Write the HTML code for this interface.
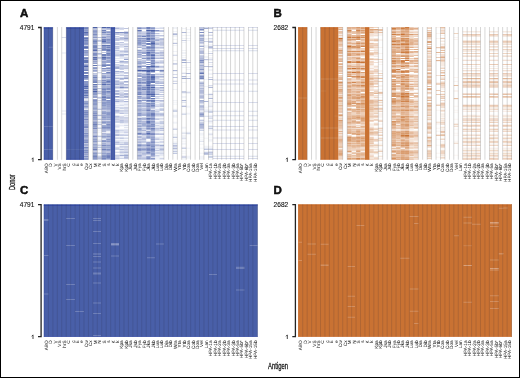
<!DOCTYPE html>
<html><head><meta charset="utf-8"><style>
html,body{margin:0;padding:0;background:#fff;}
body{width:520px;height:378px;overflow:hidden;position:relative;}
#fr{position:absolute;left:0;top:0;width:518px;height:376px;border:1px solid #000;}
svg{position:absolute;left:0;top:0;}
text{font-family:"Liberation Sans",sans-serif;fill:#111;}
svg{-webkit-font-smoothing:antialiased;}
.pl{font-size:11.5px;font-weight:bold;stroke:#000;stroke-width:0.45;}
.one{font-size:6.6px;fill:#222;}
.num{font-size:7.2px;fill:#111;stroke:#111;stroke-width:0.12;}
.xl{font-size:4.7px;fill:#000;text-anchor:end;text-rendering:geometricPrecision;}
.tt{font-size:9.8px;fill:#111;stroke:#111;stroke-width:0.3;}
.ax{fill:none;stroke:#222;stroke-width:1.3;}
</style></head><body><div id="fr"></div>
<svg width="520" height="378" viewBox="0 0 520 378">
<g opacity="0.995"><defs><filter id="bl" x="-5%" y="-5%" width="110%" height="110%"><feGaussianBlur stdDeviation="0.25 0.3"/></filter></defs>
<text x="19.9" y="16.9" class="pl">A</text>
<text x="19.8" y="29.9" class="num" textLength="14.6" lengthAdjust="spacingAndGlyphs">4791</text>
<path d="M31.7 159.2L33 157.8V161.9" fill="none" stroke="#333" stroke-width="0.9"/>
<path d="M38 27.5H41.1V159.6H38" class="ax"/>
<rect x="43.8" y="27.1" width="9.08" height="132.6" fill="rgb(72,94,168)"/>
<rect x="66.21" y="27.1" width="17.77" height="132.6" fill="rgb(72,94,168)"/>
<rect x="110.65" y="27.1" width="4.44" height="132.6" fill="rgb(72,94,168)"/>
<g filter="url(#bl)"><path fill="rgb(72,94,168)" fill-opacity="0.071" d="M97.31 30.09h4.44v1h-4.44zM97.31 31.09h4.44v1h-4.44zM97.31 32.08h4.44v1h-4.44zM97.31 34.08h4.44v1h-4.44zM97.31 39.06h4.44v1h-4.44zM97.31 43.05h4.44v1h-4.44zM97.31 46.04h4.44v1h-4.44zM97.31 47.04h4.44v1h-4.44zM97.31 49.03h4.44v1h-4.44zM97.31 51.03h4.44v1h-4.44zM97.31 52.02h4.44v1h-4.44zM97.31 55.02h4.44v1h-4.44zM97.31 56.01h4.44v1h-4.44zM97.31 59h4.44v1h-4.44zM97.31 60h4.44v1h-4.44zM97.31 61h4.44v1h-4.44zM97.31 63.99h4.44v1h-4.44zM97.31 66.98h4.44v1h-4.44zM97.31 67.98h4.44v1h-4.44zM97.31 69.97h4.44v1h-4.44zM97.31 72.96h4.44v1h-4.44zM97.31 76.95h4.44v1h-4.44zM97.31 82.93h4.44v1h-4.44zM97.31 85.92h4.44v1h-4.44zM97.31 88.91h4.44v1h-4.44zM97.31 89.91h4.44v1h-4.44zM97.31 93.9h4.44v1h-4.44zM97.31 95.89h4.44v1h-4.44zM97.31 102.87h4.44v1h-4.44zM97.31 103.87h4.44v1h-4.44zM97.31 104.87h4.44v1h-4.44zM97.31 105.86h4.44v1h-4.44zM97.31 106.86h4.44v1h-4.44zM97.31 107.86h4.44v1h-4.44zM97.31 110.85h4.44v1h-4.44zM97.31 111.84h4.44v1h-4.44zM97.31 112.84h4.44v1h-4.44zM97.31 115.83h4.44v1h-4.44zM97.31 116.83h4.44v1h-4.44zM97.31 120.82h4.44v1h-4.44zM97.31 124.81h4.44v1h-4.44zM97.31 126.8h4.44v1h-4.44zM97.31 129.79h4.44v1h-4.44zM97.31 131.78h4.44v1h-4.44zM97.31 136.77h4.44v1h-4.44zM97.31 138.76h4.44v1h-4.44zM97.31 139.76h4.44v1h-4.44zM97.31 143.75h4.44v1h-4.44zM97.31 149.73h4.44v1h-4.44zM97.31 151.72h4.44v1h-4.44zM97.31 154.72h4.44v1h-4.44zM115.09 30.09h4.44v1h-4.44zM115.09 45.05h4.44v1h-4.44zM115.09 69.97h4.44v1h-4.44zM115.09 73.96h4.44v1h-4.44zM115.09 75.95h4.44v1h-4.44zM115.09 78.94h4.44v1h-4.44zM115.09 108.85h4.44v1h-4.44zM115.09 123.81h4.44v1h-4.44zM115.09 128.79h4.44v1h-4.44zM115.09 132.78h4.44v1h-4.44zM119.53 75.95h4.44v1h-4.44zM119.53 88.91h4.44v1h-4.44zM119.53 97.89h4.44v1h-4.44zM119.53 102.87h4.44v1h-4.44zM119.53 103.87h4.44v1h-4.44zM119.53 125.8h4.44v1h-4.44zM119.53 128.79h4.44v1h-4.44zM119.53 140.76h4.44v1h-4.44zM119.53 142.75h4.44v1h-4.44zM123.98 53.02h4.44v1h-4.44zM123.98 56.01h4.44v1h-4.44zM123.98 68.97h4.44v1h-4.44zM123.98 69.97h4.44v1h-4.44zM123.98 78.94h4.44v1h-4.44zM123.98 102.87h4.44v1h-4.44zM123.98 132.78h4.44v1h-4.44zM123.98 136.77h4.44v1h-4.44zM123.98 140.76h4.44v1h-4.44zM123.98 158.7h4.44v1h-4.44zM137.31 134.78h4.44v1h-4.44zM141.75 29.09h4.44v1h-4.44zM141.75 63.99h4.44v1h-4.44zM155.08 27.1h4.44v1h-4.44zM155.08 34.08h4.44v1h-4.44zM155.08 49.03h4.44v1h-4.44zM155.08 51.03h4.44v1h-4.44zM155.08 63.99h4.44v1h-4.44zM155.08 67.98h4.44v1h-4.44zM155.08 68.97h4.44v1h-4.44zM155.08 83.93h4.44v1h-4.44zM155.08 100.88h4.44v1h-4.44zM155.08 106.86h4.44v1h-4.44zM155.08 120.82h4.44v1h-4.44zM155.08 126.8h4.44v1h-4.44zM155.08 139.76h4.44v1h-4.44zM155.08 146.74h4.44v1h-4.44zM155.08 150.73h4.44v1h-4.44zM155.08 156.71h4.44v1h-4.44zM155.08 157.71h4.44v1h-4.44zM155.08 158.7h4.44v1h-4.44zM159.53 33.08h4.44v1h-4.44zM159.53 64.99h4.44v1h-4.44zM159.53 67.98h4.44v1h-4.44zM159.53 77.95h4.44v1h-4.44zM159.53 94.9h4.44v1h-4.44zM159.53 101.87h4.44v1h-4.44zM159.53 124.81h4.44v1h-4.44zM159.53 126.8h4.44v1h-4.44zM159.53 130.79h4.44v1h-4.44zM159.53 135.77h4.44v1h-4.44zM159.53 137.77h4.44v1h-4.44zM159.53 142.75h4.44v1h-4.44zM159.53 155.71h4.44v1h-4.44zM172.86 27.1h4.44v1h-4.44zM172.86 28.1h4.44v1h-4.44zM172.86 31.09h4.44v1h-4.44zM172.86 35.08h4.44v1h-4.44zM172.86 36.07h4.44v1h-4.44zM172.86 39.06h4.44v1h-4.44zM172.86 42.05h4.44v1h-4.44zM172.86 45.05h4.44v1h-4.44zM172.86 51.03h4.44v1h-4.44zM172.86 54.02h4.44v1h-4.44zM172.86 60h4.44v1h-4.44zM172.86 70.97h4.44v1h-4.44zM172.86 79.94h4.44v1h-4.44zM172.86 88.91h4.44v1h-4.44zM172.86 99.88h4.44v1h-4.44zM172.86 101.87h4.44v1h-4.44zM172.86 103.87h4.44v1h-4.44zM172.86 108.85h4.44v1h-4.44zM172.86 114.84h4.44v1h-4.44zM172.86 115.83h4.44v1h-4.44zM172.86 116.83h4.44v1h-4.44zM172.86 121.81h4.44v1h-4.44zM172.86 122.81h4.44v1h-4.44zM172.86 127.8h4.44v1h-4.44zM172.86 133.78h4.44v1h-4.44zM172.86 134.78h4.44v1h-4.44zM172.86 138.76h4.44v1h-4.44zM172.86 140.76h4.44v1h-4.44zM172.86 146.74h4.44v1h-4.44zM181.74 28.1h4.44v1h-4.44zM181.74 35.08h4.44v1h-4.44zM181.74 38.07h4.44v1h-4.44zM181.74 42.05h4.44v1h-4.44zM181.74 50.03h4.44v1h-4.44zM181.74 52.02h4.44v1h-4.44zM181.74 53.02h4.44v1h-4.44zM181.74 55.02h4.44v1h-4.44zM181.74 57.01h4.44v1h-4.44zM181.74 64.99h4.44v1h-4.44zM181.74 66.98h4.44v1h-4.44zM181.74 71.96h4.44v1h-4.44zM181.74 76.95h4.44v1h-4.44zM181.74 81.93h4.44v1h-4.44zM181.74 92.9h4.44v1h-4.44zM181.74 95.89h4.44v1h-4.44zM181.74 96.89h4.44v1h-4.44zM181.74 112.84h4.44v1h-4.44zM181.74 126.8h4.44v1h-4.44zM181.74 127.8h4.44v1h-4.44zM181.74 131.78h4.44v1h-4.44zM181.74 134.78h4.44v1h-4.44zM181.74 135.77h4.44v1h-4.44zM181.74 136.77h4.44v1h-4.44zM181.74 138.76h4.44v1h-4.44zM181.74 140.76h4.44v1h-4.44zM181.74 142.75h4.44v1h-4.44zM181.74 143.75h4.44v1h-4.44zM181.74 146.74h4.44v1h-4.44zM181.74 150.73h4.44v1h-4.44zM181.74 152.72h4.44v1h-4.44zM181.74 157.71h4.44v1h-4.44zM181.74 158.7h4.44v1h-4.44zM186.19 29.09h4.44v1h-4.44zM186.19 32.08h4.44v1h-4.44zM186.19 35.08h4.44v1h-4.44zM186.19 38.07h4.44v1h-4.44zM186.19 40.06h4.44v1h-4.44zM186.19 60h4.44v1h-4.44zM186.19 66.98h4.44v1h-4.44zM186.19 68.97h4.44v1h-4.44zM186.19 75.95h4.44v1h-4.44zM186.19 90.91h4.44v1h-4.44zM186.19 92.9h4.44v1h-4.44zM186.19 105.86h4.44v1h-4.44zM186.19 106.86h4.44v1h-4.44zM186.19 112.84h4.44v1h-4.44zM186.19 113.84h4.44v1h-4.44zM186.19 131.78h4.44v1h-4.44zM186.19 133.78h4.44v1h-4.44zM186.19 147.74h4.44v1h-4.44zM186.19 155.71h4.44v1h-4.44zM186.19 156.71h4.44v1h-4.44zM186.19 157.71h4.44v1h-4.44zM199.52 44.05h4.44v1h-4.44zM199.52 54.02h4.44v1h-4.44zM199.52 110.85h4.44v1h-4.44zM199.52 116.83h4.44v1h-4.44zM199.52 120.82h4.44v1h-4.44zM199.52 128.79h4.44v1h-4.44zM199.52 132.78h4.44v1h-4.44zM199.52 133.78h4.44v1h-4.44zM199.52 134.78h4.44v1h-4.44zM199.52 136.77h4.44v1h-4.44zM199.52 138.76h4.44v1h-4.44zM199.52 143.75h4.44v1h-4.44zM199.52 147.74h4.44v1h-4.44zM199.52 152.72h4.44v1h-4.44zM199.52 155.71h4.44v1h-4.44zM199.52 156.71h4.44v1h-4.44zM199.52 157.71h4.44v1h-4.44zM199.52 158.7h4.44v1h-4.44zM203.96 31.09h4.44v1h-4.44zM203.96 35.08h4.44v1h-4.44zM203.96 38.07h4.44v1h-4.44zM203.96 39.06h4.44v1h-4.44zM203.96 45.05h4.44v1h-4.44zM203.96 46.04h4.44v1h-4.44zM203.96 47.04h4.44v1h-4.44zM203.96 53.02h4.44v1h-4.44zM203.96 56.01h4.44v1h-4.44zM203.96 57.01h4.44v1h-4.44zM203.96 60h4.44v1h-4.44zM203.96 78.94h4.44v1h-4.44zM203.96 85.92h4.44v1h-4.44zM203.96 93.9h4.44v1h-4.44zM203.96 106.86h4.44v1h-4.44zM203.96 108.85h4.44v1h-4.44zM203.96 109.85h4.44v1h-4.44zM203.96 111.84h4.44v1h-4.44zM203.96 120.82h4.44v1h-4.44zM203.96 137.77h4.44v1h-4.44zM203.96 145.74h4.44v1h-4.44zM203.96 146.74h4.44v1h-4.44zM203.96 147.74h4.44v1h-4.44zM208.41 34.08h4.44v1h-4.44zM208.41 39.06h4.44v1h-4.44zM208.41 40.06h4.44v1h-4.44zM208.41 44.05h4.44v1h-4.44zM208.41 45.05h4.44v1h-4.44zM208.41 51.03h4.44v1h-4.44zM208.41 55.02h4.44v1h-4.44zM208.41 57.01h4.44v1h-4.44zM208.41 58.01h4.44v1h-4.44zM208.41 60h4.44v1h-4.44zM208.41 63.99h4.44v1h-4.44zM208.41 66.98h4.44v1h-4.44zM208.41 68.97h4.44v1h-4.44zM208.41 69.97h4.44v1h-4.44zM208.41 72.96h4.44v1h-4.44zM208.41 73.96h4.44v1h-4.44zM208.41 85.92h4.44v1h-4.44zM208.41 92.9h4.44v1h-4.44zM208.41 94.9h4.44v1h-4.44zM208.41 95.89h4.44v1h-4.44zM208.41 96.89h4.44v1h-4.44zM208.41 99.88h4.44v1h-4.44zM208.41 100.88h4.44v1h-4.44zM208.41 101.87h4.44v1h-4.44zM208.41 102.87h4.44v1h-4.44zM208.41 103.87h4.44v1h-4.44zM208.41 104.87h4.44v1h-4.44zM208.41 106.86h4.44v1h-4.44zM208.41 108.85h4.44v1h-4.44zM208.41 109.85h4.44v1h-4.44zM208.41 114.84h4.44v1h-4.44zM208.41 116.83h4.44v1h-4.44zM208.41 119.82h4.44v1h-4.44zM208.41 121.81h4.44v1h-4.44zM208.41 122.81h4.44v1h-4.44zM208.41 128.79h4.44v1h-4.44zM208.41 129.79h4.44v1h-4.44zM208.41 132.78h4.44v1h-4.44zM208.41 134.78h4.44v1h-4.44zM208.41 136.77h4.44v1h-4.44zM208.41 138.76h4.44v1h-4.44zM208.41 139.76h4.44v1h-4.44zM208.41 140.76h4.44v1h-4.44zM208.41 145.74h4.44v1h-4.44zM208.41 146.74h4.44v1h-4.44zM208.41 147.74h4.44v1h-4.44zM208.41 150.73h4.44v1h-4.44zM208.41 158.7h4.44v1h-4.44z"/>
<path fill="rgb(72,94,168)" fill-opacity="0.143" d="M83.98 98.88h4.44v1h-4.44zM106.2 44.05h4.44v1h-4.44zM106.2 119.82h4.44v1h-4.44zM106.2 130.79h4.44v1h-4.44zM115.09 29.09h4.44v1h-4.44zM115.09 37.07h4.44v1h-4.44zM115.09 49.03h4.44v1h-4.44zM115.09 51.03h4.44v1h-4.44zM115.09 56.01h4.44v1h-4.44zM115.09 58.01h4.44v1h-4.44zM115.09 60h4.44v1h-4.44zM115.09 84.93h4.44v1h-4.44zM115.09 91.9h4.44v1h-4.44zM115.09 101.87h4.44v1h-4.44zM115.09 102.87h4.44v1h-4.44zM115.09 107.86h4.44v1h-4.44zM115.09 124.81h4.44v1h-4.44zM115.09 126.8h4.44v1h-4.44zM115.09 136.77h4.44v1h-4.44zM115.09 139.76h4.44v1h-4.44zM115.09 140.76h4.44v1h-4.44zM115.09 158.7h4.44v1h-4.44zM119.53 27.1h4.44v1h-4.44zM119.53 40.06h4.44v1h-4.44zM119.53 43.05h4.44v1h-4.44zM119.53 47.04h4.44v1h-4.44zM119.53 53.02h4.44v1h-4.44zM119.53 57.01h4.44v1h-4.44zM119.53 58.01h4.44v1h-4.44zM119.53 60h4.44v1h-4.44zM119.53 62.99h4.44v1h-4.44zM119.53 63.99h4.44v1h-4.44zM119.53 72.96h4.44v1h-4.44zM119.53 73.96h4.44v1h-4.44zM119.53 76.95h4.44v1h-4.44zM119.53 90.91h4.44v1h-4.44zM119.53 101.87h4.44v1h-4.44zM119.53 111.84h4.44v1h-4.44zM119.53 122.81h4.44v1h-4.44zM119.53 124.81h4.44v1h-4.44zM119.53 130.79h4.44v1h-4.44zM119.53 136.77h4.44v1h-4.44zM119.53 149.73h4.44v1h-4.44zM119.53 155.71h4.44v1h-4.44zM123.98 41.06h4.44v1h-4.44zM123.98 45.05h4.44v1h-4.44zM123.98 47.04h4.44v1h-4.44zM123.98 101.87h4.44v1h-4.44zM123.98 104.87h4.44v1h-4.44zM123.98 108.85h4.44v1h-4.44zM123.98 111.84h4.44v1h-4.44zM123.98 122.81h4.44v1h-4.44zM123.98 128.79h4.44v1h-4.44zM123.98 130.79h4.44v1h-4.44zM123.98 133.78h4.44v1h-4.44zM123.98 139.76h4.44v1h-4.44zM123.98 147.74h4.44v1h-4.44zM123.98 152.72h4.44v1h-4.44zM137.31 49.03h4.44v1h-4.44zM137.31 71.96h4.44v1h-4.44zM137.31 98.88h4.44v1h-4.44zM137.31 126.8h4.44v1h-4.44zM137.31 137.77h4.44v1h-4.44zM137.31 142.75h4.44v1h-4.44zM141.75 59h4.44v1h-4.44zM141.75 71.96h4.44v1h-4.44zM141.75 106.86h4.44v1h-4.44zM141.75 119.82h4.44v1h-4.44zM141.75 126.8h4.44v1h-4.44zM141.75 128.79h4.44v1h-4.44zM141.75 131.78h4.44v1h-4.44zM155.08 36.07h4.44v1h-4.44zM155.08 45.05h4.44v1h-4.44zM155.08 46.04h4.44v1h-4.44zM155.08 54.02h4.44v1h-4.44zM155.08 56.01h4.44v1h-4.44zM155.08 60h4.44v1h-4.44zM155.08 64.99h4.44v1h-4.44zM155.08 72.96h4.44v1h-4.44zM155.08 74.96h4.44v1h-4.44zM155.08 79.94h4.44v1h-4.44zM155.08 96.89h4.44v1h-4.44zM155.08 104.87h4.44v1h-4.44zM155.08 109.85h4.44v1h-4.44zM155.08 111.84h4.44v1h-4.44zM155.08 121.81h4.44v1h-4.44zM155.08 125.8h4.44v1h-4.44zM155.08 130.79h4.44v1h-4.44zM155.08 136.77h4.44v1h-4.44zM155.08 151.72h4.44v1h-4.44zM155.08 155.71h4.44v1h-4.44zM159.53 27.1h4.44v1h-4.44zM159.53 36.07h4.44v1h-4.44zM159.53 46.04h4.44v1h-4.44zM159.53 56.01h4.44v1h-4.44zM159.53 68.97h4.44v1h-4.44zM159.53 71.96h4.44v1h-4.44zM159.53 72.96h4.44v1h-4.44zM159.53 74.96h4.44v1h-4.44zM159.53 79.94h4.44v1h-4.44zM159.53 90.91h4.44v1h-4.44zM159.53 123.81h4.44v1h-4.44zM159.53 128.79h4.44v1h-4.44zM159.53 136.77h4.44v1h-4.44zM159.53 146.74h4.44v1h-4.44zM159.53 150.73h4.44v1h-4.44zM159.53 151.72h4.44v1h-4.44zM159.53 153.72h4.44v1h-4.44zM159.53 154.72h4.44v1h-4.44zM159.53 158.7h4.44v1h-4.44zM199.52 80.94h4.44v1h-4.44zM61.8 52.5h4.4v1h-4.4zM61.8 110.5h4.4v1h-4.4zM61.8 113.5h4.4v1h-4.4z"/>
<path fill="rgb(72,94,168)" fill-opacity="0.214" d="M83.98 99.88h4.44v1h-4.44zM83.98 145.74h4.44v1h-4.44zM97.31 45.05h4.44v1h-4.44zM97.31 71.96h4.44v1h-4.44zM97.31 80.94h4.44v1h-4.44zM97.31 91.9h4.44v1h-4.44zM97.31 97.89h4.44v1h-4.44zM97.31 99.88h4.44v1h-4.44zM97.31 101.87h4.44v1h-4.44zM97.31 148.73h4.44v1h-4.44zM101.76 44.05h4.44v1h-4.44zM101.76 109.85h4.44v1h-4.44zM101.76 119.82h4.44v1h-4.44zM106.2 70.97h4.44v1h-4.44zM115.09 27.1h4.44v1h-4.44zM115.09 52.02h4.44v1h-4.44zM115.09 53.02h4.44v1h-4.44zM115.09 64.99h4.44v1h-4.44zM115.09 71.96h4.44v1h-4.44zM115.09 76.95h4.44v1h-4.44zM115.09 87.92h4.44v1h-4.44zM115.09 104.87h4.44v1h-4.44zM115.09 112.84h4.44v1h-4.44zM115.09 117.83h4.44v1h-4.44zM115.09 119.82h4.44v1h-4.44zM115.09 125.8h4.44v1h-4.44zM115.09 142.75h4.44v1h-4.44zM115.09 146.74h4.44v1h-4.44zM115.09 156.71h4.44v1h-4.44zM119.53 29.09h4.44v1h-4.44zM119.53 35.08h4.44v1h-4.44zM119.53 45.05h4.44v1h-4.44zM119.53 46.04h4.44v1h-4.44zM119.53 50.03h4.44v1h-4.44zM119.53 52.02h4.44v1h-4.44zM119.53 56.01h4.44v1h-4.44zM119.53 80.94h4.44v1h-4.44zM119.53 89.91h4.44v1h-4.44zM119.53 91.9h4.44v1h-4.44zM119.53 98.88h4.44v1h-4.44zM119.53 106.86h4.44v1h-4.44zM119.53 115.83h4.44v1h-4.44zM119.53 118.82h4.44v1h-4.44zM119.53 131.78h4.44v1h-4.44zM119.53 133.78h4.44v1h-4.44zM119.53 139.76h4.44v1h-4.44zM119.53 150.73h4.44v1h-4.44zM119.53 152.72h4.44v1h-4.44zM123.98 31.09h4.44v1h-4.44zM123.98 43.05h4.44v1h-4.44zM123.98 49.03h4.44v1h-4.44zM123.98 55.02h4.44v1h-4.44zM123.98 57.01h4.44v1h-4.44zM123.98 58.01h4.44v1h-4.44zM123.98 62.99h4.44v1h-4.44zM123.98 75.95h4.44v1h-4.44zM123.98 85.92h4.44v1h-4.44zM123.98 87.92h4.44v1h-4.44zM123.98 94.9h4.44v1h-4.44zM123.98 103.87h4.44v1h-4.44zM123.98 114.84h4.44v1h-4.44zM123.98 118.82h4.44v1h-4.44zM123.98 126.8h4.44v1h-4.44zM123.98 129.79h4.44v1h-4.44zM123.98 149.73h4.44v1h-4.44zM123.98 150.73h4.44v1h-4.44zM123.98 153.72h4.44v1h-4.44zM137.31 29.09h4.44v1h-4.44zM137.31 94.9h4.44v1h-4.44zM141.75 31.09h4.44v1h-4.44zM141.75 37.07h4.44v1h-4.44zM141.75 83.93h4.44v1h-4.44zM141.75 94.9h4.44v1h-4.44zM141.75 116.83h4.44v1h-4.44zM141.75 130.79h4.44v1h-4.44zM141.75 135.77h4.44v1h-4.44zM141.75 139.76h4.44v1h-4.44zM141.75 155.71h4.44v1h-4.44zM155.08 28.1h4.44v1h-4.44zM155.08 37.07h4.44v1h-4.44zM155.08 38.07h4.44v1h-4.44zM155.08 41.06h4.44v1h-4.44zM155.08 48.04h4.44v1h-4.44zM155.08 50.03h4.44v1h-4.44zM155.08 57.01h4.44v1h-4.44zM155.08 61h4.44v1h-4.44zM155.08 62.99h4.44v1h-4.44zM155.08 78.94h4.44v1h-4.44zM155.08 89.91h4.44v1h-4.44zM155.08 90.91h4.44v1h-4.44zM155.08 91.9h4.44v1h-4.44zM155.08 92.9h4.44v1h-4.44zM155.08 101.87h4.44v1h-4.44zM155.08 103.87h4.44v1h-4.44zM155.08 108.85h4.44v1h-4.44zM155.08 115.83h4.44v1h-4.44zM155.08 117.83h4.44v1h-4.44zM155.08 137.77h4.44v1h-4.44zM155.08 143.75h4.44v1h-4.44zM155.08 145.74h4.44v1h-4.44zM159.53 28.1h4.44v1h-4.44zM159.53 48.04h4.44v1h-4.44zM159.53 50.03h4.44v1h-4.44zM159.53 51.03h4.44v1h-4.44zM159.53 60h4.44v1h-4.44zM159.53 62.99h4.44v1h-4.44zM159.53 88.91h4.44v1h-4.44zM159.53 97.89h4.44v1h-4.44zM159.53 102.87h4.44v1h-4.44zM159.53 107.86h4.44v1h-4.44zM159.53 115.83h4.44v1h-4.44zM159.53 117.83h4.44v1h-4.44zM159.53 118.82h4.44v1h-4.44zM159.53 132.78h4.44v1h-4.44zM159.53 140.76h4.44v1h-4.44zM172.86 55.02h4.44v1h-4.44zM172.86 63.99h4.44v1h-4.44zM172.86 73.96h4.44v1h-4.44zM172.86 80.94h4.44v1h-4.44zM172.86 109.85h4.44v1h-4.44zM172.86 148.73h4.44v1h-4.44zM181.74 72.96h4.44v1h-4.44zM181.74 101.87h4.44v1h-4.44zM181.74 132.78h4.44v1h-4.44zM181.74 137.77h4.44v1h-4.44zM181.74 155.71h4.44v1h-4.44zM186.19 91.9h4.44v1h-4.44zM199.52 37.07h4.44v1h-4.44zM199.52 45.05h4.44v1h-4.44zM199.52 49.03h4.44v1h-4.44zM199.52 73.96h4.44v1h-4.44zM199.52 78.94h4.44v1h-4.44zM199.52 86.92h4.44v1h-4.44zM199.52 93.9h4.44v1h-4.44zM199.52 107.86h4.44v1h-4.44zM199.52 109.85h4.44v1h-4.44zM199.52 140.76h4.44v1h-4.44zM203.96 27.1h4.44v1h-4.44zM203.96 110.85h4.44v1h-4.44zM203.96 115.83h4.44v1h-4.44zM208.41 27.1h4.44v1h-4.44zM208.41 35.08h4.44v1h-4.44zM208.41 38.07h4.44v1h-4.44zM208.41 48.04h4.44v1h-4.44zM208.41 59h4.44v1h-4.44zM208.41 61.99h4.44v1h-4.44zM208.41 76.95h4.44v1h-4.44zM208.41 84.93h4.44v1h-4.44zM208.41 105.86h4.44v1h-4.44zM208.41 115.83h4.44v1h-4.44zM208.41 120.82h4.44v1h-4.44zM208.41 133.78h4.44v1h-4.44zM208.41 152.72h4.44v1h-4.44zM212.85 27.1h4.44v1h-4.44zM212.85 29.8h4.44v1h-4.44zM212.85 45h4.44v1h-4.44zM212.85 48h4.44v1h-4.44zM212.85 50.3h4.44v1h-4.44zM212.85 73.1h4.44v1h-4.44zM212.85 79.6h4.44v1h-4.44zM212.85 83.4h4.44v1h-4.44zM212.85 90.8h4.44v1h-4.44zM212.85 101.9h4.44v1h-4.44zM212.85 110.7h4.44v1h-4.44zM212.85 115.3h4.44v1h-4.44zM212.85 119.8h4.44v1h-4.44zM212.85 125.9h4.44v1h-4.44zM212.85 129.6h4.44v1h-4.44zM212.85 137.5h4.44v1h-4.44zM212.85 143h4.44v1h-4.44zM212.85 149.1h4.44v1h-4.44zM212.85 155.7h4.44v1h-4.44zM212.85 157.9h4.44v1h-4.44zM217.29 27.1h4.44v1h-4.44zM217.29 29.8h4.44v1h-4.44zM217.29 45h4.44v1h-4.44zM217.29 48h4.44v1h-4.44zM217.29 50.3h4.44v1h-4.44zM217.29 73.1h4.44v1h-4.44zM217.29 79.6h4.44v1h-4.44zM217.29 83.4h4.44v1h-4.44zM217.29 90.8h4.44v1h-4.44zM217.29 101.9h4.44v1h-4.44zM217.29 110.7h4.44v1h-4.44zM217.29 115.3h4.44v1h-4.44zM217.29 119.8h4.44v1h-4.44zM217.29 125.9h4.44v1h-4.44zM217.29 129.6h4.44v1h-4.44zM217.29 137.5h4.44v1h-4.44zM217.29 143h4.44v1h-4.44zM217.29 149.1h4.44v1h-4.44zM217.29 155.7h4.44v1h-4.44zM217.29 157.9h4.44v1h-4.44zM221.74 27.1h4.44v1h-4.44zM221.74 29.8h4.44v1h-4.44zM221.74 45h4.44v1h-4.44zM221.74 48h4.44v1h-4.44zM221.74 50.3h4.44v1h-4.44zM221.74 73.1h4.44v1h-4.44zM221.74 79.6h4.44v1h-4.44zM221.74 83.4h4.44v1h-4.44zM221.74 90.8h4.44v1h-4.44zM221.74 101.9h4.44v1h-4.44zM221.74 110.7h4.44v1h-4.44zM221.74 115.3h4.44v1h-4.44zM221.74 119.8h4.44v1h-4.44zM221.74 125.9h4.44v1h-4.44zM221.74 129.6h4.44v1h-4.44zM221.74 137.5h4.44v1h-4.44zM221.74 143h4.44v1h-4.44zM221.74 149.1h4.44v1h-4.44zM221.74 155.7h4.44v1h-4.44zM221.74 157.9h4.44v1h-4.44zM226.18 27.1h4.44v1h-4.44zM226.18 29.8h4.44v1h-4.44zM226.18 45h4.44v1h-4.44zM226.18 48h4.44v1h-4.44zM226.18 50.3h4.44v1h-4.44zM226.18 73.1h4.44v1h-4.44zM226.18 79.6h4.44v1h-4.44zM226.18 83.4h4.44v1h-4.44zM226.18 90.8h4.44v1h-4.44zM226.18 101.9h4.44v1h-4.44zM226.18 110.7h4.44v1h-4.44zM226.18 115.3h4.44v1h-4.44zM226.18 119.8h4.44v1h-4.44zM226.18 125.9h4.44v1h-4.44zM226.18 129.6h4.44v1h-4.44zM226.18 137.5h4.44v1h-4.44zM226.18 143h4.44v1h-4.44zM226.18 149.1h4.44v1h-4.44zM226.18 155.7h4.44v1h-4.44zM226.18 157.9h4.44v1h-4.44zM230.63 27.1h4.44v1h-4.44zM230.63 29.8h4.44v1h-4.44zM230.63 45h4.44v1h-4.44zM230.63 48h4.44v1h-4.44zM230.63 50.3h4.44v1h-4.44zM230.63 73.1h4.44v1h-4.44zM230.63 79.6h4.44v1h-4.44zM230.63 83.4h4.44v1h-4.44zM230.63 90.8h4.44v1h-4.44zM230.63 101.9h4.44v1h-4.44zM230.63 110.7h4.44v1h-4.44zM230.63 115.3h4.44v1h-4.44zM230.63 119.8h4.44v1h-4.44zM230.63 125.9h4.44v1h-4.44zM230.63 129.6h4.44v1h-4.44zM230.63 137.5h4.44v1h-4.44zM230.63 143h4.44v1h-4.44zM230.63 149.1h4.44v1h-4.44zM230.63 155.7h4.44v1h-4.44zM230.63 157.9h4.44v1h-4.44zM235.07 27.1h4.44v1h-4.44zM235.07 29.8h4.44v1h-4.44zM235.07 45h4.44v1h-4.44zM235.07 48h4.44v1h-4.44zM235.07 50.3h4.44v1h-4.44zM235.07 73.1h4.44v1h-4.44zM235.07 79.6h4.44v1h-4.44zM235.07 83.4h4.44v1h-4.44zM235.07 90.8h4.44v1h-4.44zM235.07 101.9h4.44v1h-4.44zM235.07 110.7h4.44v1h-4.44zM235.07 115.3h4.44v1h-4.44zM235.07 119.8h4.44v1h-4.44zM235.07 125.9h4.44v1h-4.44zM235.07 129.6h4.44v1h-4.44zM235.07 137.5h4.44v1h-4.44zM235.07 143h4.44v1h-4.44zM235.07 149.1h4.44v1h-4.44zM235.07 155.7h4.44v1h-4.44zM235.07 157.9h4.44v1h-4.44zM239.51 27.1h4.44v1h-4.44zM239.51 29.8h4.44v1h-4.44zM239.51 45h4.44v1h-4.44zM239.51 48h4.44v1h-4.44zM239.51 50.3h4.44v1h-4.44zM239.51 73.1h4.44v1h-4.44zM239.51 79.6h4.44v1h-4.44zM239.51 83.4h4.44v1h-4.44zM239.51 90.8h4.44v1h-4.44zM239.51 101.9h4.44v1h-4.44zM239.51 110.7h4.44v1h-4.44zM239.51 115.3h4.44v1h-4.44zM239.51 119.8h4.44v1h-4.44zM239.51 125.9h4.44v1h-4.44zM239.51 129.6h4.44v1h-4.44zM239.51 137.5h4.44v1h-4.44zM239.51 143h4.44v1h-4.44zM239.51 149.1h4.44v1h-4.44zM239.51 155.7h4.44v1h-4.44zM239.51 157.9h4.44v1h-4.44zM248.4 27.1h4.44v1h-4.44zM248.4 29.8h4.44v1h-4.44zM248.4 45h4.44v1h-4.44zM248.4 48h4.44v1h-4.44zM248.4 50.3h4.44v1h-4.44zM248.4 73.1h4.44v1h-4.44zM248.4 79.6h4.44v1h-4.44zM248.4 83.4h4.44v1h-4.44zM248.4 90.8h4.44v1h-4.44zM248.4 101.9h4.44v1h-4.44zM248.4 110.7h4.44v1h-4.44zM248.4 115.3h4.44v1h-4.44zM248.4 119.8h4.44v1h-4.44zM248.4 125.9h4.44v1h-4.44zM248.4 129.6h4.44v1h-4.44zM248.4 137.5h4.44v1h-4.44zM248.4 143h4.44v1h-4.44zM248.4 149.1h4.44v1h-4.44zM248.4 155.7h4.44v1h-4.44zM248.4 157.9h4.44v1h-4.44zM252.84 27.1h4.86v1h-4.86zM252.84 29.8h4.86v1h-4.86zM252.84 45h4.86v1h-4.86zM252.84 48h4.86v1h-4.86zM252.84 50.3h4.86v1h-4.86zM252.84 73.1h4.86v1h-4.86zM252.84 79.6h4.86v1h-4.86zM252.84 83.4h4.86v1h-4.86zM252.84 90.8h4.86v1h-4.86zM252.84 101.9h4.86v1h-4.86zM252.84 110.7h4.86v1h-4.86zM252.84 115.3h4.86v1h-4.86zM252.84 119.8h4.86v1h-4.86zM252.84 125.9h4.86v1h-4.86zM252.84 129.6h4.86v1h-4.86zM252.84 137.5h4.86v1h-4.86zM252.84 143h4.86v1h-4.86zM252.84 149.1h4.86v1h-4.86zM252.84 155.7h4.86v1h-4.86zM252.84 157.9h4.86v1h-4.86zM61.8 37.1h4.4v1h-4.4z"/>
<path fill="rgb(72,94,168)" fill-opacity="0.286" d="M83.98 45.05h4.44v1h-4.44zM83.98 62.99h4.44v1h-4.44zM83.98 97.89h4.44v1h-4.44zM83.98 142.75h4.44v1h-4.44zM92.87 38.07h4.44v1h-4.44zM92.87 68.97h4.44v1h-4.44zM92.87 73.96h4.44v1h-4.44zM92.87 150.73h4.44v1h-4.44zM97.31 27.1h4.44v1h-4.44zM97.31 41.06h4.44v1h-4.44zM97.31 50.03h4.44v1h-4.44zM97.31 54.02h4.44v1h-4.44zM97.31 58.01h4.44v1h-4.44zM97.31 64.99h4.44v1h-4.44zM97.31 79.94h4.44v1h-4.44zM97.31 81.93h4.44v1h-4.44zM97.31 121.81h4.44v1h-4.44zM97.31 155.71h4.44v1h-4.44zM97.31 158.7h4.44v1h-4.44zM101.76 29.09h4.44v1h-4.44zM101.76 35.08h4.44v1h-4.44zM101.76 73.96h4.44v1h-4.44zM101.76 141.75h4.44v1h-4.44zM106.2 77.95h4.44v1h-4.44zM106.2 132.78h4.44v1h-4.44zM115.09 36.07h4.44v1h-4.44zM115.09 42.05h4.44v1h-4.44zM115.09 43.05h4.44v1h-4.44zM115.09 47.04h4.44v1h-4.44zM115.09 54.02h4.44v1h-4.44zM115.09 61.99h4.44v1h-4.44zM115.09 63.99h4.44v1h-4.44zM115.09 72.96h4.44v1h-4.44zM115.09 79.94h4.44v1h-4.44zM115.09 85.92h4.44v1h-4.44zM115.09 99.88h4.44v1h-4.44zM115.09 106.86h4.44v1h-4.44zM115.09 120.82h4.44v1h-4.44zM115.09 130.79h4.44v1h-4.44zM115.09 147.74h4.44v1h-4.44zM115.09 151.72h4.44v1h-4.44zM115.09 155.71h4.44v1h-4.44zM119.53 28.1h4.44v1h-4.44zM119.53 33.08h4.44v1h-4.44zM119.53 34.08h4.44v1h-4.44zM119.53 44.05h4.44v1h-4.44zM119.53 65.98h4.44v1h-4.44zM119.53 66.98h4.44v1h-4.44zM119.53 68.97h4.44v1h-4.44zM119.53 71.96h4.44v1h-4.44zM119.53 84.93h4.44v1h-4.44zM119.53 87.92h4.44v1h-4.44zM119.53 92.9h4.44v1h-4.44zM119.53 95.89h4.44v1h-4.44zM119.53 99.88h4.44v1h-4.44zM119.53 100.88h4.44v1h-4.44zM119.53 104.87h4.44v1h-4.44zM119.53 109.85h4.44v1h-4.44zM119.53 110.85h4.44v1h-4.44zM119.53 116.83h4.44v1h-4.44zM119.53 117.83h4.44v1h-4.44zM119.53 129.79h4.44v1h-4.44zM119.53 141.75h4.44v1h-4.44zM119.53 145.74h4.44v1h-4.44zM119.53 146.74h4.44v1h-4.44zM123.98 34.08h4.44v1h-4.44zM123.98 36.07h4.44v1h-4.44zM123.98 40.06h4.44v1h-4.44zM123.98 44.05h4.44v1h-4.44zM123.98 48.04h4.44v1h-4.44zM123.98 50.03h4.44v1h-4.44zM123.98 52.02h4.44v1h-4.44zM123.98 64.99h4.44v1h-4.44zM123.98 65.98h4.44v1h-4.44zM123.98 66.98h4.44v1h-4.44zM123.98 72.96h4.44v1h-4.44zM123.98 81.93h4.44v1h-4.44zM123.98 84.93h4.44v1h-4.44zM123.98 89.91h4.44v1h-4.44zM123.98 90.91h4.44v1h-4.44zM123.98 98.88h4.44v1h-4.44zM123.98 106.86h4.44v1h-4.44zM123.98 107.86h4.44v1h-4.44zM123.98 109.85h4.44v1h-4.44zM123.98 110.85h4.44v1h-4.44zM123.98 116.83h4.44v1h-4.44zM123.98 117.83h4.44v1h-4.44zM123.98 119.82h4.44v1h-4.44zM123.98 120.82h4.44v1h-4.44zM123.98 121.81h4.44v1h-4.44zM123.98 124.81h4.44v1h-4.44zM123.98 137.77h4.44v1h-4.44zM123.98 142.75h4.44v1h-4.44zM123.98 145.74h4.44v1h-4.44zM123.98 146.74h4.44v1h-4.44zM137.31 34.08h4.44v1h-4.44zM137.31 37.07h4.44v1h-4.44zM137.31 46.04h4.44v1h-4.44zM137.31 60h4.44v1h-4.44zM137.31 103.87h4.44v1h-4.44zM137.31 115.83h4.44v1h-4.44zM137.31 131.78h4.44v1h-4.44zM137.31 139.76h4.44v1h-4.44zM137.31 146.74h4.44v1h-4.44zM137.31 153.72h4.44v1h-4.44zM141.75 32.08h4.44v1h-4.44zM141.75 34.08h4.44v1h-4.44zM141.75 44.05h4.44v1h-4.44zM141.75 47.04h4.44v1h-4.44zM141.75 49.03h4.44v1h-4.44zM141.75 56.01h4.44v1h-4.44zM141.75 57.01h4.44v1h-4.44zM141.75 68.97h4.44v1h-4.44zM141.75 72.96h4.44v1h-4.44zM141.75 95.89h4.44v1h-4.44zM141.75 98.88h4.44v1h-4.44zM141.75 101.87h4.44v1h-4.44zM141.75 110.85h4.44v1h-4.44zM141.75 134.78h4.44v1h-4.44zM141.75 136.77h4.44v1h-4.44zM141.75 146.74h4.44v1h-4.44zM141.75 150.73h4.44v1h-4.44zM141.75 154.72h4.44v1h-4.44zM141.75 156.71h4.44v1h-4.44zM146.2 98.88h4.44v1h-4.44zM150.64 126.8h4.44v1h-4.44zM155.08 42.05h4.44v1h-4.44zM155.08 77.95h4.44v1h-4.44zM155.08 87.92h4.44v1h-4.44zM155.08 95.89h4.44v1h-4.44zM155.08 97.89h4.44v1h-4.44zM155.08 124.81h4.44v1h-4.44zM155.08 128.79h4.44v1h-4.44zM155.08 129.79h4.44v1h-4.44zM155.08 132.78h4.44v1h-4.44zM155.08 147.74h4.44v1h-4.44zM155.08 152.72h4.44v1h-4.44zM155.08 154.72h4.44v1h-4.44zM159.53 40.06h4.44v1h-4.44zM159.53 41.06h4.44v1h-4.44zM159.53 45.05h4.44v1h-4.44zM159.53 54.02h4.44v1h-4.44zM159.53 57.01h4.44v1h-4.44zM159.53 61h4.44v1h-4.44zM159.53 66.98h4.44v1h-4.44zM159.53 76.95h4.44v1h-4.44zM159.53 78.94h4.44v1h-4.44zM159.53 80.94h4.44v1h-4.44zM159.53 87.92h4.44v1h-4.44zM159.53 91.9h4.44v1h-4.44zM159.53 95.89h4.44v1h-4.44zM159.53 100.88h4.44v1h-4.44zM159.53 103.87h4.44v1h-4.44zM159.53 104.87h4.44v1h-4.44zM159.53 120.82h4.44v1h-4.44zM159.53 121.81h4.44v1h-4.44zM159.53 125.8h4.44v1h-4.44zM159.53 138.76h4.44v1h-4.44zM159.53 141.75h4.44v1h-4.44zM159.53 145.74h4.44v1h-4.44zM159.53 147.74h4.44v1h-4.44zM159.53 152.72h4.44v1h-4.44zM159.53 157.71h4.44v1h-4.44zM172.86 33.08h4.44v1h-4.44zM172.86 62.99h4.44v1h-4.44zM172.86 82.93h4.44v1h-4.44zM172.86 142.75h4.44v1h-4.44zM181.74 40.06h4.44v1h-4.44zM181.74 90.91h4.44v1h-4.44zM181.74 91.9h4.44v1h-4.44zM181.74 113.84h4.44v1h-4.44zM181.74 156.71h4.44v1h-4.44zM186.19 61.99h4.44v1h-4.44zM186.19 132.78h4.44v1h-4.44zM199.52 34.08h4.44v1h-4.44zM199.52 41.06h4.44v1h-4.44zM199.52 43.05h4.44v1h-4.44zM199.52 48.04h4.44v1h-4.44zM199.52 50.03h4.44v1h-4.44zM199.52 55.02h4.44v1h-4.44zM199.52 62.99h4.44v1h-4.44zM199.52 63.99h4.44v1h-4.44zM199.52 69.97h4.44v1h-4.44zM199.52 70.97h4.44v1h-4.44zM199.52 83.93h4.44v1h-4.44zM199.52 85.92h4.44v1h-4.44zM199.52 88.91h4.44v1h-4.44zM199.52 97.89h4.44v1h-4.44zM199.52 102.87h4.44v1h-4.44zM199.52 111.84h4.44v1h-4.44zM199.52 121.81h4.44v1h-4.44zM199.52 122.81h4.44v1h-4.44zM203.96 41.06h4.44v1h-4.44zM203.96 151.72h4.44v1h-4.44zM208.41 28.1h4.44v1h-4.44zM208.41 42.05h4.44v1h-4.44zM208.41 53.02h4.44v1h-4.44zM208.41 110.85h4.44v1h-4.44zM208.41 117.83h4.44v1h-4.44zM208.41 155.71h4.44v1h-4.44z"/>
<path fill="rgb(72,94,168)" fill-opacity="0.357" d="M83.98 88.91h4.44v1h-4.44zM83.98 127.8h4.44v1h-4.44zM83.98 131.78h4.44v1h-4.44zM83.98 154.72h4.44v1h-4.44zM92.87 29.09h4.44v1h-4.44zM92.87 56.01h4.44v1h-4.44zM92.87 72.96h4.44v1h-4.44zM92.87 109.85h4.44v1h-4.44zM92.87 133.78h4.44v1h-4.44zM92.87 142.75h4.44v1h-4.44zM97.31 37.07h4.44v1h-4.44zM97.31 40.06h4.44v1h-4.44zM97.31 57.01h4.44v1h-4.44zM97.31 87.92h4.44v1h-4.44zM97.31 90.91h4.44v1h-4.44zM97.31 92.9h4.44v1h-4.44zM97.31 96.89h4.44v1h-4.44zM97.31 127.8h4.44v1h-4.44zM97.31 140.76h4.44v1h-4.44zM97.31 144.75h4.44v1h-4.44zM97.31 152.72h4.44v1h-4.44zM97.31 156.71h4.44v1h-4.44zM101.76 52.02h4.44v1h-4.44zM101.76 60h4.44v1h-4.44zM101.76 68.97h4.44v1h-4.44zM101.76 70.97h4.44v1h-4.44zM101.76 78.94h4.44v1h-4.44zM101.76 100.88h4.44v1h-4.44zM101.76 134.78h4.44v1h-4.44zM101.76 137.77h4.44v1h-4.44zM101.76 143.75h4.44v1h-4.44zM106.2 29.09h4.44v1h-4.44zM106.2 33.08h4.44v1h-4.44zM106.2 35.08h4.44v1h-4.44zM106.2 56.01h4.44v1h-4.44zM106.2 68.97h4.44v1h-4.44zM106.2 73.96h4.44v1h-4.44zM106.2 89.91h4.44v1h-4.44zM106.2 109.85h4.44v1h-4.44zM106.2 110.85h4.44v1h-4.44zM106.2 137.77h4.44v1h-4.44zM106.2 142.75h4.44v1h-4.44zM106.2 143.75h4.44v1h-4.44zM106.2 147.74h4.44v1h-4.44zM106.2 151.72h4.44v1h-4.44zM115.09 33.08h4.44v1h-4.44zM115.09 34.08h4.44v1h-4.44zM115.09 38.07h4.44v1h-4.44zM115.09 39.06h4.44v1h-4.44zM115.09 40.06h4.44v1h-4.44zM115.09 44.05h4.44v1h-4.44zM115.09 46.04h4.44v1h-4.44zM115.09 48.04h4.44v1h-4.44zM115.09 50.03h4.44v1h-4.44zM115.09 55.02h4.44v1h-4.44zM115.09 65.98h4.44v1h-4.44zM115.09 74.96h4.44v1h-4.44zM115.09 81.93h4.44v1h-4.44zM115.09 82.93h4.44v1h-4.44zM115.09 89.91h4.44v1h-4.44zM115.09 96.89h4.44v1h-4.44zM115.09 98.88h4.44v1h-4.44zM115.09 111.84h4.44v1h-4.44zM115.09 116.83h4.44v1h-4.44zM115.09 118.82h4.44v1h-4.44zM115.09 121.81h4.44v1h-4.44zM115.09 131.78h4.44v1h-4.44zM115.09 133.78h4.44v1h-4.44zM115.09 137.77h4.44v1h-4.44zM115.09 148.73h4.44v1h-4.44zM115.09 154.72h4.44v1h-4.44zM119.53 37.07h4.44v1h-4.44zM119.53 39.06h4.44v1h-4.44zM119.53 42.05h4.44v1h-4.44zM119.53 51.03h4.44v1h-4.44zM119.53 61.99h4.44v1h-4.44zM119.53 67.98h4.44v1h-4.44zM119.53 74.96h4.44v1h-4.44zM119.53 78.94h4.44v1h-4.44zM119.53 81.93h4.44v1h-4.44zM119.53 83.93h4.44v1h-4.44zM119.53 85.92h4.44v1h-4.44zM119.53 93.9h4.44v1h-4.44zM119.53 94.9h4.44v1h-4.44zM119.53 96.89h4.44v1h-4.44zM119.53 107.86h4.44v1h-4.44zM119.53 120.82h4.44v1h-4.44zM119.53 157.71h4.44v1h-4.44zM123.98 28.1h4.44v1h-4.44zM123.98 35.08h4.44v1h-4.44zM123.98 37.07h4.44v1h-4.44zM123.98 39.06h4.44v1h-4.44zM123.98 61.99h4.44v1h-4.44zM123.98 67.98h4.44v1h-4.44zM123.98 71.96h4.44v1h-4.44zM123.98 76.95h4.44v1h-4.44zM123.98 96.89h4.44v1h-4.44zM123.98 112.84h4.44v1h-4.44zM123.98 131.78h4.44v1h-4.44zM123.98 141.75h4.44v1h-4.44zM123.98 148.73h4.44v1h-4.44zM123.98 155.71h4.44v1h-4.44zM137.31 32.08h4.44v1h-4.44zM137.31 51.03h4.44v1h-4.44zM137.31 53.02h4.44v1h-4.44zM137.31 59h4.44v1h-4.44zM137.31 63.99h4.44v1h-4.44zM137.31 64.99h4.44v1h-4.44zM137.31 67.98h4.44v1h-4.44zM137.31 83.93h4.44v1h-4.44zM137.31 101.87h4.44v1h-4.44zM137.31 106.86h4.44v1h-4.44zM137.31 119.82h4.44v1h-4.44zM137.31 121.81h4.44v1h-4.44zM137.31 123.81h4.44v1h-4.44zM137.31 130.79h4.44v1h-4.44zM137.31 140.76h4.44v1h-4.44zM137.31 150.73h4.44v1h-4.44zM137.31 152.72h4.44v1h-4.44zM137.31 156.71h4.44v1h-4.44zM137.31 158.7h4.44v1h-4.44zM141.75 27.1h4.44v1h-4.44zM141.75 33.08h4.44v1h-4.44zM141.75 46.04h4.44v1h-4.44zM141.75 50.03h4.44v1h-4.44zM141.75 51.03h4.44v1h-4.44zM141.75 60h4.44v1h-4.44zM141.75 61h4.44v1h-4.44zM141.75 64.99h4.44v1h-4.44zM141.75 67.98h4.44v1h-4.44zM141.75 80.94h4.44v1h-4.44zM141.75 89.91h4.44v1h-4.44zM141.75 103.87h4.44v1h-4.44zM141.75 107.86h4.44v1h-4.44zM141.75 108.85h4.44v1h-4.44zM141.75 111.84h4.44v1h-4.44zM141.75 140.76h4.44v1h-4.44zM141.75 143.75h4.44v1h-4.44zM141.75 151.72h4.44v1h-4.44zM141.75 158.7h4.44v1h-4.44zM146.2 116.83h4.44v1h-4.44zM150.64 29.09h4.44v1h-4.44zM150.64 71.96h4.44v1h-4.44zM150.64 98.88h4.44v1h-4.44zM150.64 101.87h4.44v1h-4.44zM150.64 119.82h4.44v1h-4.44zM150.64 131.78h4.44v1h-4.44zM155.08 31.09h4.44v1h-4.44zM155.08 33.08h4.44v1h-4.44zM155.08 35.08h4.44v1h-4.44zM155.08 47.04h4.44v1h-4.44zM155.08 52.02h4.44v1h-4.44zM155.08 55.02h4.44v1h-4.44zM155.08 73.96h4.44v1h-4.44zM155.08 76.95h4.44v1h-4.44zM155.08 81.93h4.44v1h-4.44zM155.08 84.93h4.44v1h-4.44zM155.08 86.92h4.44v1h-4.44zM155.08 88.91h4.44v1h-4.44zM155.08 105.86h4.44v1h-4.44zM155.08 110.85h4.44v1h-4.44zM155.08 112.84h4.44v1h-4.44zM155.08 114.84h4.44v1h-4.44zM155.08 122.81h4.44v1h-4.44zM155.08 141.75h4.44v1h-4.44zM159.53 30.09h4.44v1h-4.44zM159.53 31.09h4.44v1h-4.44zM159.53 35.08h4.44v1h-4.44zM159.53 38.07h4.44v1h-4.44zM159.53 42.05h4.44v1h-4.44zM159.53 43.05h4.44v1h-4.44zM159.53 44.05h4.44v1h-4.44zM159.53 47.04h4.44v1h-4.44zM159.53 53.02h4.44v1h-4.44zM159.53 61.99h4.44v1h-4.44zM159.53 65.98h4.44v1h-4.44zM159.53 81.93h4.44v1h-4.44zM159.53 93.9h4.44v1h-4.44zM159.53 108.85h4.44v1h-4.44zM159.53 112.84h4.44v1h-4.44zM159.53 149.73h4.44v1h-4.44zM172.86 43.05h4.44v1h-4.44zM172.86 76.95h4.44v1h-4.44zM172.86 110.85h4.44v1h-4.44zM172.86 128.79h4.44v1h-4.44zM172.86 145.74h4.44v1h-4.44zM181.74 59h4.44v1h-4.44zM181.74 147.74h4.44v1h-4.44zM199.52 27.1h4.44v1h-4.44zM199.52 28.1h4.44v1h-4.44zM199.52 30.09h4.44v1h-4.44zM199.52 56.01h4.44v1h-4.44zM199.52 57.01h4.44v1h-4.44zM199.52 65.98h4.44v1h-4.44zM199.52 66.98h4.44v1h-4.44zM199.52 67.98h4.44v1h-4.44zM199.52 81.93h4.44v1h-4.44zM199.52 84.93h4.44v1h-4.44zM199.52 92.9h4.44v1h-4.44zM199.52 94.9h4.44v1h-4.44zM199.52 100.88h4.44v1h-4.44zM199.52 104.87h4.44v1h-4.44zM199.52 108.85h4.44v1h-4.44zM199.52 129.79h4.44v1h-4.44zM203.96 59h4.44v1h-4.44zM203.96 65.98h4.44v1h-4.44zM208.41 41.06h4.44v1h-4.44zM208.41 46.04h4.44v1h-4.44zM208.41 65.98h4.44v1h-4.44zM208.41 93.9h4.44v1h-4.44zM208.41 111.84h4.44v1h-4.44zM208.41 125.8h4.44v1h-4.44zM208.41 153.72h4.44v1h-4.44zM208.41 156.71h4.44v1h-4.44z"/>
<path fill="rgb(72,94,168)" fill-opacity="0.429" d="M83.98 104.87h4.44v1h-4.44zM83.98 107.86h4.44v1h-4.44zM83.98 117.83h4.44v1h-4.44zM83.98 122.81h4.44v1h-4.44zM83.98 137.77h4.44v1h-4.44zM83.98 148.73h4.44v1h-4.44zM83.98 156.71h4.44v1h-4.44zM92.87 28.1h4.44v1h-4.44zM92.87 36.07h4.44v1h-4.44zM92.87 44.05h4.44v1h-4.44zM92.87 51.03h4.44v1h-4.44zM92.87 52.02h4.44v1h-4.44zM92.87 60h4.44v1h-4.44zM92.87 61.99h4.44v1h-4.44zM92.87 70.97h4.44v1h-4.44zM92.87 84.93h4.44v1h-4.44zM92.87 94.9h4.44v1h-4.44zM92.87 119.82h4.44v1h-4.44zM92.87 128.79h4.44v1h-4.44zM92.87 130.79h4.44v1h-4.44zM92.87 132.78h4.44v1h-4.44zM92.87 134.78h4.44v1h-4.44zM92.87 137.77h4.44v1h-4.44zM92.87 145.74h4.44v1h-4.44zM97.31 48.04h4.44v1h-4.44zM97.31 53.02h4.44v1h-4.44zM97.31 83.93h4.44v1h-4.44zM97.31 108.85h4.44v1h-4.44zM97.31 118.82h4.44v1h-4.44zM97.31 123.81h4.44v1h-4.44zM97.31 135.77h4.44v1h-4.44zM97.31 146.74h4.44v1h-4.44zM101.76 28.1h4.44v1h-4.44zM101.76 33.08h4.44v1h-4.44zM101.76 36.07h4.44v1h-4.44zM101.76 38.07h4.44v1h-4.44zM101.76 62.99h4.44v1h-4.44zM101.76 77.95h4.44v1h-4.44zM101.76 113.84h4.44v1h-4.44zM101.76 129.79h4.44v1h-4.44zM101.76 133.78h4.44v1h-4.44zM101.76 147.74h4.44v1h-4.44zM101.76 150.73h4.44v1h-4.44zM101.76 151.72h4.44v1h-4.44zM101.76 153.72h4.44v1h-4.44zM106.2 37.07h4.44v1h-4.44zM106.2 38.07h4.44v1h-4.44zM106.2 59h4.44v1h-4.44zM106.2 66.98h4.44v1h-4.44zM106.2 74.96h4.44v1h-4.44zM106.2 75.95h4.44v1h-4.44zM106.2 82.93h4.44v1h-4.44zM106.2 84.93h4.44v1h-4.44zM106.2 93.9h4.44v1h-4.44zM106.2 117.83h4.44v1h-4.44zM106.2 129.79h4.44v1h-4.44zM106.2 134.78h4.44v1h-4.44zM106.2 141.75h4.44v1h-4.44zM106.2 150.73h4.44v1h-4.44zM115.09 28.1h4.44v1h-4.44zM115.09 77.95h4.44v1h-4.44zM115.09 80.94h4.44v1h-4.44zM115.09 86.92h4.44v1h-4.44zM115.09 90.91h4.44v1h-4.44zM115.09 93.9h4.44v1h-4.44zM115.09 110.85h4.44v1h-4.44zM115.09 115.83h4.44v1h-4.44zM115.09 129.79h4.44v1h-4.44zM115.09 143.75h4.44v1h-4.44zM115.09 157.71h4.44v1h-4.44zM119.53 38.07h4.44v1h-4.44zM119.53 54.02h4.44v1h-4.44zM119.53 55.02h4.44v1h-4.44zM119.53 64.99h4.44v1h-4.44zM119.53 70.97h4.44v1h-4.44zM119.53 82.93h4.44v1h-4.44zM119.53 119.82h4.44v1h-4.44zM119.53 121.81h4.44v1h-4.44zM119.53 134.78h4.44v1h-4.44zM119.53 137.77h4.44v1h-4.44zM119.53 151.72h4.44v1h-4.44zM123.98 46.04h4.44v1h-4.44zM123.98 51.03h4.44v1h-4.44zM123.98 61h4.44v1h-4.44zM123.98 74.96h4.44v1h-4.44zM123.98 83.93h4.44v1h-4.44zM123.98 92.9h4.44v1h-4.44zM123.98 93.9h4.44v1h-4.44zM123.98 100.88h4.44v1h-4.44zM123.98 134.78h4.44v1h-4.44zM123.98 156.71h4.44v1h-4.44zM123.98 157.71h4.44v1h-4.44zM137.31 33.08h4.44v1h-4.44zM137.31 45.05h4.44v1h-4.44zM137.31 55.02h4.44v1h-4.44zM137.31 56.01h4.44v1h-4.44zM137.31 57.01h4.44v1h-4.44zM137.31 68.97h4.44v1h-4.44zM137.31 73.96h4.44v1h-4.44zM137.31 107.86h4.44v1h-4.44zM137.31 110.85h4.44v1h-4.44zM137.31 111.84h4.44v1h-4.44zM137.31 124.81h4.44v1h-4.44zM137.31 135.77h4.44v1h-4.44zM137.31 151.72h4.44v1h-4.44zM141.75 35.08h4.44v1h-4.44zM141.75 39.06h4.44v1h-4.44zM141.75 42.05h4.44v1h-4.44zM141.75 62.99h4.44v1h-4.44zM141.75 74.96h4.44v1h-4.44zM141.75 77.95h4.44v1h-4.44zM141.75 84.93h4.44v1h-4.44zM141.75 85.92h4.44v1h-4.44zM141.75 90.91h4.44v1h-4.44zM141.75 91.9h4.44v1h-4.44zM141.75 92.9h4.44v1h-4.44zM141.75 96.89h4.44v1h-4.44zM141.75 104.87h4.44v1h-4.44zM141.75 112.84h4.44v1h-4.44zM141.75 120.82h4.44v1h-4.44zM141.75 121.81h4.44v1h-4.44zM141.75 127.8h4.44v1h-4.44zM141.75 137.77h4.44v1h-4.44zM141.75 141.75h4.44v1h-4.44zM141.75 145.74h4.44v1h-4.44zM141.75 152.72h4.44v1h-4.44zM141.75 153.72h4.44v1h-4.44zM141.75 157.71h4.44v1h-4.44zM146.2 29.09h4.44v1h-4.44zM146.2 49.03h4.44v1h-4.44zM146.2 56.01h4.44v1h-4.44zM146.2 60h4.44v1h-4.44zM146.2 119.82h4.44v1h-4.44zM146.2 134.78h4.44v1h-4.44zM146.2 153.72h4.44v1h-4.44zM150.64 34.08h4.44v1h-4.44zM150.64 59h4.44v1h-4.44zM150.64 67.98h4.44v1h-4.44zM150.64 83.93h4.44v1h-4.44zM150.64 107.86h4.44v1h-4.44zM150.64 134.78h4.44v1h-4.44zM155.08 39.06h4.44v1h-4.44zM155.08 43.05h4.44v1h-4.44zM155.08 44.05h4.44v1h-4.44zM155.08 53.02h4.44v1h-4.44zM155.08 58.01h4.44v1h-4.44zM155.08 61.99h4.44v1h-4.44zM155.08 66.98h4.44v1h-4.44zM155.08 75.95h4.44v1h-4.44zM155.08 80.94h4.44v1h-4.44zM155.08 82.93h4.44v1h-4.44zM155.08 99.88h4.44v1h-4.44zM155.08 113.84h4.44v1h-4.44zM155.08 118.82h4.44v1h-4.44zM155.08 127.8h4.44v1h-4.44zM155.08 138.76h4.44v1h-4.44zM155.08 149.73h4.44v1h-4.44zM159.53 39.06h4.44v1h-4.44zM159.53 52.02h4.44v1h-4.44zM159.53 55.02h4.44v1h-4.44zM159.53 58.01h4.44v1h-4.44zM159.53 73.96h4.44v1h-4.44zM159.53 75.95h4.44v1h-4.44zM159.53 82.93h4.44v1h-4.44zM159.53 89.91h4.44v1h-4.44zM159.53 99.88h4.44v1h-4.44zM159.53 105.86h4.44v1h-4.44zM159.53 109.85h4.44v1h-4.44zM159.53 113.84h4.44v1h-4.44zM159.53 114.84h4.44v1h-4.44zM159.53 122.81h4.44v1h-4.44zM159.53 129.79h4.44v1h-4.44zM172.86 34.08h4.44v1h-4.44zM172.86 69.97h4.44v1h-4.44zM172.86 136.77h4.44v1h-4.44zM172.86 144.75h4.44v1h-4.44zM172.86 150.73h4.44v1h-4.44zM172.86 152.72h4.44v1h-4.44zM181.74 32.08h4.44v1h-4.44zM181.74 60h4.44v1h-4.44zM181.74 75.95h4.44v1h-4.44zM181.74 99.88h4.44v1h-4.44zM186.19 72.96h4.44v1h-4.44zM186.19 77.95h4.44v1h-4.44zM199.52 36.07h4.44v1h-4.44zM199.52 39.06h4.44v1h-4.44zM199.52 42.05h4.44v1h-4.44zM199.52 51.03h4.44v1h-4.44zM199.52 52.02h4.44v1h-4.44zM199.52 53.02h4.44v1h-4.44zM199.52 58.01h4.44v1h-4.44zM199.52 59h4.44v1h-4.44zM199.52 74.96h4.44v1h-4.44zM199.52 87.92h4.44v1h-4.44zM199.52 89.91h4.44v1h-4.44zM199.52 90.91h4.44v1h-4.44zM199.52 91.9h4.44v1h-4.44zM199.52 95.89h4.44v1h-4.44zM199.52 96.89h4.44v1h-4.44zM199.52 101.87h4.44v1h-4.44zM199.52 105.86h4.44v1h-4.44zM199.52 106.86h4.44v1h-4.44zM199.52 119.82h4.44v1h-4.44zM199.52 125.8h4.44v1h-4.44zM199.52 126.8h4.44v1h-4.44zM199.52 127.8h4.44v1h-4.44zM203.96 100.88h4.44v1h-4.44zM203.96 148.73h4.44v1h-4.44zM203.96 152.72h4.44v1h-4.44zM203.96 153.72h4.44v1h-4.44zM208.41 32.08h4.44v1h-4.44zM208.41 47.04h4.44v1h-4.44zM208.41 78.94h4.44v1h-4.44zM208.41 86.92h4.44v1h-4.44zM208.41 97.89h4.44v1h-4.44zM208.41 127.8h4.44v1h-4.44zM208.41 148.73h4.44v1h-4.44zM208.41 151.72h4.44v1h-4.44z"/>
<path fill="rgb(72,94,168)" fill-opacity="0.500" d="M83.98 53.02h4.44v1h-4.44zM83.98 54.02h4.44v1h-4.44zM83.98 55.02h4.44v1h-4.44zM83.98 59h4.44v1h-4.44zM83.98 63.99h4.44v1h-4.44zM83.98 78.94h4.44v1h-4.44zM83.98 95.89h4.44v1h-4.44zM83.98 100.88h4.44v1h-4.44zM83.98 119.82h4.44v1h-4.44zM83.98 128.79h4.44v1h-4.44zM83.98 129.79h4.44v1h-4.44zM83.98 133.78h4.44v1h-4.44zM83.98 152.72h4.44v1h-4.44zM92.87 33.08h4.44v1h-4.44zM92.87 35.08h4.44v1h-4.44zM92.87 39.06h4.44v1h-4.44zM92.87 75.95h4.44v1h-4.44zM92.87 77.95h4.44v1h-4.44zM92.87 86.92h4.44v1h-4.44zM92.87 105.86h4.44v1h-4.44zM92.87 113.84h4.44v1h-4.44zM92.87 120.82h4.44v1h-4.44zM92.87 126.8h4.44v1h-4.44zM92.87 129.79h4.44v1h-4.44zM92.87 136.77h4.44v1h-4.44zM92.87 139.76h4.44v1h-4.44zM92.87 141.75h4.44v1h-4.44zM92.87 147.74h4.44v1h-4.44zM92.87 151.72h4.44v1h-4.44zM97.31 114.84h4.44v1h-4.44zM97.31 157.71h4.44v1h-4.44zM101.76 31.09h4.44v1h-4.44zM101.76 34.08h4.44v1h-4.44zM101.76 43.05h4.44v1h-4.44zM101.76 56.01h4.44v1h-4.44zM101.76 69.97h4.44v1h-4.44zM101.76 74.96h4.44v1h-4.44zM101.76 80.94h4.44v1h-4.44zM101.76 84.93h4.44v1h-4.44zM101.76 85.92h4.44v1h-4.44zM101.76 86.92h4.44v1h-4.44zM101.76 94.9h4.44v1h-4.44zM101.76 105.86h4.44v1h-4.44zM101.76 106.86h4.44v1h-4.44zM101.76 117.83h4.44v1h-4.44zM101.76 128.79h4.44v1h-4.44zM101.76 132.78h4.44v1h-4.44zM101.76 145.74h4.44v1h-4.44zM106.2 28.1h4.44v1h-4.44zM106.2 31.09h4.44v1h-4.44zM106.2 36.07h4.44v1h-4.44zM106.2 43.05h4.44v1h-4.44zM106.2 48.04h4.44v1h-4.44zM106.2 52.02h4.44v1h-4.44zM106.2 78.94h4.44v1h-4.44zM106.2 85.92h4.44v1h-4.44zM106.2 86.92h4.44v1h-4.44zM106.2 92.9h4.44v1h-4.44zM106.2 94.9h4.44v1h-4.44zM106.2 95.89h4.44v1h-4.44zM106.2 100.88h4.44v1h-4.44zM106.2 122.81h4.44v1h-4.44zM106.2 128.79h4.44v1h-4.44zM106.2 136.77h4.44v1h-4.44zM106.2 139.76h4.44v1h-4.44zM106.2 145.74h4.44v1h-4.44zM106.2 158.7h4.44v1h-4.44zM115.09 66.98h4.44v1h-4.44zM115.09 67.98h4.44v1h-4.44zM115.09 70.97h4.44v1h-4.44zM115.09 83.93h4.44v1h-4.44zM115.09 92.9h4.44v1h-4.44zM115.09 100.88h4.44v1h-4.44zM115.09 109.85h4.44v1h-4.44zM115.09 141.75h4.44v1h-4.44zM119.53 61h4.44v1h-4.44zM119.53 77.95h4.44v1h-4.44zM119.53 112.84h4.44v1h-4.44zM119.53 143.75h4.44v1h-4.44zM119.53 148.73h4.44v1h-4.44zM123.98 33.08h4.44v1h-4.44zM123.98 54.02h4.44v1h-4.44zM123.98 80.94h4.44v1h-4.44zM123.98 95.89h4.44v1h-4.44zM123.98 143.75h4.44v1h-4.44zM123.98 151.72h4.44v1h-4.44zM137.31 27.1h4.44v1h-4.44zM137.31 31.09h4.44v1h-4.44zM137.31 35.08h4.44v1h-4.44zM137.31 39.06h4.44v1h-4.44zM137.31 47.04h4.44v1h-4.44zM137.31 61h4.44v1h-4.44zM137.31 61.99h4.44v1h-4.44zM137.31 70.97h4.44v1h-4.44zM137.31 72.96h4.44v1h-4.44zM137.31 78.94h4.44v1h-4.44zM137.31 80.94h4.44v1h-4.44zM137.31 85.92h4.44v1h-4.44zM137.31 89.91h4.44v1h-4.44zM137.31 90.91h4.44v1h-4.44zM137.31 96.89h4.44v1h-4.44zM137.31 100.88h4.44v1h-4.44zM137.31 138.76h4.44v1h-4.44zM137.31 155.71h4.44v1h-4.44zM137.31 157.71h4.44v1h-4.44zM141.75 28.1h4.44v1h-4.44zM141.75 48.04h4.44v1h-4.44zM141.75 61.99h4.44v1h-4.44zM141.75 73.96h4.44v1h-4.44zM141.75 79.94h4.44v1h-4.44zM141.75 97.89h4.44v1h-4.44zM141.75 102.87h4.44v1h-4.44zM141.75 113.84h4.44v1h-4.44zM141.75 117.83h4.44v1h-4.44zM141.75 122.81h4.44v1h-4.44zM141.75 123.81h4.44v1h-4.44zM141.75 124.81h4.44v1h-4.44zM141.75 125.8h4.44v1h-4.44zM141.75 132.78h4.44v1h-4.44zM141.75 138.76h4.44v1h-4.44zM141.75 147.74h4.44v1h-4.44zM146.2 37.07h4.44v1h-4.44zM146.2 51.03h4.44v1h-4.44zM146.2 59h4.44v1h-4.44zM146.2 106.86h4.44v1h-4.44zM146.2 110.85h4.44v1h-4.44zM146.2 126.8h4.44v1h-4.44zM146.2 145.74h4.44v1h-4.44zM146.2 146.74h4.44v1h-4.44zM146.2 150.73h4.44v1h-4.44zM146.2 158.7h4.44v1h-4.44zM150.64 27.1h4.44v1h-4.44zM150.64 37.07h4.44v1h-4.44zM150.64 40.06h4.44v1h-4.44zM150.64 49.03h4.44v1h-4.44zM150.64 51.03h4.44v1h-4.44zM150.64 53.02h4.44v1h-4.44zM150.64 63.99h4.44v1h-4.44zM150.64 85.92h4.44v1h-4.44zM150.64 106.86h4.44v1h-4.44zM150.64 111.84h4.44v1h-4.44zM150.64 116.83h4.44v1h-4.44zM150.64 130.79h4.44v1h-4.44zM150.64 135.77h4.44v1h-4.44zM150.64 139.76h4.44v1h-4.44zM150.64 142.75h4.44v1h-4.44zM150.64 158.7h4.44v1h-4.44zM155.08 40.06h4.44v1h-4.44zM155.08 93.9h4.44v1h-4.44zM155.08 133.78h4.44v1h-4.44zM155.08 144.75h4.44v1h-4.44zM159.53 70.97h4.44v1h-4.44zM159.53 84.93h4.44v1h-4.44zM159.53 86.92h4.44v1h-4.44zM159.53 133.78h4.44v1h-4.44zM159.53 148.73h4.44v1h-4.44zM172.86 147.74h4.44v1h-4.44zM181.74 61.99h4.44v1h-4.44zM181.74 77.95h4.44v1h-4.44zM181.74 105.86h4.44v1h-4.44zM199.52 38.07h4.44v1h-4.44zM199.52 40.06h4.44v1h-4.44zM199.52 46.04h4.44v1h-4.44zM199.52 61h4.44v1h-4.44zM199.52 64.99h4.44v1h-4.44zM199.52 82.93h4.44v1h-4.44zM199.52 99.88h4.44v1h-4.44zM199.52 112.84h4.44v1h-4.44zM199.52 114.84h4.44v1h-4.44zM199.52 124.81h4.44v1h-4.44zM203.96 28.1h4.44v1h-4.44z"/>
<path fill="rgb(72,94,168)" fill-opacity="0.571" d="M83.98 29.09h4.44v1h-4.44zM83.98 31.09h4.44v1h-4.44zM83.98 35.08h4.44v1h-4.44zM83.98 51.03h4.44v1h-4.44zM83.98 66.98h4.44v1h-4.44zM83.98 67.98h4.44v1h-4.44zM83.98 93.9h4.44v1h-4.44zM83.98 101.87h4.44v1h-4.44zM83.98 106.86h4.44v1h-4.44zM83.98 120.82h4.44v1h-4.44zM83.98 130.79h4.44v1h-4.44zM83.98 138.76h4.44v1h-4.44zM83.98 143.75h4.44v1h-4.44zM83.98 150.73h4.44v1h-4.44zM92.87 30.09h4.44v1h-4.44zM92.87 32.08h4.44v1h-4.44zM92.87 48.04h4.44v1h-4.44zM92.87 61h4.44v1h-4.44zM92.87 62.99h4.44v1h-4.44zM92.87 66.98h4.44v1h-4.44zM92.87 69.97h4.44v1h-4.44zM92.87 74.96h4.44v1h-4.44zM92.87 78.94h4.44v1h-4.44zM92.87 87.92h4.44v1h-4.44zM92.87 89.91h4.44v1h-4.44zM92.87 95.89h4.44v1h-4.44zM92.87 96.89h4.44v1h-4.44zM92.87 98.88h4.44v1h-4.44zM92.87 100.88h4.44v1h-4.44zM92.87 104.87h4.44v1h-4.44zM92.87 106.86h4.44v1h-4.44zM92.87 110.85h4.44v1h-4.44zM92.87 111.84h4.44v1h-4.44zM92.87 115.83h4.44v1h-4.44zM92.87 131.78h4.44v1h-4.44zM92.87 143.75h4.44v1h-4.44zM92.87 144.75h4.44v1h-4.44zM92.87 149.73h4.44v1h-4.44zM92.87 153.72h4.44v1h-4.44zM101.76 61h4.44v1h-4.44zM101.76 61.99h4.44v1h-4.44zM101.76 72.96h4.44v1h-4.44zM101.76 75.95h4.44v1h-4.44zM101.76 82.93h4.44v1h-4.44zM101.76 89.91h4.44v1h-4.44zM101.76 97.89h4.44v1h-4.44zM101.76 108.85h4.44v1h-4.44zM101.76 110.85h4.44v1h-4.44zM101.76 115.83h4.44v1h-4.44zM101.76 120.82h4.44v1h-4.44zM101.76 124.81h4.44v1h-4.44zM101.76 130.79h4.44v1h-4.44zM101.76 136.77h4.44v1h-4.44zM101.76 142.75h4.44v1h-4.44zM106.2 41.06h4.44v1h-4.44zM106.2 46.04h4.44v1h-4.44zM106.2 51.03h4.44v1h-4.44zM106.2 60h4.44v1h-4.44zM106.2 61h4.44v1h-4.44zM106.2 61.99h4.44v1h-4.44zM106.2 63.99h4.44v1h-4.44zM106.2 69.97h4.44v1h-4.44zM106.2 72.96h4.44v1h-4.44zM106.2 105.86h4.44v1h-4.44zM106.2 106.86h4.44v1h-4.44zM106.2 108.85h4.44v1h-4.44zM106.2 115.83h4.44v1h-4.44zM106.2 120.82h4.44v1h-4.44zM106.2 133.78h4.44v1h-4.44zM115.09 134.78h4.44v1h-4.44zM123.98 38.07h4.44v1h-4.44zM123.98 59h4.44v1h-4.44zM123.98 77.95h4.44v1h-4.44zM123.98 86.92h4.44v1h-4.44zM137.31 36.07h4.44v1h-4.44zM137.31 41.06h4.44v1h-4.44zM137.31 44.05h4.44v1h-4.44zM137.31 50.03h4.44v1h-4.44zM137.31 52.02h4.44v1h-4.44zM137.31 54.02h4.44v1h-4.44zM137.31 62.99h4.44v1h-4.44zM137.31 66.98h4.44v1h-4.44zM137.31 74.96h4.44v1h-4.44zM137.31 75.95h4.44v1h-4.44zM137.31 77.95h4.44v1h-4.44zM137.31 79.94h4.44v1h-4.44zM137.31 97.89h4.44v1h-4.44zM137.31 104.87h4.44v1h-4.44zM137.31 108.85h4.44v1h-4.44zM137.31 128.79h4.44v1h-4.44zM137.31 129.79h4.44v1h-4.44zM137.31 136.77h4.44v1h-4.44zM137.31 141.75h4.44v1h-4.44zM137.31 143.75h4.44v1h-4.44zM137.31 145.74h4.44v1h-4.44zM141.75 40.06h4.44v1h-4.44zM141.75 41.06h4.44v1h-4.44zM141.75 43.05h4.44v1h-4.44zM141.75 45.05h4.44v1h-4.44zM141.75 52.02h4.44v1h-4.44zM141.75 53.02h4.44v1h-4.44zM141.75 55.02h4.44v1h-4.44zM141.75 65.98h4.44v1h-4.44zM141.75 70.97h4.44v1h-4.44zM141.75 75.95h4.44v1h-4.44zM141.75 78.94h4.44v1h-4.44zM141.75 82.93h4.44v1h-4.44zM141.75 87.92h4.44v1h-4.44zM141.75 93.9h4.44v1h-4.44zM141.75 105.86h4.44v1h-4.44zM141.75 109.85h4.44v1h-4.44zM141.75 118.82h4.44v1h-4.44zM141.75 129.79h4.44v1h-4.44zM141.75 149.73h4.44v1h-4.44zM146.2 31.09h4.44v1h-4.44zM146.2 32.08h4.44v1h-4.44zM146.2 34.08h4.44v1h-4.44zM146.2 40.06h4.44v1h-4.44zM146.2 46.04h4.44v1h-4.44zM146.2 57.01h4.44v1h-4.44zM146.2 63.99h4.44v1h-4.44zM146.2 68.97h4.44v1h-4.44zM146.2 71.96h4.44v1h-4.44zM146.2 72.96h4.44v1h-4.44zM146.2 74.96h4.44v1h-4.44zM146.2 94.9h4.44v1h-4.44zM146.2 107.86h4.44v1h-4.44zM146.2 111.84h4.44v1h-4.44zM146.2 123.81h4.44v1h-4.44zM146.2 131.78h4.44v1h-4.44zM146.2 135.77h4.44v1h-4.44zM146.2 137.77h4.44v1h-4.44zM146.2 142.75h4.44v1h-4.44zM146.2 155.71h4.44v1h-4.44zM150.64 32.08h4.44v1h-4.44zM150.64 36.07h4.44v1h-4.44zM150.64 56.01h4.44v1h-4.44zM150.64 68.97h4.44v1h-4.44zM150.64 87.92h4.44v1h-4.44zM150.64 89.91h4.44v1h-4.44zM150.64 109.85h4.44v1h-4.44zM150.64 110.85h4.44v1h-4.44zM150.64 121.81h4.44v1h-4.44zM150.64 122.81h4.44v1h-4.44zM150.64 136.77h4.44v1h-4.44zM150.64 137.77h4.44v1h-4.44zM150.64 146.74h4.44v1h-4.44zM150.64 151.72h4.44v1h-4.44zM150.64 155.71h4.44v1h-4.44zM159.53 127.8h4.44v1h-4.44zM199.52 35.08h4.44v1h-4.44zM199.52 71.96h4.44v1h-4.44zM199.52 115.83h4.44v1h-4.44z"/>
<path fill="rgb(72,94,168)" fill-opacity="0.643" d="M83.98 30.09h4.44v1h-4.44zM83.98 37.07h4.44v1h-4.44zM83.98 39.06h4.44v1h-4.44zM83.98 41.06h4.44v1h-4.44zM83.98 42.05h4.44v1h-4.44zM83.98 44.05h4.44v1h-4.44zM83.98 50.03h4.44v1h-4.44zM83.98 52.02h4.44v1h-4.44zM83.98 57.01h4.44v1h-4.44zM83.98 68.97h4.44v1h-4.44zM83.98 77.95h4.44v1h-4.44zM83.98 80.94h4.44v1h-4.44zM83.98 81.93h4.44v1h-4.44zM83.98 82.93h4.44v1h-4.44zM83.98 103.87h4.44v1h-4.44zM83.98 109.85h4.44v1h-4.44zM83.98 110.85h4.44v1h-4.44zM83.98 112.84h4.44v1h-4.44zM83.98 114.84h4.44v1h-4.44zM83.98 116.83h4.44v1h-4.44zM83.98 121.81h4.44v1h-4.44zM83.98 124.81h4.44v1h-4.44zM83.98 136.77h4.44v1h-4.44zM83.98 140.76h4.44v1h-4.44zM83.98 144.75h4.44v1h-4.44zM83.98 147.74h4.44v1h-4.44zM92.87 31.09h4.44v1h-4.44zM92.87 37.07h4.44v1h-4.44zM92.87 40.06h4.44v1h-4.44zM92.87 42.05h4.44v1h-4.44zM92.87 43.05h4.44v1h-4.44zM92.87 55.02h4.44v1h-4.44zM92.87 67.98h4.44v1h-4.44zM92.87 79.94h4.44v1h-4.44zM92.87 91.9h4.44v1h-4.44zM92.87 92.9h4.44v1h-4.44zM92.87 93.9h4.44v1h-4.44zM92.87 101.87h4.44v1h-4.44zM92.87 108.85h4.44v1h-4.44zM92.87 117.83h4.44v1h-4.44zM92.87 122.81h4.44v1h-4.44zM92.87 157.71h4.44v1h-4.44zM92.87 158.7h4.44v1h-4.44zM101.76 42.05h4.44v1h-4.44zM101.76 46.04h4.44v1h-4.44zM101.76 47.04h4.44v1h-4.44zM101.76 48.04h4.44v1h-4.44zM101.76 50.03h4.44v1h-4.44zM101.76 63.99h4.44v1h-4.44zM101.76 65.98h4.44v1h-4.44zM101.76 87.92h4.44v1h-4.44zM101.76 92.9h4.44v1h-4.44zM101.76 93.9h4.44v1h-4.44zM101.76 99.88h4.44v1h-4.44zM101.76 101.87h4.44v1h-4.44zM101.76 102.87h4.44v1h-4.44zM101.76 103.87h4.44v1h-4.44zM101.76 107.86h4.44v1h-4.44zM101.76 111.84h4.44v1h-4.44zM101.76 114.84h4.44v1h-4.44zM101.76 122.81h4.44v1h-4.44zM101.76 125.8h4.44v1h-4.44zM101.76 139.76h4.44v1h-4.44zM101.76 146.74h4.44v1h-4.44zM101.76 149.73h4.44v1h-4.44zM106.2 32.08h4.44v1h-4.44zM106.2 34.08h4.44v1h-4.44zM106.2 40.06h4.44v1h-4.44zM106.2 42.05h4.44v1h-4.44zM106.2 58.01h4.44v1h-4.44zM106.2 76.95h4.44v1h-4.44zM106.2 79.94h4.44v1h-4.44zM106.2 91.9h4.44v1h-4.44zM106.2 97.89h4.44v1h-4.44zM106.2 101.87h4.44v1h-4.44zM106.2 102.87h4.44v1h-4.44zM106.2 104.87h4.44v1h-4.44zM106.2 107.86h4.44v1h-4.44zM106.2 112.84h4.44v1h-4.44zM106.2 113.84h4.44v1h-4.44zM106.2 114.84h4.44v1h-4.44zM106.2 125.8h4.44v1h-4.44zM106.2 146.74h4.44v1h-4.44zM106.2 152.72h4.44v1h-4.44zM106.2 153.72h4.44v1h-4.44zM115.09 95.89h4.44v1h-4.44zM119.53 154.72h4.44v1h-4.44zM123.98 154.72h4.44v1h-4.44zM137.31 38.07h4.44v1h-4.44zM137.31 40.06h4.44v1h-4.44zM137.31 42.05h4.44v1h-4.44zM137.31 43.05h4.44v1h-4.44zM137.31 82.93h4.44v1h-4.44zM137.31 86.92h4.44v1h-4.44zM137.31 92.9h4.44v1h-4.44zM137.31 95.89h4.44v1h-4.44zM137.31 105.86h4.44v1h-4.44zM137.31 109.85h4.44v1h-4.44zM137.31 112.84h4.44v1h-4.44zM137.31 113.84h4.44v1h-4.44zM137.31 118.82h4.44v1h-4.44zM137.31 120.82h4.44v1h-4.44zM137.31 147.74h4.44v1h-4.44zM137.31 154.72h4.44v1h-4.44zM141.75 38.07h4.44v1h-4.44zM141.75 58.01h4.44v1h-4.44zM141.75 76.95h4.44v1h-4.44zM141.75 99.88h4.44v1h-4.44zM141.75 114.84h4.44v1h-4.44zM141.75 144.75h4.44v1h-4.44zM146.2 48.04h4.44v1h-4.44zM146.2 67.98h4.44v1h-4.44zM146.2 85.92h4.44v1h-4.44zM146.2 89.91h4.44v1h-4.44zM146.2 95.89h4.44v1h-4.44zM146.2 100.88h4.44v1h-4.44zM146.2 103.87h4.44v1h-4.44zM146.2 108.85h4.44v1h-4.44zM146.2 115.83h4.44v1h-4.44zM146.2 128.79h4.44v1h-4.44zM146.2 141.75h4.44v1h-4.44zM146.2 143.75h4.44v1h-4.44zM150.64 28.1h4.44v1h-4.44zM150.64 35.08h4.44v1h-4.44zM150.64 39.06h4.44v1h-4.44zM150.64 45.05h4.44v1h-4.44zM150.64 46.04h4.44v1h-4.44zM150.64 48.04h4.44v1h-4.44zM150.64 61h4.44v1h-4.44zM150.64 61.99h4.44v1h-4.44zM150.64 64.99h4.44v1h-4.44zM150.64 66.98h4.44v1h-4.44zM150.64 74.96h4.44v1h-4.44zM150.64 79.94h4.44v1h-4.44zM150.64 90.91h4.44v1h-4.44zM150.64 94.9h4.44v1h-4.44zM150.64 103.87h4.44v1h-4.44zM150.64 128.79h4.44v1h-4.44zM150.64 129.79h4.44v1h-4.44zM150.64 140.76h4.44v1h-4.44zM150.64 143.75h4.44v1h-4.44zM150.64 152.72h4.44v1h-4.44zM150.64 153.72h4.44v1h-4.44zM150.64 154.72h4.44v1h-4.44zM155.08 65.98h4.44v1h-4.44zM155.08 69.97h4.44v1h-4.44zM159.53 144.75h4.44v1h-4.44zM199.52 61.99h4.44v1h-4.44zM199.52 68.97h4.44v1h-4.44zM199.52 76.95h4.44v1h-4.44zM199.52 123.81h4.44v1h-4.44z"/>
<path fill="rgb(72,94,168)" fill-opacity="0.714" d="M83.98 27.1h4.44v1h-4.44zM83.98 33.08h4.44v1h-4.44zM83.98 34.08h4.44v1h-4.44zM83.98 43.05h4.44v1h-4.44zM83.98 48.04h4.44v1h-4.44zM83.98 64.99h4.44v1h-4.44zM83.98 72.96h4.44v1h-4.44zM83.98 83.93h4.44v1h-4.44zM83.98 84.93h4.44v1h-4.44zM83.98 86.92h4.44v1h-4.44zM83.98 90.91h4.44v1h-4.44zM83.98 92.9h4.44v1h-4.44zM83.98 96.89h4.44v1h-4.44zM83.98 123.81h4.44v1h-4.44zM83.98 135.77h4.44v1h-4.44zM83.98 153.72h4.44v1h-4.44zM83.98 157.71h4.44v1h-4.44zM92.87 34.08h4.44v1h-4.44zM92.87 45.05h4.44v1h-4.44zM92.87 49.03h4.44v1h-4.44zM92.87 53.02h4.44v1h-4.44zM92.87 54.02h4.44v1h-4.44zM92.87 58.01h4.44v1h-4.44zM92.87 80.94h4.44v1h-4.44zM92.87 85.92h4.44v1h-4.44zM92.87 99.88h4.44v1h-4.44zM92.87 102.87h4.44v1h-4.44zM92.87 107.86h4.44v1h-4.44zM92.87 118.82h4.44v1h-4.44zM92.87 124.81h4.44v1h-4.44zM92.87 138.76h4.44v1h-4.44zM92.87 146.74h4.44v1h-4.44zM92.87 154.72h4.44v1h-4.44zM101.76 37.07h4.44v1h-4.44zM101.76 59h4.44v1h-4.44zM101.76 67.98h4.44v1h-4.44zM101.76 76.95h4.44v1h-4.44zM101.76 79.94h4.44v1h-4.44zM101.76 81.93h4.44v1h-4.44zM101.76 90.91h4.44v1h-4.44zM101.76 91.9h4.44v1h-4.44zM101.76 95.89h4.44v1h-4.44zM101.76 98.88h4.44v1h-4.44zM101.76 118.82h4.44v1h-4.44zM101.76 126.8h4.44v1h-4.44zM101.76 127.8h4.44v1h-4.44zM101.76 135.77h4.44v1h-4.44zM101.76 152.72h4.44v1h-4.44zM101.76 154.72h4.44v1h-4.44zM101.76 156.71h4.44v1h-4.44zM101.76 158.7h4.44v1h-4.44zM106.2 39.06h4.44v1h-4.44zM106.2 54.02h4.44v1h-4.44zM106.2 55.02h4.44v1h-4.44zM106.2 57.01h4.44v1h-4.44zM106.2 67.98h4.44v1h-4.44zM106.2 81.93h4.44v1h-4.44zM106.2 87.92h4.44v1h-4.44zM106.2 88.91h4.44v1h-4.44zM106.2 96.89h4.44v1h-4.44zM106.2 99.88h4.44v1h-4.44zM106.2 103.87h4.44v1h-4.44zM106.2 111.84h4.44v1h-4.44zM106.2 116.83h4.44v1h-4.44zM106.2 118.82h4.44v1h-4.44zM106.2 121.81h4.44v1h-4.44zM106.2 123.81h4.44v1h-4.44zM106.2 124.81h4.44v1h-4.44zM106.2 126.8h4.44v1h-4.44zM106.2 127.8h4.44v1h-4.44zM106.2 149.73h4.44v1h-4.44zM115.09 32.08h4.44v1h-4.44zM119.53 32.08h4.44v1h-4.44zM119.53 86.92h4.44v1h-4.44zM123.98 32.08h4.44v1h-4.44zM137.31 28.1h4.44v1h-4.44zM137.31 84.93h4.44v1h-4.44zM137.31 87.92h4.44v1h-4.44zM137.31 88.91h4.44v1h-4.44zM137.31 91.9h4.44v1h-4.44zM137.31 99.88h4.44v1h-4.44zM137.31 102.87h4.44v1h-4.44zM137.31 117.83h4.44v1h-4.44zM137.31 122.81h4.44v1h-4.44zM137.31 125.8h4.44v1h-4.44zM137.31 127.8h4.44v1h-4.44zM141.75 81.93h4.44v1h-4.44zM141.75 86.92h4.44v1h-4.44zM141.75 133.78h4.44v1h-4.44zM146.2 36.07h4.44v1h-4.44zM146.2 50.03h4.44v1h-4.44zM146.2 54.02h4.44v1h-4.44zM146.2 66.98h4.44v1h-4.44zM146.2 77.95h4.44v1h-4.44zM146.2 79.94h4.44v1h-4.44zM146.2 83.93h4.44v1h-4.44zM146.2 92.9h4.44v1h-4.44zM146.2 96.89h4.44v1h-4.44zM146.2 104.87h4.44v1h-4.44zM146.2 112.84h4.44v1h-4.44zM146.2 124.81h4.44v1h-4.44zM146.2 130.79h4.44v1h-4.44zM146.2 136.77h4.44v1h-4.44zM146.2 151.72h4.44v1h-4.44zM146.2 152.72h4.44v1h-4.44zM146.2 156.71h4.44v1h-4.44zM150.64 33.08h4.44v1h-4.44zM150.64 41.06h4.44v1h-4.44zM150.64 50.03h4.44v1h-4.44zM150.64 52.02h4.44v1h-4.44zM150.64 57.01h4.44v1h-4.44zM150.64 60h4.44v1h-4.44zM150.64 73.96h4.44v1h-4.44zM150.64 84.93h4.44v1h-4.44zM150.64 91.9h4.44v1h-4.44zM150.64 92.9h4.44v1h-4.44zM150.64 115.83h4.44v1h-4.44zM150.64 123.81h4.44v1h-4.44zM150.64 124.81h4.44v1h-4.44zM150.64 144.75h4.44v1h-4.44zM150.64 147.74h4.44v1h-4.44zM150.64 150.73h4.44v1h-4.44zM155.08 30.09h4.44v1h-4.44zM199.52 29.09h4.44v1h-4.44zM199.52 32.08h4.44v1h-4.44zM199.52 60h4.44v1h-4.44zM199.52 75.95h4.44v1h-4.44z"/>
<path fill="rgb(72,94,168)" fill-opacity="0.786" d="M83.98 28.1h4.44v1h-4.44zM83.98 40.06h4.44v1h-4.44zM83.98 46.04h4.44v1h-4.44zM83.98 58.01h4.44v1h-4.44zM83.98 69.97h4.44v1h-4.44zM83.98 71.96h4.44v1h-4.44zM83.98 75.95h4.44v1h-4.44zM83.98 105.86h4.44v1h-4.44zM83.98 115.83h4.44v1h-4.44zM83.98 125.8h4.44v1h-4.44zM83.98 134.78h4.44v1h-4.44zM83.98 139.76h4.44v1h-4.44zM83.98 158.7h4.44v1h-4.44zM92.87 41.06h4.44v1h-4.44zM92.87 46.04h4.44v1h-4.44zM92.87 47.04h4.44v1h-4.44zM92.87 76.95h4.44v1h-4.44zM92.87 81.93h4.44v1h-4.44zM92.87 103.87h4.44v1h-4.44zM92.87 116.83h4.44v1h-4.44zM92.87 121.81h4.44v1h-4.44zM92.87 125.8h4.44v1h-4.44zM92.87 140.76h4.44v1h-4.44zM92.87 152.72h4.44v1h-4.44zM92.87 156.71h4.44v1h-4.44zM101.76 30.09h4.44v1h-4.44zM101.76 32.08h4.44v1h-4.44zM101.76 39.06h4.44v1h-4.44zM101.76 40.06h4.44v1h-4.44zM101.76 49.03h4.44v1h-4.44zM101.76 54.02h4.44v1h-4.44zM101.76 55.02h4.44v1h-4.44zM101.76 58.01h4.44v1h-4.44zM101.76 64.99h4.44v1h-4.44zM101.76 88.91h4.44v1h-4.44zM101.76 104.87h4.44v1h-4.44zM101.76 112.84h4.44v1h-4.44zM101.76 116.83h4.44v1h-4.44zM101.76 121.81h4.44v1h-4.44zM106.2 47.04h4.44v1h-4.44zM106.2 49.03h4.44v1h-4.44zM106.2 53.02h4.44v1h-4.44zM106.2 64.99h4.44v1h-4.44zM106.2 71.96h4.44v1h-4.44zM106.2 83.93h4.44v1h-4.44zM106.2 90.91h4.44v1h-4.44zM106.2 135.77h4.44v1h-4.44zM106.2 138.76h4.44v1h-4.44zM106.2 140.76h4.44v1h-4.44zM106.2 144.75h4.44v1h-4.44zM106.2 156.71h4.44v1h-4.44zM106.2 157.71h4.44v1h-4.44zM137.31 65.98h4.44v1h-4.44zM137.31 81.93h4.44v1h-4.44zM137.31 93.9h4.44v1h-4.44zM137.31 114.84h4.44v1h-4.44zM137.31 132.78h4.44v1h-4.44zM137.31 133.78h4.44v1h-4.44zM137.31 149.73h4.44v1h-4.44zM141.75 36.07h4.44v1h-4.44zM141.75 88.91h4.44v1h-4.44zM141.75 148.73h4.44v1h-4.44zM146.2 27.1h4.44v1h-4.44zM146.2 28.1h4.44v1h-4.44zM146.2 33.08h4.44v1h-4.44zM146.2 35.08h4.44v1h-4.44zM146.2 44.05h4.44v1h-4.44zM146.2 47.04h4.44v1h-4.44zM146.2 53.02h4.44v1h-4.44zM146.2 55.02h4.44v1h-4.44zM146.2 58.01h4.44v1h-4.44zM146.2 61.99h4.44v1h-4.44zM146.2 75.95h4.44v1h-4.44zM146.2 76.95h4.44v1h-4.44zM146.2 78.94h4.44v1h-4.44zM146.2 87.92h4.44v1h-4.44zM146.2 90.91h4.44v1h-4.44zM146.2 91.9h4.44v1h-4.44zM146.2 97.89h4.44v1h-4.44zM146.2 113.84h4.44v1h-4.44zM146.2 147.74h4.44v1h-4.44zM150.64 31.09h4.44v1h-4.44zM150.64 38.07h4.44v1h-4.44zM150.64 42.05h4.44v1h-4.44zM150.64 44.05h4.44v1h-4.44zM150.64 47.04h4.44v1h-4.44zM150.64 54.02h4.44v1h-4.44zM150.64 62.99h4.44v1h-4.44zM150.64 88.91h4.44v1h-4.44zM150.64 100.88h4.44v1h-4.44zM150.64 104.87h4.44v1h-4.44zM150.64 105.86h4.44v1h-4.44zM150.64 118.82h4.44v1h-4.44zM150.64 120.82h4.44v1h-4.44zM150.64 132.78h4.44v1h-4.44zM150.64 138.76h4.44v1h-4.44zM150.64 157.71h4.44v1h-4.44zM159.53 69.97h4.44v1h-4.44zM199.52 77.95h4.44v1h-4.44zM199.52 113.84h4.44v1h-4.44z"/>
<path fill="rgb(72,94,168)" fill-opacity="0.857" d="M83.98 38.07h4.44v1h-4.44zM83.98 60h4.44v1h-4.44zM83.98 61h4.44v1h-4.44zM83.98 61.99h4.44v1h-4.44zM83.98 76.95h4.44v1h-4.44zM83.98 87.92h4.44v1h-4.44zM83.98 89.91h4.44v1h-4.44zM83.98 91.9h4.44v1h-4.44zM83.98 94.9h4.44v1h-4.44zM83.98 102.87h4.44v1h-4.44zM83.98 132.78h4.44v1h-4.44zM83.98 149.73h4.44v1h-4.44zM83.98 151.72h4.44v1h-4.44zM83.98 155.71h4.44v1h-4.44zM92.87 59h4.44v1h-4.44zM92.87 64.99h4.44v1h-4.44zM92.87 83.93h4.44v1h-4.44zM92.87 88.91h4.44v1h-4.44zM92.87 112.84h4.44v1h-4.44zM101.76 45.05h4.44v1h-4.44zM101.76 96.89h4.44v1h-4.44zM101.76 140.76h4.44v1h-4.44zM101.76 155.71h4.44v1h-4.44zM106.2 45.05h4.44v1h-4.44zM106.2 50.03h4.44v1h-4.44zM106.2 80.94h4.44v1h-4.44zM106.2 148.73h4.44v1h-4.44zM106.2 154.72h4.44v1h-4.44zM137.31 30.09h4.44v1h-4.44zM137.31 144.75h4.44v1h-4.44zM137.31 148.73h4.44v1h-4.44zM146.2 39.06h4.44v1h-4.44zM146.2 41.06h4.44v1h-4.44zM146.2 43.05h4.44v1h-4.44zM146.2 73.96h4.44v1h-4.44zM146.2 80.94h4.44v1h-4.44zM146.2 81.93h4.44v1h-4.44zM146.2 82.93h4.44v1h-4.44zM146.2 88.91h4.44v1h-4.44zM146.2 99.88h4.44v1h-4.44zM146.2 105.86h4.44v1h-4.44zM146.2 114.84h4.44v1h-4.44zM146.2 117.83h4.44v1h-4.44zM146.2 118.82h4.44v1h-4.44zM146.2 120.82h4.44v1h-4.44zM146.2 121.81h4.44v1h-4.44zM146.2 122.81h4.44v1h-4.44zM146.2 125.8h4.44v1h-4.44zM146.2 127.8h4.44v1h-4.44zM146.2 149.73h4.44v1h-4.44zM146.2 157.71h4.44v1h-4.44zM150.64 58.01h4.44v1h-4.44zM150.64 70.97h4.44v1h-4.44zM150.64 77.95h4.44v1h-4.44zM150.64 78.94h4.44v1h-4.44zM150.64 80.94h4.44v1h-4.44zM150.64 81.93h4.44v1h-4.44zM150.64 95.89h4.44v1h-4.44zM150.64 97.89h4.44v1h-4.44zM150.64 99.88h4.44v1h-4.44zM150.64 102.87h4.44v1h-4.44zM150.64 117.83h4.44v1h-4.44zM150.64 125.8h4.44v1h-4.44zM150.64 141.75h4.44v1h-4.44zM150.64 145.74h4.44v1h-4.44zM150.64 149.73h4.44v1h-4.44zM199.52 72.96h4.44v1h-4.44z"/>
<path fill="rgb(72,94,168)" fill-opacity="0.929" d="M83.98 32.08h4.44v1h-4.44zM83.98 47.04h4.44v1h-4.44zM83.98 74.96h4.44v1h-4.44zM83.98 111.84h4.44v1h-4.44zM83.98 113.84h4.44v1h-4.44zM83.98 118.82h4.44v1h-4.44zM83.98 126.8h4.44v1h-4.44zM83.98 141.75h4.44v1h-4.44zM83.98 146.74h4.44v1h-4.44zM92.87 50.03h4.44v1h-4.44zM92.87 57.01h4.44v1h-4.44zM92.87 114.84h4.44v1h-4.44zM92.87 127.8h4.44v1h-4.44zM92.87 135.77h4.44v1h-4.44zM92.87 155.71h4.44v1h-4.44zM101.76 41.06h4.44v1h-4.44zM101.76 57.01h4.44v1h-4.44zM101.76 83.93h4.44v1h-4.44zM101.76 144.75h4.44v1h-4.44zM101.76 157.71h4.44v1h-4.44zM106.2 27.1h4.44v1h-4.44zM146.2 38.07h4.44v1h-4.44zM146.2 52.02h4.44v1h-4.44zM146.2 86.92h4.44v1h-4.44zM146.2 102.87h4.44v1h-4.44zM146.2 132.78h4.44v1h-4.44zM146.2 133.78h4.44v1h-4.44zM146.2 148.73h4.44v1h-4.44zM150.64 55.02h4.44v1h-4.44zM150.64 75.95h4.44v1h-4.44zM150.64 112.84h4.44v1h-4.44zM150.64 114.84h4.44v1h-4.44zM150.64 133.78h4.44v1h-4.44z"/>
<path fill="rgb(72,94,168)" fill-opacity="1.000" d="M83.98 65.98h4.44v1h-4.44zM83.98 85.92h4.44v1h-4.44zM92.87 27.1h4.44v1h-4.44zM92.87 90.91h4.44v1h-4.44zM92.87 123.81h4.44v1h-4.44zM92.87 148.73h4.44v1h-4.44zM101.76 27.1h4.44v1h-4.44zM101.76 148.73h4.44v1h-4.44zM106.2 155.71h4.44v1h-4.44zM137.31 69.97h4.44v1h-4.44zM141.75 69.97h4.44v1h-4.44zM146.2 30.09h4.44v1h-4.44zM146.2 65.98h4.44v1h-4.44zM146.2 69.97h4.44v1h-4.44zM146.2 70.97h4.44v1h-4.44zM146.2 84.93h4.44v1h-4.44zM146.2 93.9h4.44v1h-4.44zM146.2 109.85h4.44v1h-4.44zM146.2 144.75h4.44v1h-4.44zM150.64 30.09h4.44v1h-4.44zM150.64 43.05h4.44v1h-4.44zM150.64 65.98h4.44v1h-4.44zM150.64 69.97h4.44v1h-4.44zM150.64 76.95h4.44v1h-4.44zM150.64 86.92h4.44v1h-4.44zM150.64 93.9h4.44v1h-4.44zM150.64 113.84h4.44v1h-4.44zM150.64 127.8h4.44v1h-4.44zM150.64 148.73h4.44v1h-4.44z"/></g>
<path fill="rgb(40,60,160)" fill-opacity="0.6" d="M43.8 27.8h9.08v1h-9.08z M43.8 158.8h9.08v0.9h-9.08z"/>
<path fill="rgb(40,60,160)" fill-opacity="0.36" d="M43.8 27.1h0.8v132.6h-0.8z M52.08 27.1h0.8v132.6h-0.8z"/>
<path fill="rgb(40,60,160)" fill-opacity="0.6" d="M66.21 27.8h17.77v1h-17.77z M66.21 158.8h17.77v0.9h-17.77z"/>
<path fill="rgb(40,60,160)" fill-opacity="0.36" d="M66.21 27.1h0.8v132.6h-0.8z M83.18 27.1h0.8v132.6h-0.8z"/>
<path fill="rgb(40,60,160)" fill-opacity="0.6" d="M110.65 27.8h4.44v1h-4.44z M110.65 158.8h4.44v0.9h-4.44z"/>
<path fill="rgb(40,60,160)" fill-opacity="0.36" d="M110.65 27.1h0.8v132.6h-0.8z M114.29 27.1h0.8v132.6h-0.8z"/>
<path fill="#fff" fill-opacity="0.071" d="M66.2 149.1h17.8v1h-17.8z"/>
<path fill="#fff" fill-opacity="0.143" d="M48.5 46.8h4.4v1h-4.4zM44 125.9h8.9v1h-8.9zM44 149.1h8.9v1h-8.9z"/>
<path fill="#223" fill-opacity="0.15" d="M47.93 27.1h1v132.6h-1zM70.15 27.1h1v132.6h-1zM74.6 27.1h1v132.6h-1zM79.04 27.1h1v132.6h-1z"/>
<path fill="#fff" fill-opacity="0.1" d="M83.58 27.1h0.8v132.6h-0.8zM105.8 27.1h0.8v132.6h-0.8zM110.25 27.1h0.8v132.6h-0.8zM114.69 27.1h0.8v132.6h-0.8zM119.13 27.1h0.8v132.6h-0.8zM123.58 27.1h0.8v132.6h-0.8zM141.35 27.1h0.8v132.6h-0.8zM145.8 27.1h0.8v132.6h-0.8zM150.24 27.1h0.8v132.6h-0.8zM154.68 27.1h0.8v132.6h-0.8zM159.13 27.1h0.8v132.6h-0.8z"/>
<path fill="#888" fill-opacity="0.42" d="M52.48 27.1h0.8v132.6h-0.8zM56.92 27.1h0.8v132.6h-0.8zM61.36 27.1h0.8v132.6h-0.8zM65.81 27.1h0.8v132.6h-0.8zM88.03 27.1h0.8v132.6h-0.8zM92.47 27.1h0.8v132.6h-0.8zM96.91 27.1h0.8v132.6h-0.8zM101.36 27.1h0.8v132.6h-0.8zM128.02 27.1h0.8v132.6h-0.8zM132.46 27.1h0.8v132.6h-0.8zM136.91 27.1h0.8v132.6h-0.8zM163.57 27.1h0.8v132.6h-0.8zM168.01 27.1h0.8v132.6h-0.8zM172.46 27.1h0.8v132.6h-0.8zM176.9 27.1h0.8v132.6h-0.8zM181.34 27.1h0.8v132.6h-0.8zM185.79 27.1h0.8v132.6h-0.8zM190.23 27.1h0.8v132.6h-0.8zM194.68 27.1h0.8v132.6h-0.8zM199.12 27.1h0.8v132.6h-0.8zM203.56 27.1h0.8v132.6h-0.8zM208.01 27.1h0.8v132.6h-0.8zM212.45 27.1h0.8v132.6h-0.8zM216.89 27.1h0.8v132.6h-0.8zM221.34 27.1h0.8v132.6h-0.8zM225.78 27.1h0.8v132.6h-0.8zM230.23 27.1h0.8v132.6h-0.8zM234.67 27.1h0.8v132.6h-0.8zM239.11 27.1h0.8v132.6h-0.8zM243.56 27.1h0.8v132.6h-0.8zM248 27.1h0.8v132.6h-0.8zM252.44 27.1h0.8v132.6h-0.8zM256.9 27.1h0.8v132.6h-0.8z"/>
<g>
<text transform="translate(47.82 163.3) rotate(-90)" class="xl">ABO</text>
<text transform="translate(52.36 163.3) rotate(-90)" class="xl">D</text>
<text transform="translate(56.8 163.3) rotate(-90)" class="xl">V</text>
<text transform="translate(61.24 163.3) rotate(-90)" class="xl">VS</text>
<text transform="translate(65.69 163.3) rotate(-90)" class="xl">hrS</text>
<text transform="translate(70.13 163.3) rotate(-90)" class="xl">C</text>
<text transform="translate(74.57 163.3) rotate(-90)" class="xl">c</text>
<text transform="translate(79.02 163.3) rotate(-90)" class="xl">E</text>
<text transform="translate(83.46 163.3) rotate(-90)" class="xl">e</text>
<text transform="translate(87.91 163.3) rotate(-90)" class="xl">Cw</text>
<text transform="translate(92.35 163.3) rotate(-90)" class="xl">Cx</text>
<text transform="translate(96.79 163.3) rotate(-90)" class="xl">M</text>
<text transform="translate(101.24 163.3) rotate(-90)" class="xl">N</text>
<text transform="translate(105.68 163.3) rotate(-90)" class="xl">S</text>
<text transform="translate(110.12 163.3) rotate(-90)" class="xl">s</text>
<text transform="translate(114.57 163.3) rotate(-90)" class="xl">K</text>
<text transform="translate(119.01 163.3) rotate(-90)" class="xl">k</text>
<text transform="translate(123.45 163.3) rotate(-90)" class="xl">Kpa</text>
<text transform="translate(127.9 163.3) rotate(-90)" class="xl">Kpb</text>
<text transform="translate(132.34 163.3) rotate(-90)" class="xl">Jsa</text>
<text transform="translate(136.79 163.3) rotate(-90)" class="xl">Jsb</text>
<text transform="translate(141.23 163.3) rotate(-90)" class="xl">Fya</text>
<text transform="translate(145.67 163.3) rotate(-90)" class="xl">Fyb</text>
<text transform="translate(150.12 163.3) rotate(-90)" class="xl">Jka</text>
<text transform="translate(154.56 163.3) rotate(-90)" class="xl">Jkb</text>
<text transform="translate(159 163.3) rotate(-90)" class="xl">Lua</text>
<text transform="translate(163.45 163.3) rotate(-90)" class="xl">Lub</text>
<text transform="translate(167.89 163.3) rotate(-90)" class="xl">Dia</text>
<text transform="translate(172.34 163.3) rotate(-90)" class="xl">Dib</text>
<text transform="translate(176.78 163.3) rotate(-90)" class="xl">Wra</text>
<text transform="translate(181.22 163.3) rotate(-90)" class="xl">Yta</text>
<text transform="translate(185.67 163.3) rotate(-90)" class="xl">Ytb</text>
<text transform="translate(190.11 163.3) rotate(-90)" class="xl">Coa</text>
<text transform="translate(194.55 163.3) rotate(-90)" class="xl">Cob</text>
<text transform="translate(199 163.3) rotate(-90)" class="xl">Doa</text>
<text transform="translate(203.44 163.3) rotate(-90)" class="xl">Vel</text>
<text transform="translate(207.89 163.3) rotate(-90)" class="xl">Lan</text>
<text transform="translate(212.33 163.3) rotate(-90)" class="xl">HPA-1a</text>
<text transform="translate(216.77 163.3) rotate(-90)" class="xl">HPA-1b</text>
<text transform="translate(221.22 163.3) rotate(-90)" class="xl">HPA-2a</text>
<text transform="translate(225.66 163.3) rotate(-90)" class="xl">HPA-2b</text>
<text transform="translate(230.1 163.3) rotate(-90)" class="xl">HPA-3a</text>
<text transform="translate(234.55 163.3) rotate(-90)" class="xl">HPA-3b</text>
<text transform="translate(238.99 163.3) rotate(-90)" class="xl">HPA-5a</text>
<text transform="translate(243.43 163.3) rotate(-90)" class="xl">HPA-5b*</text>
<text transform="translate(247.88 163.3) rotate(-90)" class="xl">HPA-6b*</text>
<text transform="translate(252.32 163.3) rotate(-90)" class="xl">HPA-15a</text>
<text transform="translate(256.97 163.3) rotate(-90)" class="xl">HPA-15b</text>
</g>
<text x="273.6" y="16.9" class="pl">B</text>
<text x="273.6" y="29.9" class="num" textLength="14.6" lengthAdjust="spacingAndGlyphs">2682</text>
<path d="M286 159.2L287.3 157.8V161.9" fill="none" stroke="#333" stroke-width="0.9"/>
<path d="M292.3 27.5H295.4V159.6H292.3" class="ax"/>
<rect x="298.1" y="27.1" width="9.08" height="132.6" fill="rgb(201,113,50)"/>
<rect x="320.51" y="27.1" width="17.77" height="132.6" fill="rgb(201,113,50)"/>
<rect x="364.95" y="27.1" width="4.44" height="132.6" fill="rgb(201,113,50)"/>
<g filter="url(#bl)"><path fill="rgb(201,113,50)" fill-opacity="0.071" d="M338.28 30.09h4.44v1h-4.44zM338.28 79.94h4.44v1h-4.44zM338.28 118.82h4.44v1h-4.44zM338.28 147.74h4.44v1h-4.44zM369.39 37.07h4.44v1h-4.44zM369.39 41.06h4.44v1h-4.44zM369.39 42.05h4.44v1h-4.44zM369.39 56.01h4.44v1h-4.44zM369.39 60h4.44v1h-4.44zM369.39 65.98h4.44v1h-4.44zM369.39 66.98h4.44v1h-4.44zM369.39 68.97h4.44v1h-4.44zM369.39 97.89h4.44v1h-4.44zM369.39 118.82h4.44v1h-4.44zM369.39 122.81h4.44v1h-4.44zM369.39 125.8h4.44v1h-4.44zM373.83 36.07h4.44v1h-4.44zM373.83 55.02h4.44v1h-4.44zM373.83 60h4.44v1h-4.44zM373.83 64.99h4.44v1h-4.44zM373.83 67.98h4.44v1h-4.44zM373.83 86.92h4.44v1h-4.44zM373.83 97.89h4.44v1h-4.44zM373.83 113.84h4.44v1h-4.44zM373.83 136.77h4.44v1h-4.44zM373.83 153.72h4.44v1h-4.44zM378.28 27.1h4.44v1h-4.44zM378.28 31.09h4.44v1h-4.44zM378.28 33.08h4.44v1h-4.44zM378.28 34.08h4.44v1h-4.44zM378.28 35.08h4.44v1h-4.44zM378.28 39.06h4.44v1h-4.44zM378.28 40.06h4.44v1h-4.44zM378.28 47.04h4.44v1h-4.44zM378.28 53.02h4.44v1h-4.44zM378.28 61h4.44v1h-4.44zM378.28 61.99h4.44v1h-4.44zM378.28 63.99h4.44v1h-4.44zM378.28 69.97h4.44v1h-4.44zM378.28 70.97h4.44v1h-4.44zM378.28 76.95h4.44v1h-4.44zM378.28 84.93h4.44v1h-4.44zM378.28 85.92h4.44v1h-4.44zM378.28 88.91h4.44v1h-4.44zM378.28 90.91h4.44v1h-4.44zM378.28 93.9h4.44v1h-4.44zM378.28 94.9h4.44v1h-4.44zM378.28 96.89h4.44v1h-4.44zM378.28 98.88h4.44v1h-4.44zM378.28 102.87h4.44v1h-4.44zM378.28 112.84h4.44v1h-4.44zM378.28 113.84h4.44v1h-4.44zM378.28 114.84h4.44v1h-4.44zM378.28 115.83h4.44v1h-4.44zM378.28 116.83h4.44v1h-4.44zM378.28 123.81h4.44v1h-4.44zM378.28 128.79h4.44v1h-4.44zM378.28 133.78h4.44v1h-4.44zM378.28 138.76h4.44v1h-4.44zM378.28 140.76h4.44v1h-4.44zM378.28 142.75h4.44v1h-4.44zM378.28 145.74h4.44v1h-4.44zM378.28 148.73h4.44v1h-4.44zM378.28 149.73h4.44v1h-4.44zM378.28 152.72h4.44v1h-4.44zM378.28 157.71h4.44v1h-4.44zM378.28 158.7h4.44v1h-4.44zM391.61 72.96h4.44v1h-4.44zM396.05 129.79h4.44v1h-4.44zM409.38 63.99h4.44v1h-4.44zM409.38 81.93h4.44v1h-4.44zM409.38 90.91h4.44v1h-4.44zM409.38 91.9h4.44v1h-4.44zM409.38 155.71h4.44v1h-4.44zM413.83 30.09h4.44v1h-4.44zM413.83 63.99h4.44v1h-4.44zM413.83 86.92h4.44v1h-4.44zM413.83 97.89h4.44v1h-4.44zM427.16 40.06h4.44v1h-4.44zM427.16 43.05h4.44v1h-4.44zM427.16 49.03h4.44v1h-4.44zM427.16 90.91h4.44v1h-4.44zM427.16 93.9h4.44v1h-4.44zM427.16 115.83h4.44v1h-4.44zM427.16 134.78h4.44v1h-4.44zM427.16 135.77h4.44v1h-4.44zM427.16 138.76h4.44v1h-4.44zM427.16 143.75h4.44v1h-4.44zM427.16 156.71h4.44v1h-4.44zM427.16 158.7h4.44v1h-4.44zM436.04 27.1h4.44v1h-4.44zM436.04 33.08h4.44v1h-4.44zM436.04 38.07h4.44v1h-4.44zM436.04 48.04h4.44v1h-4.44zM436.04 54.02h4.44v1h-4.44zM436.04 61h4.44v1h-4.44zM436.04 81.93h4.44v1h-4.44zM436.04 103.87h4.44v1h-4.44zM436.04 109.85h4.44v1h-4.44zM436.04 122.81h4.44v1h-4.44zM436.04 123.81h4.44v1h-4.44zM436.04 127.8h4.44v1h-4.44zM436.04 130.79h4.44v1h-4.44zM436.04 138.76h4.44v1h-4.44zM436.04 144.75h4.44v1h-4.44zM436.04 152.72h4.44v1h-4.44zM436.04 156.71h4.44v1h-4.44zM440.49 35.08h4.44v1h-4.44zM440.49 37.07h4.44v1h-4.44zM440.49 40.06h4.44v1h-4.44zM440.49 43.05h4.44v1h-4.44zM440.49 45.05h4.44v1h-4.44zM440.49 49.03h4.44v1h-4.44zM440.49 53.02h4.44v1h-4.44zM440.49 65.98h4.44v1h-4.44zM440.49 70.97h4.44v1h-4.44zM440.49 75.95h4.44v1h-4.44zM440.49 87.92h4.44v1h-4.44zM440.49 88.91h4.44v1h-4.44zM440.49 92.9h4.44v1h-4.44zM440.49 94.9h4.44v1h-4.44zM440.49 101.87h4.44v1h-4.44zM440.49 107.86h4.44v1h-4.44zM440.49 112.84h4.44v1h-4.44zM440.49 114.84h4.44v1h-4.44zM440.49 118.82h4.44v1h-4.44zM440.49 120.82h4.44v1h-4.44zM440.49 127.8h4.44v1h-4.44zM440.49 135.77h4.44v1h-4.44zM440.49 137.77h4.44v1h-4.44zM440.49 140.76h4.44v1h-4.44zM440.49 141.75h4.44v1h-4.44zM440.49 147.74h4.44v1h-4.44zM453.82 37.07h4.44v1h-4.44zM453.82 39.06h4.44v1h-4.44zM453.82 58.01h4.44v1h-4.44zM453.82 76.95h4.44v1h-4.44zM453.82 80.94h4.44v1h-4.44zM453.82 89.91h4.44v1h-4.44zM453.82 90.91h4.44v1h-4.44zM453.82 98.88h4.44v1h-4.44zM453.82 105.86h4.44v1h-4.44zM453.82 109.85h4.44v1h-4.44zM453.82 111.84h4.44v1h-4.44zM453.82 118.82h4.44v1h-4.44zM453.82 128.79h4.44v1h-4.44zM453.82 132.78h4.44v1h-4.44zM453.82 134.78h4.44v1h-4.44zM453.82 140.76h4.44v1h-4.44zM453.82 154.72h4.44v1h-4.44zM462.71 32.08h4.44v1h-4.44zM467.15 32.08h4.44v1h-4.44zM471.59 32.08h4.44v1h-4.44zM476.04 32.08h4.44v1h-4.44zM489.37 32.08h4.44v1h-4.44zM493.81 32.08h4.44v1h-4.44zM502.7 32.08h4.44v1h-4.44zM507.14 32.08h4.86v1h-4.86zM471.59 50.03h4.44v1h-4.44zM502.7 50.03h4.44v1h-4.44zM476.04 51.03h4.44v1h-4.44zM489.37 51.03h4.44v1h-4.44zM493.81 51.03h4.44v1h-4.44zM502.7 51.03h4.44v1h-4.44zM462.71 59h4.44v1h-4.44zM467.15 59h4.44v1h-4.44zM471.59 59h4.44v1h-4.44zM476.04 59h4.44v1h-4.44zM489.37 59h4.44v1h-4.44zM493.81 59h4.44v1h-4.44zM502.7 59h4.44v1h-4.44zM507.14 59h4.86v1h-4.86zM462.71 65.98h4.44v1h-4.44zM467.15 65.98h4.44v1h-4.44zM471.59 65.98h4.44v1h-4.44zM476.04 65.98h4.44v1h-4.44zM489.37 65.98h4.44v1h-4.44zM493.81 65.98h4.44v1h-4.44zM502.7 65.98h4.44v1h-4.44zM507.14 65.98h4.86v1h-4.86zM462.71 70.97h4.44v1h-4.44zM467.15 70.97h4.44v1h-4.44zM471.59 70.97h4.44v1h-4.44zM476.04 70.97h4.44v1h-4.44zM489.37 70.97h4.44v1h-4.44zM493.81 70.97h4.44v1h-4.44zM502.7 70.97h4.44v1h-4.44zM507.14 70.97h4.86v1h-4.86zM462.71 79.94h4.44v1h-4.44zM467.15 79.94h4.44v1h-4.44zM471.59 79.94h4.44v1h-4.44zM476.04 79.94h4.44v1h-4.44zM489.37 79.94h4.44v1h-4.44zM493.81 79.94h4.44v1h-4.44zM502.7 79.94h4.44v1h-4.44zM507.14 79.94h4.86v1h-4.86zM462.71 107.86h4.44v1h-4.44zM467.15 107.86h4.44v1h-4.44zM471.59 107.86h4.44v1h-4.44zM476.04 107.86h4.44v1h-4.44zM489.37 107.86h4.44v1h-4.44zM493.81 107.86h4.44v1h-4.44zM502.7 107.86h4.44v1h-4.44zM507.14 107.86h4.86v1h-4.86zM462.71 114.84h4.44v1h-4.44zM476.04 114.84h4.44v1h-4.44zM493.81 114.84h4.44v1h-4.44zM462.71 129.79h4.44v1h-4.44zM467.15 129.79h4.44v1h-4.44zM471.59 129.79h4.44v1h-4.44zM476.04 129.79h4.44v1h-4.44zM489.37 129.79h4.44v1h-4.44zM493.81 129.79h4.44v1h-4.44zM502.7 129.79h4.44v1h-4.44zM507.14 129.79h4.86v1h-4.86zM462.71 133.78h4.44v1h-4.44zM467.15 133.78h4.44v1h-4.44zM471.59 133.78h4.44v1h-4.44zM476.04 133.78h4.44v1h-4.44zM489.37 133.78h4.44v1h-4.44zM493.81 133.78h4.44v1h-4.44zM502.7 133.78h4.44v1h-4.44zM507.14 133.78h4.86v1h-4.86zM462.71 136.77h4.44v1h-4.44zM467.15 136.77h4.44v1h-4.44zM471.59 136.77h4.44v1h-4.44zM476.04 136.77h4.44v1h-4.44zM502.7 136.77h4.44v1h-4.44zM507.14 136.77h4.86v1h-4.86zM476.04 138.76h4.44v1h-4.44zM493.81 138.76h4.44v1h-4.44zM507.14 138.76h4.86v1h-4.86zM462.71 142.75h4.44v1h-4.44zM476.04 142.75h4.44v1h-4.44zM489.37 142.75h4.44v1h-4.44zM493.81 142.75h4.44v1h-4.44zM502.7 142.75h4.44v1h-4.44zM462.71 153.72h4.44v1h-4.44zM467.15 153.72h4.44v1h-4.44zM471.59 153.72h4.44v1h-4.44zM476.04 153.72h4.44v1h-4.44zM489.37 153.72h4.44v1h-4.44zM493.81 153.72h4.44v1h-4.44zM502.7 153.72h4.44v1h-4.44zM507.14 153.72h4.86v1h-4.86z"/>
<path fill="rgb(201,113,50)" fill-opacity="0.143" d="M338.28 34.08h4.44v1h-4.44zM338.28 36.07h4.44v1h-4.44zM338.28 47.04h4.44v1h-4.44zM338.28 54.02h4.44v1h-4.44zM338.28 57.01h4.44v1h-4.44zM338.28 64.99h4.44v1h-4.44zM338.28 116.83h4.44v1h-4.44zM338.28 131.78h4.44v1h-4.44zM347.17 69.97h4.44v1h-4.44zM351.61 62.99h4.44v1h-4.44zM356.06 127.8h4.44v1h-4.44zM360.5 56.01h4.44v1h-4.44zM360.5 124.81h4.44v1h-4.44zM360.5 134.78h4.44v1h-4.44zM369.39 28.1h4.44v1h-4.44zM369.39 36.07h4.44v1h-4.44zM369.39 38.07h4.44v1h-4.44zM369.39 48.04h4.44v1h-4.44zM369.39 64.99h4.44v1h-4.44zM369.39 73.96h4.44v1h-4.44zM369.39 87.92h4.44v1h-4.44zM369.39 95.89h4.44v1h-4.44zM369.39 96.89h4.44v1h-4.44zM369.39 123.81h4.44v1h-4.44zM369.39 124.81h4.44v1h-4.44zM369.39 143.75h4.44v1h-4.44zM369.39 152.72h4.44v1h-4.44zM369.39 153.72h4.44v1h-4.44zM369.39 157.71h4.44v1h-4.44zM373.83 34.08h4.44v1h-4.44zM373.83 38.07h4.44v1h-4.44zM373.83 41.06h4.44v1h-4.44zM373.83 48.04h4.44v1h-4.44zM373.83 49.03h4.44v1h-4.44zM373.83 51.03h4.44v1h-4.44zM373.83 56.01h4.44v1h-4.44zM373.83 58.01h4.44v1h-4.44zM373.83 66.98h4.44v1h-4.44zM373.83 75.95h4.44v1h-4.44zM373.83 88.91h4.44v1h-4.44zM373.83 95.89h4.44v1h-4.44zM373.83 106.86h4.44v1h-4.44zM373.83 111.84h4.44v1h-4.44zM373.83 143.75h4.44v1h-4.44zM373.83 145.74h4.44v1h-4.44zM391.61 129.79h4.44v1h-4.44zM391.61 148.73h4.44v1h-4.44zM396.05 67.98h4.44v1h-4.44zM396.05 90.91h4.44v1h-4.44zM396.05 128.79h4.44v1h-4.44zM396.05 140.76h4.44v1h-4.44zM396.05 145.74h4.44v1h-4.44zM400.5 72.96h4.44v1h-4.44zM409.38 30.09h4.44v1h-4.44zM409.38 33.08h4.44v1h-4.44zM409.38 59h4.44v1h-4.44zM409.38 66.98h4.44v1h-4.44zM409.38 77.95h4.44v1h-4.44zM409.38 104.87h4.44v1h-4.44zM409.38 114.84h4.44v1h-4.44zM409.38 117.83h4.44v1h-4.44zM409.38 128.79h4.44v1h-4.44zM409.38 137.77h4.44v1h-4.44zM409.38 140.76h4.44v1h-4.44zM409.38 145.74h4.44v1h-4.44zM413.83 33.08h4.44v1h-4.44zM413.83 45.05h4.44v1h-4.44zM413.83 53.02h4.44v1h-4.44zM413.83 54.02h4.44v1h-4.44zM413.83 57.01h4.44v1h-4.44zM413.83 66.98h4.44v1h-4.44zM413.83 67.98h4.44v1h-4.44zM413.83 73.96h4.44v1h-4.44zM413.83 87.92h4.44v1h-4.44zM413.83 91.9h4.44v1h-4.44zM413.83 98.88h4.44v1h-4.44zM427.16 31.09h4.44v1h-4.44zM427.16 39.06h4.44v1h-4.44zM427.16 52.02h4.44v1h-4.44zM427.16 54.02h4.44v1h-4.44zM427.16 58.01h4.44v1h-4.44zM427.16 89.91h4.44v1h-4.44zM427.16 98.88h4.44v1h-4.44zM427.16 117.83h4.44v1h-4.44zM427.16 119.82h4.44v1h-4.44zM427.16 129.79h4.44v1h-4.44zM440.49 29.09h4.44v1h-4.44zM440.49 41.06h4.44v1h-4.44zM440.49 44.05h4.44v1h-4.44zM440.49 61.99h4.44v1h-4.44zM440.49 62.99h4.44v1h-4.44zM440.49 63.99h4.44v1h-4.44zM440.49 64.99h4.44v1h-4.44zM440.49 66.98h4.44v1h-4.44zM440.49 76.95h4.44v1h-4.44zM440.49 80.94h4.44v1h-4.44zM440.49 113.84h4.44v1h-4.44zM440.49 115.83h4.44v1h-4.44zM440.49 128.79h4.44v1h-4.44zM440.49 153.72h4.44v1h-4.44zM462.71 31.09h4.44v1h-4.44zM467.15 31.09h4.44v1h-4.44zM471.59 31.09h4.44v1h-4.44zM476.04 31.09h4.44v1h-4.44zM489.37 31.09h4.44v1h-4.44zM493.81 31.09h4.44v1h-4.44zM502.7 31.09h4.44v1h-4.44zM507.14 31.09h4.86v1h-4.86zM462.71 36.07h4.44v1h-4.44zM467.15 36.07h4.44v1h-4.44zM471.59 36.07h4.44v1h-4.44zM476.04 36.07h4.44v1h-4.44zM489.37 36.07h4.44v1h-4.44zM493.81 36.07h4.44v1h-4.44zM502.7 36.07h4.44v1h-4.44zM507.14 36.07h4.86v1h-4.86zM462.71 40.06h4.44v1h-4.44zM467.15 40.06h4.44v1h-4.44zM471.59 40.06h4.44v1h-4.44zM476.04 40.06h4.44v1h-4.44zM489.37 40.06h4.44v1h-4.44zM493.81 40.06h4.44v1h-4.44zM502.7 40.06h4.44v1h-4.44zM507.14 40.06h4.86v1h-4.86zM462.71 43.05h4.44v1h-4.44zM467.15 43.05h4.44v1h-4.44zM471.59 43.05h4.44v1h-4.44zM476.04 43.05h4.44v1h-4.44zM489.37 43.05h4.44v1h-4.44zM493.81 43.05h4.44v1h-4.44zM502.7 43.05h4.44v1h-4.44zM507.14 43.05h4.86v1h-4.86zM462.71 47.04h4.44v1h-4.44zM467.15 47.04h4.44v1h-4.44zM471.59 47.04h4.44v1h-4.44zM476.04 47.04h4.44v1h-4.44zM489.37 47.04h4.44v1h-4.44zM493.81 47.04h4.44v1h-4.44zM502.7 47.04h4.44v1h-4.44zM507.14 47.04h4.86v1h-4.86zM462.71 50.03h4.44v1h-4.44zM467.15 50.03h4.44v1h-4.44zM476.04 50.03h4.44v1h-4.44zM489.37 50.03h4.44v1h-4.44zM493.81 50.03h4.44v1h-4.44zM507.14 50.03h4.86v1h-4.86zM462.71 51.03h4.44v1h-4.44zM467.15 51.03h4.44v1h-4.44zM471.59 51.03h4.44v1h-4.44zM507.14 51.03h4.86v1h-4.86zM462.71 55.02h4.44v1h-4.44zM467.15 55.02h4.44v1h-4.44zM471.59 55.02h4.44v1h-4.44zM476.04 55.02h4.44v1h-4.44zM489.37 55.02h4.44v1h-4.44zM493.81 55.02h4.44v1h-4.44zM502.7 55.02h4.44v1h-4.44zM507.14 55.02h4.86v1h-4.86zM462.71 67.98h4.44v1h-4.44zM467.15 67.98h4.44v1h-4.44zM471.59 67.98h4.44v1h-4.44zM476.04 67.98h4.44v1h-4.44zM489.37 67.98h4.44v1h-4.44zM493.81 67.98h4.44v1h-4.44zM502.7 67.98h4.44v1h-4.44zM507.14 67.98h4.86v1h-4.86zM467.15 73.96h4.44v1h-4.44zM493.81 73.96h4.44v1h-4.44zM462.71 75.95h4.44v1h-4.44zM467.15 75.95h4.44v1h-4.44zM471.59 75.95h4.44v1h-4.44zM476.04 75.95h4.44v1h-4.44zM489.37 75.95h4.44v1h-4.44zM493.81 75.95h4.44v1h-4.44zM502.7 75.95h4.44v1h-4.44zM507.14 75.95h4.86v1h-4.86zM462.71 78.94h4.44v1h-4.44zM467.15 78.94h4.44v1h-4.44zM471.59 78.94h4.44v1h-4.44zM476.04 78.94h4.44v1h-4.44zM489.37 78.94h4.44v1h-4.44zM493.81 78.94h4.44v1h-4.44zM502.7 78.94h4.44v1h-4.44zM507.14 78.94h4.86v1h-4.86zM462.71 82.93h4.44v1h-4.44zM467.15 82.93h4.44v1h-4.44zM471.59 82.93h4.44v1h-4.44zM476.04 82.93h4.44v1h-4.44zM489.37 82.93h4.44v1h-4.44zM493.81 82.93h4.44v1h-4.44zM502.7 82.93h4.44v1h-4.44zM507.14 82.93h4.86v1h-4.86zM462.71 106.86h4.44v1h-4.44zM467.15 106.86h4.44v1h-4.44zM471.59 106.86h4.44v1h-4.44zM476.04 106.86h4.44v1h-4.44zM489.37 106.86h4.44v1h-4.44zM493.81 106.86h4.44v1h-4.44zM502.7 106.86h4.44v1h-4.44zM507.14 106.86h4.86v1h-4.86zM462.71 110.85h4.44v1h-4.44zM471.59 110.85h4.44v1h-4.44zM476.04 110.85h4.44v1h-4.44zM493.81 110.85h4.44v1h-4.44zM502.7 110.85h4.44v1h-4.44zM467.15 114.84h4.44v1h-4.44zM471.59 114.84h4.44v1h-4.44zM489.37 114.84h4.44v1h-4.44zM502.7 114.84h4.44v1h-4.44zM507.14 114.84h4.86v1h-4.86zM489.37 136.77h4.44v1h-4.44zM493.81 136.77h4.44v1h-4.44zM462.71 138.76h4.44v1h-4.44zM467.15 138.76h4.44v1h-4.44zM471.59 138.76h4.44v1h-4.44zM489.37 138.76h4.44v1h-4.44zM502.7 138.76h4.44v1h-4.44zM467.15 142.75h4.44v1h-4.44zM471.59 142.75h4.44v1h-4.44zM507.14 142.75h4.86v1h-4.86zM462.71 147.74h4.44v1h-4.44zM467.15 147.74h4.44v1h-4.44zM471.59 147.74h4.44v1h-4.44zM476.04 147.74h4.44v1h-4.44zM489.37 147.74h4.44v1h-4.44zM493.81 147.74h4.44v1h-4.44zM502.7 147.74h4.44v1h-4.44zM507.14 147.74h4.86v1h-4.86zM462.71 150.73h4.44v1h-4.44zM467.15 150.73h4.44v1h-4.44zM471.59 150.73h4.44v1h-4.44zM476.04 150.73h4.44v1h-4.44zM489.37 150.73h4.44v1h-4.44zM493.81 150.73h4.44v1h-4.44zM502.7 150.73h4.44v1h-4.44zM507.14 150.73h4.86v1h-4.86z"/>
<path fill="rgb(201,113,50)" fill-opacity="0.214" d="M338.28 37.07h4.44v1h-4.44zM338.28 71.96h4.44v1h-4.44zM338.28 93.9h4.44v1h-4.44zM338.28 103.87h4.44v1h-4.44zM338.28 133.78h4.44v1h-4.44zM338.28 134.78h4.44v1h-4.44zM347.17 56.01h4.44v1h-4.44zM347.17 60h4.44v1h-4.44zM347.17 124.81h4.44v1h-4.44zM347.17 134.78h4.44v1h-4.44zM351.61 41.06h4.44v1h-4.44zM351.61 49.03h4.44v1h-4.44zM351.61 56.01h4.44v1h-4.44zM351.61 74.96h4.44v1h-4.44zM351.61 77.95h4.44v1h-4.44zM351.61 79.94h4.44v1h-4.44zM351.61 124.81h4.44v1h-4.44zM351.61 127.8h4.44v1h-4.44zM351.61 156.71h4.44v1h-4.44zM356.06 56.01h4.44v1h-4.44zM356.06 79.94h4.44v1h-4.44zM360.5 63.99h4.44v1h-4.44zM360.5 69.97h4.44v1h-4.44zM360.5 127.8h4.44v1h-4.44zM360.5 147.74h4.44v1h-4.44zM369.39 33.08h4.44v1h-4.44zM369.39 34.08h4.44v1h-4.44zM369.39 35.08h4.44v1h-4.44zM369.39 50.03h4.44v1h-4.44zM369.39 55.02h4.44v1h-4.44zM369.39 62.99h4.44v1h-4.44zM369.39 67.98h4.44v1h-4.44zM369.39 69.97h4.44v1h-4.44zM369.39 79.94h4.44v1h-4.44zM369.39 86.92h4.44v1h-4.44zM369.39 88.91h4.44v1h-4.44zM369.39 89.91h4.44v1h-4.44zM369.39 98.88h4.44v1h-4.44zM369.39 111.84h4.44v1h-4.44zM369.39 117.83h4.44v1h-4.44zM369.39 126.8h4.44v1h-4.44zM369.39 130.79h4.44v1h-4.44zM369.39 146.74h4.44v1h-4.44zM369.39 154.72h4.44v1h-4.44zM369.39 156.71h4.44v1h-4.44zM373.83 33.08h4.44v1h-4.44zM373.83 35.08h4.44v1h-4.44zM373.83 46.04h4.44v1h-4.44zM373.83 50.03h4.44v1h-4.44zM373.83 54.02h4.44v1h-4.44zM373.83 61.99h4.44v1h-4.44zM373.83 65.98h4.44v1h-4.44zM373.83 71.96h4.44v1h-4.44zM373.83 72.96h4.44v1h-4.44zM373.83 78.94h4.44v1h-4.44zM373.83 81.93h4.44v1h-4.44zM373.83 83.93h4.44v1h-4.44zM373.83 89.91h4.44v1h-4.44zM373.83 94.9h4.44v1h-4.44zM373.83 98.88h4.44v1h-4.44zM373.83 109.85h4.44v1h-4.44zM373.83 114.84h4.44v1h-4.44zM373.83 122.81h4.44v1h-4.44zM373.83 124.81h4.44v1h-4.44zM373.83 127.8h4.44v1h-4.44zM373.83 146.74h4.44v1h-4.44zM373.83 148.73h4.44v1h-4.44zM373.83 150.73h4.44v1h-4.44zM373.83 152.72h4.44v1h-4.44zM373.83 156.71h4.44v1h-4.44zM378.28 74.96h4.44v1h-4.44zM378.28 119.82h4.44v1h-4.44zM378.28 155.71h4.44v1h-4.44zM391.61 104.87h4.44v1h-4.44zM396.05 30.09h4.44v1h-4.44zM396.05 63.99h4.44v1h-4.44zM396.05 72.96h4.44v1h-4.44zM396.05 148.73h4.44v1h-4.44zM400.5 129.79h4.44v1h-4.44zM409.38 31.09h4.44v1h-4.44zM409.38 37.07h4.44v1h-4.44zM409.38 53.02h4.44v1h-4.44zM409.38 54.02h4.44v1h-4.44zM409.38 64.99h4.44v1h-4.44zM409.38 67.98h4.44v1h-4.44zM409.38 73.96h4.44v1h-4.44zM409.38 79.94h4.44v1h-4.44zM409.38 82.93h4.44v1h-4.44zM409.38 84.93h4.44v1h-4.44zM409.38 89.91h4.44v1h-4.44zM409.38 112.84h4.44v1h-4.44zM409.38 125.8h4.44v1h-4.44zM409.38 127.8h4.44v1h-4.44zM409.38 138.76h4.44v1h-4.44zM409.38 139.76h4.44v1h-4.44zM413.83 27.1h4.44v1h-4.44zM413.83 31.09h4.44v1h-4.44zM413.83 35.08h4.44v1h-4.44zM413.83 46.04h4.44v1h-4.44zM413.83 77.95h4.44v1h-4.44zM413.83 79.94h4.44v1h-4.44zM413.83 81.93h4.44v1h-4.44zM413.83 99.88h4.44v1h-4.44zM413.83 104.87h4.44v1h-4.44zM413.83 107.86h4.44v1h-4.44zM413.83 110.85h4.44v1h-4.44zM413.83 113.84h4.44v1h-4.44zM413.83 119.82h4.44v1h-4.44zM413.83 121.81h4.44v1h-4.44zM413.83 125.8h4.44v1h-4.44zM413.83 137.77h4.44v1h-4.44zM413.83 138.76h4.44v1h-4.44zM413.83 139.76h4.44v1h-4.44zM413.83 145.74h4.44v1h-4.44zM413.83 155.71h4.44v1h-4.44zM413.83 157.71h4.44v1h-4.44zM427.16 27.1h4.44v1h-4.44zM427.16 50.03h4.44v1h-4.44zM427.16 55.02h4.44v1h-4.44zM427.16 66.98h4.44v1h-4.44zM427.16 73.96h4.44v1h-4.44zM427.16 74.96h4.44v1h-4.44zM427.16 77.95h4.44v1h-4.44zM427.16 83.93h4.44v1h-4.44zM427.16 95.89h4.44v1h-4.44zM427.16 103.87h4.44v1h-4.44zM427.16 107.86h4.44v1h-4.44zM427.16 110.85h4.44v1h-4.44zM427.16 113.84h4.44v1h-4.44zM427.16 121.81h4.44v1h-4.44zM427.16 130.79h4.44v1h-4.44zM427.16 146.74h4.44v1h-4.44zM436.04 74.96h4.44v1h-4.44zM436.04 121.81h4.44v1h-4.44zM440.49 28.1h4.44v1h-4.44zM440.49 31.09h4.44v1h-4.44zM440.49 32.08h4.44v1h-4.44zM440.49 54.02h4.44v1h-4.44zM440.49 55.02h4.44v1h-4.44zM440.49 58.01h4.44v1h-4.44zM440.49 72.96h4.44v1h-4.44zM440.49 77.95h4.44v1h-4.44zM440.49 85.92h4.44v1h-4.44zM440.49 86.92h4.44v1h-4.44zM440.49 96.89h4.44v1h-4.44zM440.49 99.88h4.44v1h-4.44zM440.49 105.86h4.44v1h-4.44zM440.49 110.85h4.44v1h-4.44zM440.49 117.83h4.44v1h-4.44zM440.49 119.82h4.44v1h-4.44zM440.49 122.81h4.44v1h-4.44zM440.49 126.8h4.44v1h-4.44zM440.49 149.73h4.44v1h-4.44zM440.49 154.72h4.44v1h-4.44zM440.49 157.71h4.44v1h-4.44zM462.71 35.08h4.44v1h-4.44zM467.15 35.08h4.44v1h-4.44zM476.04 35.08h4.44v1h-4.44zM493.81 35.08h4.44v1h-4.44zM502.7 35.08h4.44v1h-4.44zM462.71 44.05h4.44v1h-4.44zM467.15 44.05h4.44v1h-4.44zM471.59 44.05h4.44v1h-4.44zM476.04 44.05h4.44v1h-4.44zM489.37 44.05h4.44v1h-4.44zM493.81 44.05h4.44v1h-4.44zM502.7 44.05h4.44v1h-4.44zM507.14 44.05h4.86v1h-4.86zM462.71 46.04h4.44v1h-4.44zM467.15 46.04h4.44v1h-4.44zM471.59 46.04h4.44v1h-4.44zM476.04 46.04h4.44v1h-4.44zM489.37 46.04h4.44v1h-4.44zM493.81 46.04h4.44v1h-4.44zM502.7 46.04h4.44v1h-4.44zM507.14 46.04h4.86v1h-4.86zM462.71 56.01h4.44v1h-4.44zM467.15 56.01h4.44v1h-4.44zM471.59 56.01h4.44v1h-4.44zM476.04 56.01h4.44v1h-4.44zM489.37 56.01h4.44v1h-4.44zM493.81 56.01h4.44v1h-4.44zM502.7 56.01h4.44v1h-4.44zM507.14 56.01h4.86v1h-4.86zM462.71 60h4.44v1h-4.44zM467.15 60h4.44v1h-4.44zM471.59 60h4.44v1h-4.44zM476.04 60h4.44v1h-4.44zM489.37 60h4.44v1h-4.44zM493.81 60h4.44v1h-4.44zM502.7 60h4.44v1h-4.44zM507.14 60h4.86v1h-4.86zM462.71 69.97h4.44v1h-4.44zM467.15 69.97h4.44v1h-4.44zM471.59 69.97h4.44v1h-4.44zM476.04 69.97h4.44v1h-4.44zM489.37 69.97h4.44v1h-4.44zM493.81 69.97h4.44v1h-4.44zM502.7 69.97h4.44v1h-4.44zM507.14 69.97h4.86v1h-4.86zM462.71 73.96h4.44v1h-4.44zM471.59 73.96h4.44v1h-4.44zM476.04 73.96h4.44v1h-4.44zM489.37 73.96h4.44v1h-4.44zM502.7 73.96h4.44v1h-4.44zM507.14 73.96h4.86v1h-4.86zM462.71 74.96h4.44v1h-4.44zM467.15 74.96h4.44v1h-4.44zM471.59 74.96h4.44v1h-4.44zM476.04 74.96h4.44v1h-4.44zM489.37 74.96h4.44v1h-4.44zM493.81 74.96h4.44v1h-4.44zM502.7 74.96h4.44v1h-4.44zM507.14 74.96h4.86v1h-4.86zM462.71 83.93h4.44v1h-4.44zM467.15 83.93h4.44v1h-4.44zM471.59 83.93h4.44v1h-4.44zM476.04 83.93h4.44v1h-4.44zM489.37 83.93h4.44v1h-4.44zM493.81 83.93h4.44v1h-4.44zM502.7 83.93h4.44v1h-4.44zM507.14 83.93h4.86v1h-4.86zM462.71 86.92h4.44v1h-4.44zM467.15 86.92h4.44v1h-4.44zM471.59 86.92h4.44v1h-4.44zM476.04 86.92h4.44v1h-4.44zM489.37 86.92h4.44v1h-4.44zM493.81 86.92h4.44v1h-4.44zM502.7 86.92h4.44v1h-4.44zM507.14 86.92h4.86v1h-4.86zM462.71 92.9h4.44v1h-4.44zM467.15 92.9h4.44v1h-4.44zM471.59 92.9h4.44v1h-4.44zM476.04 92.9h4.44v1h-4.44zM489.37 92.9h4.44v1h-4.44zM493.81 92.9h4.44v1h-4.44zM502.7 92.9h4.44v1h-4.44zM507.14 92.9h4.86v1h-4.86zM467.15 110.85h4.44v1h-4.44zM489.37 110.85h4.44v1h-4.44zM507.14 110.85h4.86v1h-4.86zM467.15 115.83h4.44v1h-4.44zM489.37 115.83h4.44v1h-4.44zM493.81 115.83h4.44v1h-4.44zM502.7 115.83h4.44v1h-4.44zM507.14 115.83h4.86v1h-4.86zM462.71 117.83h4.44v1h-4.44zM467.15 117.83h4.44v1h-4.44zM471.59 117.83h4.44v1h-4.44zM476.04 117.83h4.44v1h-4.44zM489.37 117.83h4.44v1h-4.44zM493.81 117.83h4.44v1h-4.44zM502.7 117.83h4.44v1h-4.44zM507.14 117.83h4.86v1h-4.86zM462.71 118.82h4.44v1h-4.44zM467.15 118.82h4.44v1h-4.44zM476.04 118.82h4.44v1h-4.44zM489.37 118.82h4.44v1h-4.44zM493.81 118.82h4.44v1h-4.44zM502.7 118.82h4.44v1h-4.44zM507.14 118.82h4.86v1h-4.86zM462.71 155.71h4.44v1h-4.44zM471.59 155.71h4.44v1h-4.44zM489.37 155.71h4.44v1h-4.44zM502.7 155.71h4.44v1h-4.44z"/>
<path fill="rgb(201,113,50)" fill-opacity="0.286" d="M338.28 28.1h4.44v1h-4.44zM338.28 75.95h4.44v1h-4.44zM338.28 85.92h4.44v1h-4.44zM338.28 87.92h4.44v1h-4.44zM338.28 98.88h4.44v1h-4.44zM338.28 101.87h4.44v1h-4.44zM338.28 106.86h4.44v1h-4.44zM338.28 156.71h4.44v1h-4.44zM338.28 158.7h4.44v1h-4.44zM347.17 33.08h4.44v1h-4.44zM347.17 41.06h4.44v1h-4.44zM347.17 44.05h4.44v1h-4.44zM347.17 62.99h4.44v1h-4.44zM347.17 63.99h4.44v1h-4.44zM347.17 127.8h4.44v1h-4.44zM347.17 149.73h4.44v1h-4.44zM351.61 29.09h4.44v1h-4.44zM351.61 42.05h4.44v1h-4.44zM351.61 45.05h4.44v1h-4.44zM351.61 50.03h4.44v1h-4.44zM351.61 63.99h4.44v1h-4.44zM351.61 64.99h4.44v1h-4.44zM351.61 69.97h4.44v1h-4.44zM351.61 78.94h4.44v1h-4.44zM351.61 82.93h4.44v1h-4.44zM351.61 112.84h4.44v1h-4.44zM351.61 113.84h4.44v1h-4.44zM351.61 123.81h4.44v1h-4.44zM351.61 129.79h4.44v1h-4.44zM351.61 141.75h4.44v1h-4.44zM351.61 143.75h4.44v1h-4.44zM351.61 148.73h4.44v1h-4.44zM351.61 151.72h4.44v1h-4.44zM356.06 87.92h4.44v1h-4.44zM356.06 107.86h4.44v1h-4.44zM356.06 113.84h4.44v1h-4.44zM356.06 134.78h4.44v1h-4.44zM356.06 147.74h4.44v1h-4.44zM356.06 151.72h4.44v1h-4.44zM356.06 156.71h4.44v1h-4.44zM360.5 38.07h4.44v1h-4.44zM360.5 41.06h4.44v1h-4.44zM360.5 49.03h4.44v1h-4.44zM360.5 52.02h4.44v1h-4.44zM360.5 55.02h4.44v1h-4.44zM360.5 77.95h4.44v1h-4.44zM360.5 87.92h4.44v1h-4.44zM360.5 107.86h4.44v1h-4.44zM360.5 146.74h4.44v1h-4.44zM360.5 156.71h4.44v1h-4.44zM369.39 39.06h4.44v1h-4.44zM369.39 44.05h4.44v1h-4.44zM369.39 52.02h4.44v1h-4.44zM369.39 58.01h4.44v1h-4.44zM369.39 61h4.44v1h-4.44zM369.39 61.99h4.44v1h-4.44zM369.39 63.99h4.44v1h-4.44zM369.39 71.96h4.44v1h-4.44zM369.39 74.96h4.44v1h-4.44zM369.39 75.95h4.44v1h-4.44zM369.39 84.93h4.44v1h-4.44zM369.39 103.87h4.44v1h-4.44zM369.39 112.84h4.44v1h-4.44zM369.39 113.84h4.44v1h-4.44zM369.39 114.84h4.44v1h-4.44zM369.39 134.78h4.44v1h-4.44zM369.39 137.77h4.44v1h-4.44zM369.39 141.75h4.44v1h-4.44zM369.39 145.74h4.44v1h-4.44zM369.39 148.73h4.44v1h-4.44zM369.39 149.73h4.44v1h-4.44zM373.83 27.1h4.44v1h-4.44zM373.83 31.09h4.44v1h-4.44zM373.83 43.05h4.44v1h-4.44zM373.83 44.05h4.44v1h-4.44zM373.83 47.04h4.44v1h-4.44zM373.83 53.02h4.44v1h-4.44zM373.83 68.97h4.44v1h-4.44zM373.83 69.97h4.44v1h-4.44zM373.83 74.96h4.44v1h-4.44zM373.83 76.95h4.44v1h-4.44zM373.83 79.94h4.44v1h-4.44zM373.83 90.91h4.44v1h-4.44zM373.83 91.9h4.44v1h-4.44zM373.83 96.89h4.44v1h-4.44zM373.83 102.87h4.44v1h-4.44zM373.83 103.87h4.44v1h-4.44zM373.83 105.86h4.44v1h-4.44zM373.83 110.85h4.44v1h-4.44zM373.83 118.82h4.44v1h-4.44zM373.83 130.79h4.44v1h-4.44zM373.83 133.78h4.44v1h-4.44zM373.83 134.78h4.44v1h-4.44zM373.83 140.76h4.44v1h-4.44zM373.83 157.71h4.44v1h-4.44zM373.83 158.7h4.44v1h-4.44zM378.28 59h4.44v1h-4.44zM378.28 72.96h4.44v1h-4.44zM378.28 80.94h4.44v1h-4.44zM378.28 101.87h4.44v1h-4.44zM378.28 129.79h4.44v1h-4.44zM378.28 139.76h4.44v1h-4.44zM378.28 144.75h4.44v1h-4.44zM391.61 67.98h4.44v1h-4.44zM391.61 90.91h4.44v1h-4.44zM396.05 33.08h4.44v1h-4.44zM396.05 54.02h4.44v1h-4.44zM396.05 57.01h4.44v1h-4.44zM396.05 73.96h4.44v1h-4.44zM396.05 78.94h4.44v1h-4.44zM396.05 86.92h4.44v1h-4.44zM396.05 88.91h4.44v1h-4.44zM396.05 97.89h4.44v1h-4.44zM396.05 104.87h4.44v1h-4.44zM396.05 114.84h4.44v1h-4.44zM396.05 125.8h4.44v1h-4.44zM396.05 138.76h4.44v1h-4.44zM400.5 54.02h4.44v1h-4.44zM400.5 114.84h4.44v1h-4.44zM404.94 37.07h4.44v1h-4.44zM404.94 67.98h4.44v1h-4.44zM404.94 129.79h4.44v1h-4.44zM404.94 148.73h4.44v1h-4.44zM409.38 35.08h4.44v1h-4.44zM409.38 36.07h4.44v1h-4.44zM409.38 38.07h4.44v1h-4.44zM409.38 45.05h4.44v1h-4.44zM409.38 46.04h4.44v1h-4.44zM409.38 76.95h4.44v1h-4.44zM409.38 86.92h4.44v1h-4.44zM409.38 106.86h4.44v1h-4.44zM409.38 107.86h4.44v1h-4.44zM409.38 111.84h4.44v1h-4.44zM409.38 146.74h4.44v1h-4.44zM409.38 149.73h4.44v1h-4.44zM409.38 157.71h4.44v1h-4.44zM413.83 32.08h4.44v1h-4.44zM413.83 36.07h4.44v1h-4.44zM413.83 59h4.44v1h-4.44zM413.83 61.99h4.44v1h-4.44zM413.83 78.94h4.44v1h-4.44zM413.83 82.93h4.44v1h-4.44zM413.83 84.93h4.44v1h-4.44zM413.83 88.91h4.44v1h-4.44zM413.83 96.89h4.44v1h-4.44zM413.83 101.87h4.44v1h-4.44zM413.83 111.84h4.44v1h-4.44zM413.83 112.84h4.44v1h-4.44zM413.83 117.83h4.44v1h-4.44zM413.83 122.81h4.44v1h-4.44zM413.83 130.79h4.44v1h-4.44zM413.83 136.77h4.44v1h-4.44zM413.83 143.75h4.44v1h-4.44zM413.83 147.74h4.44v1h-4.44zM413.83 153.72h4.44v1h-4.44zM413.83 154.72h4.44v1h-4.44zM413.83 158.7h4.44v1h-4.44zM427.16 28.1h4.44v1h-4.44zM427.16 37.07h4.44v1h-4.44zM427.16 38.07h4.44v1h-4.44zM427.16 56.01h4.44v1h-4.44zM427.16 57.01h4.44v1h-4.44zM427.16 60h4.44v1h-4.44zM427.16 61.99h4.44v1h-4.44zM427.16 67.98h4.44v1h-4.44zM427.16 92.9h4.44v1h-4.44zM427.16 106.86h4.44v1h-4.44zM427.16 111.84h4.44v1h-4.44zM427.16 112.84h4.44v1h-4.44zM427.16 116.83h4.44v1h-4.44zM427.16 124.81h4.44v1h-4.44zM427.16 128.79h4.44v1h-4.44zM427.16 141.75h4.44v1h-4.44zM427.16 142.75h4.44v1h-4.44zM427.16 145.74h4.44v1h-4.44zM427.16 149.73h4.44v1h-4.44zM427.16 151.72h4.44v1h-4.44zM427.16 154.72h4.44v1h-4.44zM436.04 82.93h4.44v1h-4.44zM436.04 83.93h4.44v1h-4.44zM440.49 30.09h4.44v1h-4.44zM440.49 48.04h4.44v1h-4.44zM440.49 59h4.44v1h-4.44zM440.49 61h4.44v1h-4.44zM440.49 67.98h4.44v1h-4.44zM440.49 69.97h4.44v1h-4.44zM440.49 81.93h4.44v1h-4.44zM440.49 83.93h4.44v1h-4.44zM440.49 84.93h4.44v1h-4.44zM440.49 90.91h4.44v1h-4.44zM440.49 106.86h4.44v1h-4.44zM440.49 109.85h4.44v1h-4.44zM440.49 123.81h4.44v1h-4.44zM440.49 133.78h4.44v1h-4.44zM440.49 143.75h4.44v1h-4.44zM440.49 146.74h4.44v1h-4.44zM440.49 150.73h4.44v1h-4.44zM440.49 151.72h4.44v1h-4.44zM440.49 156.71h4.44v1h-4.44zM453.82 33.08h4.44v1h-4.44zM453.82 125.8h4.44v1h-4.44zM453.82 142.75h4.44v1h-4.44zM471.59 35.08h4.44v1h-4.44zM489.37 35.08h4.44v1h-4.44zM507.14 35.08h4.86v1h-4.86zM462.71 42.05h4.44v1h-4.44zM467.15 42.05h4.44v1h-4.44zM471.59 42.05h4.44v1h-4.44zM476.04 42.05h4.44v1h-4.44zM489.37 42.05h4.44v1h-4.44zM493.81 42.05h4.44v1h-4.44zM502.7 42.05h4.44v1h-4.44zM507.14 42.05h4.86v1h-4.86zM462.71 49.03h4.44v1h-4.44zM467.15 49.03h4.44v1h-4.44zM471.59 49.03h4.44v1h-4.44zM476.04 49.03h4.44v1h-4.44zM489.37 49.03h4.44v1h-4.44zM493.81 49.03h4.44v1h-4.44zM502.7 49.03h4.44v1h-4.44zM507.14 49.03h4.86v1h-4.86zM462.71 53.02h4.44v1h-4.44zM467.15 53.02h4.44v1h-4.44zM471.59 53.02h4.44v1h-4.44zM476.04 53.02h4.44v1h-4.44zM489.37 53.02h4.44v1h-4.44zM493.81 53.02h4.44v1h-4.44zM502.7 53.02h4.44v1h-4.44zM507.14 53.02h4.86v1h-4.86zM462.71 63.99h4.44v1h-4.44zM471.59 63.99h4.44v1h-4.44zM476.04 63.99h4.44v1h-4.44zM507.14 72.96h4.86v1h-4.86zM467.15 84.93h4.44v1h-4.44zM489.37 84.93h4.44v1h-4.44zM493.81 84.93h4.44v1h-4.44zM502.7 84.93h4.44v1h-4.44zM462.71 85.92h4.44v1h-4.44zM467.15 85.92h4.44v1h-4.44zM471.59 85.92h4.44v1h-4.44zM476.04 85.92h4.44v1h-4.44zM489.37 85.92h4.44v1h-4.44zM493.81 85.92h4.44v1h-4.44zM502.7 85.92h4.44v1h-4.44zM507.14 85.92h4.86v1h-4.86zM462.71 96.89h4.44v1h-4.44zM467.15 96.89h4.44v1h-4.44zM471.59 96.89h4.44v1h-4.44zM476.04 96.89h4.44v1h-4.44zM489.37 96.89h4.44v1h-4.44zM493.81 96.89h4.44v1h-4.44zM502.7 96.89h4.44v1h-4.44zM507.14 96.89h4.86v1h-4.86zM471.59 105.86h4.44v1h-4.44zM476.04 105.86h4.44v1h-4.44zM502.7 105.86h4.44v1h-4.44zM462.71 108.85h4.44v1h-4.44zM467.15 108.85h4.44v1h-4.44zM471.59 108.85h4.44v1h-4.44zM476.04 108.85h4.44v1h-4.44zM489.37 108.85h4.44v1h-4.44zM502.7 108.85h4.44v1h-4.44zM462.71 115.83h4.44v1h-4.44zM471.59 115.83h4.44v1h-4.44zM476.04 115.83h4.44v1h-4.44zM471.59 118.82h4.44v1h-4.44zM467.15 124.81h4.44v1h-4.44zM462.71 125.8h4.44v1h-4.44zM471.59 125.8h4.44v1h-4.44zM476.04 125.8h4.44v1h-4.44zM489.37 125.8h4.44v1h-4.44zM493.81 125.8h4.44v1h-4.44zM507.14 125.8h4.86v1h-4.86zM462.71 130.79h4.44v1h-4.44zM467.15 130.79h4.44v1h-4.44zM489.37 130.79h4.44v1h-4.44zM467.15 134.78h4.44v1h-4.44zM471.59 134.78h4.44v1h-4.44zM493.81 134.78h4.44v1h-4.44zM502.7 134.78h4.44v1h-4.44zM462.71 140.76h4.44v1h-4.44zM467.15 140.76h4.44v1h-4.44zM471.59 140.76h4.44v1h-4.44zM476.04 140.76h4.44v1h-4.44zM489.37 140.76h4.44v1h-4.44zM493.81 140.76h4.44v1h-4.44zM507.14 140.76h4.86v1h-4.86zM471.59 141.75h4.44v1h-4.44zM502.7 141.75h4.44v1h-4.44zM462.71 149.73h4.44v1h-4.44zM467.15 149.73h4.44v1h-4.44zM471.59 149.73h4.44v1h-4.44zM476.04 149.73h4.44v1h-4.44zM489.37 149.73h4.44v1h-4.44zM493.81 149.73h4.44v1h-4.44zM502.7 149.73h4.44v1h-4.44zM507.14 149.73h4.86v1h-4.86zM467.15 152.72h4.44v1h-4.44zM471.59 152.72h4.44v1h-4.44zM489.37 152.72h4.44v1h-4.44zM493.81 152.72h4.44v1h-4.44zM502.7 152.72h4.44v1h-4.44zM507.14 152.72h4.86v1h-4.86zM462.71 154.72h4.44v1h-4.44zM467.15 154.72h4.44v1h-4.44zM476.04 154.72h4.44v1h-4.44zM493.81 154.72h4.44v1h-4.44zM507.14 154.72h4.86v1h-4.86zM467.15 155.71h4.44v1h-4.44zM476.04 155.71h4.44v1h-4.44zM493.81 155.71h4.44v1h-4.44zM507.14 155.71h4.86v1h-4.86zM462.71 157.71h4.44v1h-4.44zM467.15 157.71h4.44v1h-4.44zM493.81 157.71h4.44v1h-4.44zM476.04 158.7h4.44v1h-4.44zM502.7 158.7h4.44v1h-4.44z"/>
<path fill="rgb(201,113,50)" fill-opacity="0.357" d="M338.28 33.08h4.44v1h-4.44zM338.28 35.08h4.44v1h-4.44zM338.28 42.05h4.44v1h-4.44zM338.28 43.05h4.44v1h-4.44zM338.28 46.04h4.44v1h-4.44zM338.28 48.04h4.44v1h-4.44zM338.28 49.03h4.44v1h-4.44zM338.28 56.01h4.44v1h-4.44zM338.28 68.97h4.44v1h-4.44zM338.28 74.96h4.44v1h-4.44zM338.28 80.94h4.44v1h-4.44zM338.28 83.93h4.44v1h-4.44zM338.28 95.89h4.44v1h-4.44zM338.28 109.85h4.44v1h-4.44zM338.28 115.83h4.44v1h-4.44zM338.28 128.79h4.44v1h-4.44zM338.28 136.77h4.44v1h-4.44zM338.28 137.77h4.44v1h-4.44zM338.28 143.75h4.44v1h-4.44zM338.28 144.75h4.44v1h-4.44zM338.28 148.73h4.44v1h-4.44zM338.28 155.71h4.44v1h-4.44zM338.28 157.71h4.44v1h-4.44zM347.17 66.98h4.44v1h-4.44zM347.17 79.94h4.44v1h-4.44zM347.17 80.94h4.44v1h-4.44zM347.17 83.93h4.44v1h-4.44zM347.17 87.92h4.44v1h-4.44zM347.17 92.9h4.44v1h-4.44zM347.17 141.75h4.44v1h-4.44zM347.17 146.74h4.44v1h-4.44zM347.17 147.74h4.44v1h-4.44zM347.17 148.73h4.44v1h-4.44zM347.17 151.72h4.44v1h-4.44zM347.17 156.71h4.44v1h-4.44zM351.61 40.06h4.44v1h-4.44zM351.61 44.05h4.44v1h-4.44zM351.61 52.02h4.44v1h-4.44zM351.61 59h4.44v1h-4.44zM351.61 60h4.44v1h-4.44zM351.61 66.98h4.44v1h-4.44zM351.61 72.96h4.44v1h-4.44zM351.61 80.94h4.44v1h-4.44zM351.61 86.92h4.44v1h-4.44zM351.61 87.92h4.44v1h-4.44zM351.61 89.91h4.44v1h-4.44zM351.61 92.9h4.44v1h-4.44zM351.61 98.88h4.44v1h-4.44zM351.61 99.88h4.44v1h-4.44zM351.61 111.84h4.44v1h-4.44zM351.61 118.82h4.44v1h-4.44zM351.61 147.74h4.44v1h-4.44zM351.61 149.73h4.44v1h-4.44zM356.06 34.08h4.44v1h-4.44zM356.06 49.03h4.44v1h-4.44zM356.06 50.03h4.44v1h-4.44zM356.06 52.02h4.44v1h-4.44zM356.06 60h4.44v1h-4.44zM356.06 62.99h4.44v1h-4.44zM356.06 69.97h4.44v1h-4.44zM356.06 89.91h4.44v1h-4.44zM356.06 92.9h4.44v1h-4.44zM356.06 100.88h4.44v1h-4.44zM356.06 124.81h4.44v1h-4.44zM356.06 135.77h4.44v1h-4.44zM356.06 143.75h4.44v1h-4.44zM356.06 148.73h4.44v1h-4.44zM360.5 48.04h4.44v1h-4.44zM360.5 60h4.44v1h-4.44zM360.5 62.99h4.44v1h-4.44zM360.5 64.99h4.44v1h-4.44zM360.5 66.98h4.44v1h-4.44zM360.5 72.96h4.44v1h-4.44zM360.5 73.96h4.44v1h-4.44zM360.5 74.96h4.44v1h-4.44zM360.5 92.9h4.44v1h-4.44zM360.5 111.84h4.44v1h-4.44zM360.5 112.84h4.44v1h-4.44zM360.5 113.84h4.44v1h-4.44zM360.5 121.81h4.44v1h-4.44zM360.5 123.81h4.44v1h-4.44zM360.5 129.79h4.44v1h-4.44zM360.5 141.75h4.44v1h-4.44zM360.5 148.73h4.44v1h-4.44zM360.5 151.72h4.44v1h-4.44zM369.39 40.06h4.44v1h-4.44zM369.39 45.05h4.44v1h-4.44zM369.39 46.04h4.44v1h-4.44zM369.39 70.97h4.44v1h-4.44zM369.39 76.95h4.44v1h-4.44zM369.39 81.93h4.44v1h-4.44zM369.39 85.92h4.44v1h-4.44zM369.39 92.9h4.44v1h-4.44zM369.39 93.9h4.44v1h-4.44zM369.39 94.9h4.44v1h-4.44zM369.39 105.86h4.44v1h-4.44zM369.39 109.85h4.44v1h-4.44zM369.39 116.83h4.44v1h-4.44zM369.39 120.82h4.44v1h-4.44zM369.39 127.8h4.44v1h-4.44zM369.39 129.79h4.44v1h-4.44zM369.39 136.77h4.44v1h-4.44zM369.39 139.76h4.44v1h-4.44zM369.39 150.73h4.44v1h-4.44zM369.39 155.71h4.44v1h-4.44zM369.39 158.7h4.44v1h-4.44zM373.83 30.09h4.44v1h-4.44zM373.83 32.08h4.44v1h-4.44zM373.83 39.06h4.44v1h-4.44zM373.83 45.05h4.44v1h-4.44zM373.83 52.02h4.44v1h-4.44zM373.83 59h4.44v1h-4.44zM373.83 70.97h4.44v1h-4.44zM373.83 80.94h4.44v1h-4.44zM373.83 82.93h4.44v1h-4.44zM373.83 85.92h4.44v1h-4.44zM373.83 99.88h4.44v1h-4.44zM373.83 100.88h4.44v1h-4.44zM373.83 116.83h4.44v1h-4.44zM373.83 119.82h4.44v1h-4.44zM373.83 123.81h4.44v1h-4.44zM373.83 138.76h4.44v1h-4.44zM373.83 139.76h4.44v1h-4.44zM378.28 92.9h4.44v1h-4.44zM378.28 104.87h4.44v1h-4.44zM378.28 107.86h4.44v1h-4.44zM378.28 108.85h4.44v1h-4.44zM378.28 110.85h4.44v1h-4.44zM378.28 120.82h4.44v1h-4.44zM378.28 131.78h4.44v1h-4.44zM378.28 137.77h4.44v1h-4.44zM391.61 30.09h4.44v1h-4.44zM391.61 35.08h4.44v1h-4.44zM391.61 57.01h4.44v1h-4.44zM391.61 63.99h4.44v1h-4.44zM391.61 73.96h4.44v1h-4.44zM391.61 89.91h4.44v1h-4.44zM391.61 114.84h4.44v1h-4.44zM391.61 117.83h4.44v1h-4.44zM391.61 128.79h4.44v1h-4.44zM396.05 37.07h4.44v1h-4.44zM396.05 39.06h4.44v1h-4.44zM396.05 66.98h4.44v1h-4.44zM396.05 69.97h4.44v1h-4.44zM396.05 75.95h4.44v1h-4.44zM396.05 79.94h4.44v1h-4.44zM396.05 81.93h4.44v1h-4.44zM396.05 87.92h4.44v1h-4.44zM396.05 91.9h4.44v1h-4.44zM396.05 96.89h4.44v1h-4.44zM396.05 111.84h4.44v1h-4.44zM396.05 112.84h4.44v1h-4.44zM396.05 117.83h4.44v1h-4.44zM396.05 126.8h4.44v1h-4.44zM396.05 153.72h4.44v1h-4.44zM396.05 155.71h4.44v1h-4.44zM400.5 37.07h4.44v1h-4.44zM400.5 53.02h4.44v1h-4.44zM400.5 66.98h4.44v1h-4.44zM400.5 128.79h4.44v1h-4.44zM400.5 137.77h4.44v1h-4.44zM404.94 54.02h4.44v1h-4.44zM404.94 59h4.44v1h-4.44zM404.94 63.99h4.44v1h-4.44zM404.94 91.9h4.44v1h-4.44zM404.94 114.84h4.44v1h-4.44zM404.94 128.79h4.44v1h-4.44zM404.94 138.76h4.44v1h-4.44zM409.38 27.1h4.44v1h-4.44zM409.38 32.08h4.44v1h-4.44zM409.38 55.02h4.44v1h-4.44zM409.38 58.01h4.44v1h-4.44zM409.38 69.97h4.44v1h-4.44zM409.38 78.94h4.44v1h-4.44zM409.38 98.88h4.44v1h-4.44zM409.38 102.87h4.44v1h-4.44zM409.38 110.85h4.44v1h-4.44zM409.38 113.84h4.44v1h-4.44zM409.38 119.82h4.44v1h-4.44zM409.38 122.81h4.44v1h-4.44zM409.38 123.81h4.44v1h-4.44zM409.38 130.79h4.44v1h-4.44zM409.38 133.78h4.44v1h-4.44zM409.38 141.75h4.44v1h-4.44zM409.38 143.75h4.44v1h-4.44zM409.38 144.75h4.44v1h-4.44zM409.38 147.74h4.44v1h-4.44zM409.38 153.72h4.44v1h-4.44zM413.83 29.09h4.44v1h-4.44zM413.83 38.07h4.44v1h-4.44zM413.83 39.06h4.44v1h-4.44zM413.83 42.05h4.44v1h-4.44zM413.83 47.04h4.44v1h-4.44zM413.83 69.97h4.44v1h-4.44zM413.83 75.95h4.44v1h-4.44zM413.83 76.95h4.44v1h-4.44zM413.83 103.87h4.44v1h-4.44zM413.83 123.81h4.44v1h-4.44zM413.83 124.81h4.44v1h-4.44zM413.83 131.78h4.44v1h-4.44zM413.83 132.78h4.44v1h-4.44zM413.83 133.78h4.44v1h-4.44zM413.83 141.75h4.44v1h-4.44zM413.83 146.74h4.44v1h-4.44zM413.83 149.73h4.44v1h-4.44zM427.16 30.09h4.44v1h-4.44zM427.16 33.08h4.44v1h-4.44zM427.16 46.04h4.44v1h-4.44zM427.16 47.04h4.44v1h-4.44zM427.16 53.02h4.44v1h-4.44zM427.16 59h4.44v1h-4.44zM427.16 62.99h4.44v1h-4.44zM427.16 63.99h4.44v1h-4.44zM427.16 68.97h4.44v1h-4.44zM427.16 71.96h4.44v1h-4.44zM427.16 78.94h4.44v1h-4.44zM427.16 91.9h4.44v1h-4.44zM427.16 97.89h4.44v1h-4.44zM427.16 131.78h4.44v1h-4.44zM427.16 132.78h4.44v1h-4.44zM427.16 153.72h4.44v1h-4.44zM436.04 47.04h4.44v1h-4.44zM436.04 57.01h4.44v1h-4.44zM436.04 89.91h4.44v1h-4.44zM436.04 93.9h4.44v1h-4.44zM440.49 38.07h4.44v1h-4.44zM440.49 46.04h4.44v1h-4.44zM440.49 56.01h4.44v1h-4.44zM440.49 78.94h4.44v1h-4.44zM440.49 93.9h4.44v1h-4.44zM440.49 95.89h4.44v1h-4.44zM440.49 97.89h4.44v1h-4.44zM440.49 103.87h4.44v1h-4.44zM440.49 104.87h4.44v1h-4.44zM440.49 121.81h4.44v1h-4.44zM440.49 138.76h4.44v1h-4.44zM440.49 145.74h4.44v1h-4.44zM440.49 152.72h4.44v1h-4.44zM453.82 123.81h4.44v1h-4.44zM462.71 34.08h4.44v1h-4.44zM467.15 34.08h4.44v1h-4.44zM471.59 34.08h4.44v1h-4.44zM476.04 34.08h4.44v1h-4.44zM489.37 34.08h4.44v1h-4.44zM493.81 34.08h4.44v1h-4.44zM502.7 34.08h4.44v1h-4.44zM507.14 34.08h4.86v1h-4.86zM462.71 41.06h4.44v1h-4.44zM467.15 41.06h4.44v1h-4.44zM471.59 41.06h4.44v1h-4.44zM476.04 41.06h4.44v1h-4.44zM489.37 41.06h4.44v1h-4.44zM493.81 41.06h4.44v1h-4.44zM502.7 41.06h4.44v1h-4.44zM507.14 41.06h4.86v1h-4.86zM467.15 63.99h4.44v1h-4.44zM489.37 63.99h4.44v1h-4.44zM493.81 63.99h4.44v1h-4.44zM502.7 63.99h4.44v1h-4.44zM507.14 63.99h4.86v1h-4.86zM462.71 72.96h4.44v1h-4.44zM467.15 72.96h4.44v1h-4.44zM471.59 72.96h4.44v1h-4.44zM476.04 72.96h4.44v1h-4.44zM489.37 72.96h4.44v1h-4.44zM493.81 72.96h4.44v1h-4.44zM502.7 72.96h4.44v1h-4.44zM462.71 80.94h4.44v1h-4.44zM471.59 80.94h4.44v1h-4.44zM476.04 80.94h4.44v1h-4.44zM489.37 80.94h4.44v1h-4.44zM493.81 80.94h4.44v1h-4.44zM502.7 80.94h4.44v1h-4.44zM507.14 80.94h4.86v1h-4.86zM502.7 81.93h4.44v1h-4.44zM462.71 84.93h4.44v1h-4.44zM471.59 84.93h4.44v1h-4.44zM476.04 84.93h4.44v1h-4.44zM507.14 84.93h4.86v1h-4.86zM462.71 93.9h4.44v1h-4.44zM467.15 93.9h4.44v1h-4.44zM471.59 93.9h4.44v1h-4.44zM476.04 93.9h4.44v1h-4.44zM489.37 93.9h4.44v1h-4.44zM507.14 93.9h4.86v1h-4.86zM476.04 95.89h4.44v1h-4.44zM493.81 95.89h4.44v1h-4.44zM507.14 95.89h4.86v1h-4.86zM467.15 104.87h4.44v1h-4.44zM489.37 104.87h4.44v1h-4.44zM493.81 104.87h4.44v1h-4.44zM502.7 104.87h4.44v1h-4.44zM507.14 104.87h4.86v1h-4.86zM462.71 105.86h4.44v1h-4.44zM467.15 105.86h4.44v1h-4.44zM489.37 105.86h4.44v1h-4.44zM493.81 105.86h4.44v1h-4.44zM507.14 105.86h4.86v1h-4.86zM493.81 108.85h4.44v1h-4.44zM507.14 108.85h4.86v1h-4.86zM462.71 119.82h4.44v1h-4.44zM467.15 119.82h4.44v1h-4.44zM471.59 119.82h4.44v1h-4.44zM476.04 119.82h4.44v1h-4.44zM489.37 119.82h4.44v1h-4.44zM493.81 119.82h4.44v1h-4.44zM502.7 119.82h4.44v1h-4.44zM507.14 119.82h4.86v1h-4.86zM462.71 121.81h4.44v1h-4.44zM467.15 121.81h4.44v1h-4.44zM493.81 121.81h4.44v1h-4.44zM502.7 121.81h4.44v1h-4.44zM507.14 121.81h4.86v1h-4.86zM462.71 124.81h4.44v1h-4.44zM471.59 124.81h4.44v1h-4.44zM476.04 124.81h4.44v1h-4.44zM489.37 124.81h4.44v1h-4.44zM493.81 124.81h4.44v1h-4.44zM502.7 124.81h4.44v1h-4.44zM507.14 124.81h4.86v1h-4.86zM467.15 125.8h4.44v1h-4.44zM502.7 125.8h4.44v1h-4.44zM467.15 128.79h4.44v1h-4.44zM476.04 128.79h4.44v1h-4.44zM489.37 128.79h4.44v1h-4.44zM507.14 128.79h4.86v1h-4.86zM471.59 130.79h4.44v1h-4.44zM476.04 130.79h4.44v1h-4.44zM493.81 130.79h4.44v1h-4.44zM502.7 130.79h4.44v1h-4.44zM507.14 130.79h4.86v1h-4.86zM462.71 134.78h4.44v1h-4.44zM476.04 134.78h4.44v1h-4.44zM489.37 134.78h4.44v1h-4.44zM507.14 134.78h4.86v1h-4.86zM462.71 137.77h4.44v1h-4.44zM467.15 137.77h4.44v1h-4.44zM471.59 137.77h4.44v1h-4.44zM476.04 137.77h4.44v1h-4.44zM493.81 137.77h4.44v1h-4.44zM502.7 137.77h4.44v1h-4.44zM507.14 137.77h4.86v1h-4.86zM502.7 140.76h4.44v1h-4.44zM462.71 141.75h4.44v1h-4.44zM467.15 141.75h4.44v1h-4.44zM476.04 141.75h4.44v1h-4.44zM489.37 141.75h4.44v1h-4.44zM493.81 141.75h4.44v1h-4.44zM507.14 141.75h4.86v1h-4.86zM462.71 144.75h4.44v1h-4.44zM467.15 144.75h4.44v1h-4.44zM471.59 144.75h4.44v1h-4.44zM489.37 144.75h4.44v1h-4.44zM493.81 144.75h4.44v1h-4.44zM502.7 144.75h4.44v1h-4.44zM462.71 152.72h4.44v1h-4.44zM476.04 152.72h4.44v1h-4.44zM471.59 154.72h4.44v1h-4.44zM489.37 154.72h4.44v1h-4.44zM502.7 154.72h4.44v1h-4.44zM471.59 157.71h4.44v1h-4.44zM476.04 157.71h4.44v1h-4.44zM489.37 157.71h4.44v1h-4.44zM502.7 157.71h4.44v1h-4.44zM507.14 157.71h4.86v1h-4.86zM462.71 158.7h4.44v1h-4.44zM467.15 158.7h4.44v1h-4.44zM471.59 158.7h4.44v1h-4.44zM489.37 158.7h4.44v1h-4.44zM493.81 158.7h4.44v1h-4.44zM507.14 158.7h4.86v1h-4.86z"/>
<path fill="rgb(201,113,50)" fill-opacity="0.429" d="M338.28 31.09h4.44v1h-4.44zM338.28 32.08h4.44v1h-4.44zM338.28 45.05h4.44v1h-4.44zM338.28 58.01h4.44v1h-4.44zM338.28 60h4.44v1h-4.44zM338.28 62.99h4.44v1h-4.44zM338.28 66.98h4.44v1h-4.44zM338.28 67.98h4.44v1h-4.44zM338.28 69.97h4.44v1h-4.44zM338.28 70.97h4.44v1h-4.44zM338.28 72.96h4.44v1h-4.44zM338.28 86.92h4.44v1h-4.44zM338.28 91.9h4.44v1h-4.44zM338.28 92.9h4.44v1h-4.44zM338.28 94.9h4.44v1h-4.44zM338.28 102.87h4.44v1h-4.44zM338.28 105.86h4.44v1h-4.44zM338.28 108.85h4.44v1h-4.44zM338.28 110.85h4.44v1h-4.44zM338.28 113.84h4.44v1h-4.44zM338.28 117.83h4.44v1h-4.44zM338.28 123.81h4.44v1h-4.44zM338.28 125.8h4.44v1h-4.44zM338.28 126.8h4.44v1h-4.44zM338.28 127.8h4.44v1h-4.44zM338.28 135.77h4.44v1h-4.44zM338.28 142.75h4.44v1h-4.44zM338.28 145.74h4.44v1h-4.44zM347.17 29.09h4.44v1h-4.44zM347.17 49.03h4.44v1h-4.44zM347.17 50.03h4.44v1h-4.44zM347.17 52.02h4.44v1h-4.44zM347.17 57.01h4.44v1h-4.44zM347.17 58.01h4.44v1h-4.44zM347.17 59h4.44v1h-4.44zM347.17 72.96h4.44v1h-4.44zM347.17 77.95h4.44v1h-4.44zM347.17 98.88h4.44v1h-4.44zM347.17 107.86h4.44v1h-4.44zM347.17 112.84h4.44v1h-4.44zM347.17 113.84h4.44v1h-4.44zM347.17 114.84h4.44v1h-4.44zM347.17 120.82h4.44v1h-4.44zM347.17 123.81h4.44v1h-4.44zM347.17 135.77h4.44v1h-4.44zM347.17 143.75h4.44v1h-4.44zM347.17 154.72h4.44v1h-4.44zM351.61 31.09h4.44v1h-4.44zM351.61 32.08h4.44v1h-4.44zM351.61 33.08h4.44v1h-4.44zM351.61 38.07h4.44v1h-4.44zM351.61 48.04h4.44v1h-4.44zM351.61 58.01h4.44v1h-4.44zM351.61 68.97h4.44v1h-4.44zM351.61 70.97h4.44v1h-4.44zM351.61 73.96h4.44v1h-4.44zM351.61 88.91h4.44v1h-4.44zM351.61 91.9h4.44v1h-4.44zM351.61 94.9h4.44v1h-4.44zM351.61 114.84h4.44v1h-4.44zM351.61 119.82h4.44v1h-4.44zM351.61 131.78h4.44v1h-4.44zM351.61 155.71h4.44v1h-4.44zM356.06 41.06h4.44v1h-4.44zM356.06 59h4.44v1h-4.44zM356.06 63.99h4.44v1h-4.44zM356.06 64.99h4.44v1h-4.44zM356.06 78.94h4.44v1h-4.44zM356.06 80.94h4.44v1h-4.44zM356.06 82.93h4.44v1h-4.44zM356.06 83.93h4.44v1h-4.44zM356.06 86.92h4.44v1h-4.44zM356.06 98.88h4.44v1h-4.44zM356.06 109.85h4.44v1h-4.44zM356.06 120.82h4.44v1h-4.44zM356.06 146.74h4.44v1h-4.44zM360.5 29.09h4.44v1h-4.44zM360.5 33.08h4.44v1h-4.44zM360.5 40.06h4.44v1h-4.44zM360.5 44.05h4.44v1h-4.44zM360.5 58.01h4.44v1h-4.44zM360.5 79.94h4.44v1h-4.44zM360.5 83.93h4.44v1h-4.44zM360.5 86.92h4.44v1h-4.44zM360.5 98.88h4.44v1h-4.44zM360.5 114.84h4.44v1h-4.44zM360.5 130.79h4.44v1h-4.44zM360.5 149.73h4.44v1h-4.44zM360.5 155.71h4.44v1h-4.44zM369.39 27.1h4.44v1h-4.44zM369.39 31.09h4.44v1h-4.44zM369.39 43.05h4.44v1h-4.44zM369.39 47.04h4.44v1h-4.44zM369.39 53.02h4.44v1h-4.44zM369.39 54.02h4.44v1h-4.44zM369.39 59h4.44v1h-4.44zM369.39 72.96h4.44v1h-4.44zM369.39 78.94h4.44v1h-4.44zM369.39 80.94h4.44v1h-4.44zM369.39 91.9h4.44v1h-4.44zM369.39 100.88h4.44v1h-4.44zM369.39 106.86h4.44v1h-4.44zM369.39 107.86h4.44v1h-4.44zM369.39 110.85h4.44v1h-4.44zM369.39 115.83h4.44v1h-4.44zM369.39 119.82h4.44v1h-4.44zM369.39 133.78h4.44v1h-4.44zM369.39 140.76h4.44v1h-4.44zM369.39 144.75h4.44v1h-4.44zM369.39 151.72h4.44v1h-4.44zM373.83 40.06h4.44v1h-4.44zM373.83 77.95h4.44v1h-4.44zM373.83 101.87h4.44v1h-4.44zM373.83 112.84h4.44v1h-4.44zM373.83 115.83h4.44v1h-4.44zM373.83 128.79h4.44v1h-4.44zM373.83 131.78h4.44v1h-4.44zM373.83 132.78h4.44v1h-4.44zM373.83 144.75h4.44v1h-4.44zM373.83 151.72h4.44v1h-4.44zM378.28 29.09h4.44v1h-4.44zM378.28 30.09h4.44v1h-4.44zM378.28 32.08h4.44v1h-4.44zM378.28 77.95h4.44v1h-4.44zM378.28 91.9h4.44v1h-4.44zM378.28 99.88h4.44v1h-4.44zM378.28 127.8h4.44v1h-4.44zM378.28 134.78h4.44v1h-4.44zM378.28 150.73h4.44v1h-4.44zM391.61 33.08h4.44v1h-4.44zM391.61 37.07h4.44v1h-4.44zM391.61 48.04h4.44v1h-4.44zM391.61 59h4.44v1h-4.44zM391.61 66.98h4.44v1h-4.44zM391.61 81.93h4.44v1h-4.44zM391.61 86.92h4.44v1h-4.44zM391.61 91.9h4.44v1h-4.44zM391.61 107.86h4.44v1h-4.44zM391.61 110.85h4.44v1h-4.44zM391.61 111.84h4.44v1h-4.44zM391.61 113.84h4.44v1h-4.44zM391.61 138.76h4.44v1h-4.44zM391.61 155.71h4.44v1h-4.44zM396.05 31.09h4.44v1h-4.44zM396.05 32.08h4.44v1h-4.44zM396.05 35.08h4.44v1h-4.44zM396.05 38.07h4.44v1h-4.44zM396.05 46.04h4.44v1h-4.44zM396.05 49.03h4.44v1h-4.44zM396.05 59h4.44v1h-4.44zM396.05 77.95h4.44v1h-4.44zM396.05 82.93h4.44v1h-4.44zM396.05 84.93h4.44v1h-4.44zM396.05 93.9h4.44v1h-4.44zM396.05 98.88h4.44v1h-4.44zM396.05 103.87h4.44v1h-4.44zM396.05 107.86h4.44v1h-4.44zM396.05 116.83h4.44v1h-4.44zM396.05 119.82h4.44v1h-4.44zM396.05 136.77h4.44v1h-4.44zM396.05 143.75h4.44v1h-4.44zM396.05 146.74h4.44v1h-4.44zM396.05 157.71h4.44v1h-4.44zM400.5 42.05h4.44v1h-4.44zM400.5 48.04h4.44v1h-4.44zM400.5 63.99h4.44v1h-4.44zM400.5 81.93h4.44v1h-4.44zM400.5 90.91h4.44v1h-4.44zM400.5 107.86h4.44v1h-4.44zM400.5 140.76h4.44v1h-4.44zM400.5 148.73h4.44v1h-4.44zM404.94 66.98h4.44v1h-4.44zM404.94 77.95h4.44v1h-4.44zM404.94 81.93h4.44v1h-4.44zM404.94 90.91h4.44v1h-4.44zM404.94 155.71h4.44v1h-4.44zM409.38 49.03h4.44v1h-4.44zM409.38 56.01h4.44v1h-4.44zM409.38 61.99h4.44v1h-4.44zM409.38 65.98h4.44v1h-4.44zM409.38 68.97h4.44v1h-4.44zM409.38 74.96h4.44v1h-4.44zM409.38 88.91h4.44v1h-4.44zM409.38 93.9h4.44v1h-4.44zM409.38 94.9h4.44v1h-4.44zM409.38 96.89h4.44v1h-4.44zM409.38 99.88h4.44v1h-4.44zM409.38 118.82h4.44v1h-4.44zM409.38 121.81h4.44v1h-4.44zM409.38 126.8h4.44v1h-4.44zM409.38 156.71h4.44v1h-4.44zM413.83 43.05h4.44v1h-4.44zM413.83 52.02h4.44v1h-4.44zM413.83 55.02h4.44v1h-4.44zM413.83 64.99h4.44v1h-4.44zM413.83 71.96h4.44v1h-4.44zM413.83 74.96h4.44v1h-4.44zM413.83 80.94h4.44v1h-4.44zM413.83 83.93h4.44v1h-4.44zM413.83 85.92h4.44v1h-4.44zM413.83 92.9h4.44v1h-4.44zM413.83 94.9h4.44v1h-4.44zM413.83 100.88h4.44v1h-4.44zM413.83 102.87h4.44v1h-4.44zM413.83 108.85h4.44v1h-4.44zM413.83 116.83h4.44v1h-4.44zM413.83 127.8h4.44v1h-4.44zM413.83 144.75h4.44v1h-4.44zM413.83 150.73h4.44v1h-4.44zM413.83 152.72h4.44v1h-4.44zM413.83 156.71h4.44v1h-4.44zM427.16 44.05h4.44v1h-4.44zM427.16 51.03h4.44v1h-4.44zM427.16 61h4.44v1h-4.44zM427.16 64.99h4.44v1h-4.44zM427.16 65.98h4.44v1h-4.44zM427.16 69.97h4.44v1h-4.44zM427.16 82.93h4.44v1h-4.44zM427.16 96.89h4.44v1h-4.44zM427.16 108.85h4.44v1h-4.44zM427.16 109.85h4.44v1h-4.44zM427.16 118.82h4.44v1h-4.44zM427.16 122.81h4.44v1h-4.44zM427.16 125.8h4.44v1h-4.44zM427.16 137.77h4.44v1h-4.44zM427.16 139.76h4.44v1h-4.44zM427.16 140.76h4.44v1h-4.44zM427.16 150.73h4.44v1h-4.44zM427.16 152.72h4.44v1h-4.44zM427.16 155.71h4.44v1h-4.44zM427.16 157.71h4.44v1h-4.44zM436.04 104.87h4.44v1h-4.44zM440.49 27.1h4.44v1h-4.44zM440.49 33.08h4.44v1h-4.44zM440.49 50.03h4.44v1h-4.44zM440.49 52.02h4.44v1h-4.44zM440.49 60h4.44v1h-4.44zM440.49 71.96h4.44v1h-4.44zM440.49 82.93h4.44v1h-4.44zM440.49 102.87h4.44v1h-4.44zM440.49 130.79h4.44v1h-4.44zM440.49 144.75h4.44v1h-4.44zM453.82 84.93h4.44v1h-4.44zM453.82 97.89h4.44v1h-4.44zM462.71 77.95h4.44v1h-4.44zM489.37 77.95h4.44v1h-4.44zM507.14 77.95h4.86v1h-4.86zM467.15 80.94h4.44v1h-4.44zM462.71 81.93h4.44v1h-4.44zM467.15 81.93h4.44v1h-4.44zM471.59 81.93h4.44v1h-4.44zM476.04 81.93h4.44v1h-4.44zM489.37 81.93h4.44v1h-4.44zM493.81 81.93h4.44v1h-4.44zM507.14 81.93h4.86v1h-4.86zM493.81 93.9h4.44v1h-4.44zM502.7 93.9h4.44v1h-4.44zM462.71 95.89h4.44v1h-4.44zM467.15 95.89h4.44v1h-4.44zM471.59 95.89h4.44v1h-4.44zM489.37 95.89h4.44v1h-4.44zM502.7 95.89h4.44v1h-4.44zM462.71 104.87h4.44v1h-4.44zM471.59 104.87h4.44v1h-4.44zM476.04 104.87h4.44v1h-4.44zM471.59 121.81h4.44v1h-4.44zM476.04 121.81h4.44v1h-4.44zM489.37 121.81h4.44v1h-4.44zM462.71 128.79h4.44v1h-4.44zM471.59 128.79h4.44v1h-4.44zM493.81 128.79h4.44v1h-4.44zM502.7 128.79h4.44v1h-4.44zM489.37 137.77h4.44v1h-4.44zM476.04 144.75h4.44v1h-4.44zM507.14 144.75h4.86v1h-4.86z"/>
<path fill="rgb(201,113,50)" fill-opacity="0.500" d="M338.28 27.1h4.44v1h-4.44zM338.28 41.06h4.44v1h-4.44zM338.28 44.05h4.44v1h-4.44zM338.28 51.03h4.44v1h-4.44zM338.28 53.02h4.44v1h-4.44zM338.28 55.02h4.44v1h-4.44zM338.28 59h4.44v1h-4.44zM338.28 65.98h4.44v1h-4.44zM338.28 76.95h4.44v1h-4.44zM338.28 77.95h4.44v1h-4.44zM338.28 82.93h4.44v1h-4.44zM338.28 99.88h4.44v1h-4.44zM338.28 100.88h4.44v1h-4.44zM338.28 107.86h4.44v1h-4.44zM338.28 111.84h4.44v1h-4.44zM338.28 121.81h4.44v1h-4.44zM338.28 122.81h4.44v1h-4.44zM338.28 132.78h4.44v1h-4.44zM338.28 141.75h4.44v1h-4.44zM338.28 149.73h4.44v1h-4.44zM347.17 32.08h4.44v1h-4.44zM347.17 34.08h4.44v1h-4.44zM347.17 38.07h4.44v1h-4.44zM347.17 42.05h4.44v1h-4.44zM347.17 64.99h4.44v1h-4.44zM347.17 68.97h4.44v1h-4.44zM347.17 70.97h4.44v1h-4.44zM347.17 74.96h4.44v1h-4.44zM347.17 78.94h4.44v1h-4.44zM347.17 86.92h4.44v1h-4.44zM347.17 95.89h4.44v1h-4.44zM347.17 100.88h4.44v1h-4.44zM347.17 116.83h4.44v1h-4.44zM347.17 119.82h4.44v1h-4.44zM347.17 129.79h4.44v1h-4.44zM347.17 145.74h4.44v1h-4.44zM347.17 153.72h4.44v1h-4.44zM351.61 28.1h4.44v1h-4.44zM351.61 35.08h4.44v1h-4.44zM351.61 36.07h4.44v1h-4.44zM351.61 54.02h4.44v1h-4.44zM351.61 55.02h4.44v1h-4.44zM351.61 57.01h4.44v1h-4.44zM351.61 76.95h4.44v1h-4.44zM351.61 83.93h4.44v1h-4.44zM351.61 85.92h4.44v1h-4.44zM351.61 90.91h4.44v1h-4.44zM351.61 101.87h4.44v1h-4.44zM351.61 105.86h4.44v1h-4.44zM351.61 122.81h4.44v1h-4.44zM351.61 125.8h4.44v1h-4.44zM351.61 128.79h4.44v1h-4.44zM351.61 130.79h4.44v1h-4.44zM351.61 145.74h4.44v1h-4.44zM351.61 146.74h4.44v1h-4.44zM351.61 154.72h4.44v1h-4.44zM356.06 33.08h4.44v1h-4.44zM356.06 44.05h4.44v1h-4.44zM356.06 48.04h4.44v1h-4.44zM356.06 55.02h4.44v1h-4.44zM356.06 57.01h4.44v1h-4.44zM356.06 66.98h4.44v1h-4.44zM356.06 68.97h4.44v1h-4.44zM356.06 73.96h4.44v1h-4.44zM356.06 74.96h4.44v1h-4.44zM356.06 77.95h4.44v1h-4.44zM356.06 88.91h4.44v1h-4.44zM356.06 95.89h4.44v1h-4.44zM356.06 111.84h4.44v1h-4.44zM356.06 128.79h4.44v1h-4.44zM356.06 129.79h4.44v1h-4.44zM356.06 141.75h4.44v1h-4.44zM356.06 149.73h4.44v1h-4.44zM360.5 31.09h4.44v1h-4.44zM360.5 36.07h4.44v1h-4.44zM360.5 39.06h4.44v1h-4.44zM360.5 42.05h4.44v1h-4.44zM360.5 50.03h4.44v1h-4.44zM360.5 53.02h4.44v1h-4.44zM360.5 54.02h4.44v1h-4.44zM360.5 59h4.44v1h-4.44zM360.5 78.94h4.44v1h-4.44zM360.5 80.94h4.44v1h-4.44zM360.5 82.93h4.44v1h-4.44zM360.5 88.91h4.44v1h-4.44zM360.5 90.91h4.44v1h-4.44zM360.5 94.9h4.44v1h-4.44zM360.5 97.89h4.44v1h-4.44zM360.5 100.88h4.44v1h-4.44zM360.5 115.83h4.44v1h-4.44zM360.5 122.81h4.44v1h-4.44zM360.5 128.79h4.44v1h-4.44zM360.5 131.78h4.44v1h-4.44zM360.5 135.77h4.44v1h-4.44zM369.39 30.09h4.44v1h-4.44zM369.39 82.93h4.44v1h-4.44zM369.39 83.93h4.44v1h-4.44zM369.39 99.88h4.44v1h-4.44zM369.39 101.87h4.44v1h-4.44zM369.39 102.87h4.44v1h-4.44zM369.39 104.87h4.44v1h-4.44zM369.39 132.78h4.44v1h-4.44zM369.39 142.75h4.44v1h-4.44zM373.83 92.9h4.44v1h-4.44zM373.83 104.87h4.44v1h-4.44zM373.83 107.86h4.44v1h-4.44zM373.83 108.85h4.44v1h-4.44zM391.61 27.1h4.44v1h-4.44zM391.61 36.07h4.44v1h-4.44zM391.61 42.05h4.44v1h-4.44zM391.61 43.05h4.44v1h-4.44zM391.61 45.05h4.44v1h-4.44zM391.61 46.04h4.44v1h-4.44zM391.61 53.02h4.44v1h-4.44zM391.61 54.02h4.44v1h-4.44zM391.61 76.95h4.44v1h-4.44zM391.61 79.94h4.44v1h-4.44zM391.61 125.8h4.44v1h-4.44zM391.61 140.76h4.44v1h-4.44zM391.61 145.74h4.44v1h-4.44zM391.61 149.73h4.44v1h-4.44zM396.05 29.09h4.44v1h-4.44zM396.05 43.05h4.44v1h-4.44zM396.05 45.05h4.44v1h-4.44zM396.05 48.04h4.44v1h-4.44zM396.05 50.03h4.44v1h-4.44zM396.05 55.02h4.44v1h-4.44zM396.05 62.99h4.44v1h-4.44zM396.05 65.98h4.44v1h-4.44zM396.05 101.87h4.44v1h-4.44zM396.05 102.87h4.44v1h-4.44zM396.05 108.85h4.44v1h-4.44zM396.05 110.85h4.44v1h-4.44zM396.05 122.81h4.44v1h-4.44zM396.05 127.8h4.44v1h-4.44zM396.05 130.79h4.44v1h-4.44zM396.05 135.77h4.44v1h-4.44zM396.05 139.76h4.44v1h-4.44zM396.05 142.75h4.44v1h-4.44zM396.05 149.73h4.44v1h-4.44zM396.05 154.72h4.44v1h-4.44zM400.5 30.09h4.44v1h-4.44zM400.5 67.98h4.44v1h-4.44zM400.5 69.97h4.44v1h-4.44zM400.5 77.95h4.44v1h-4.44zM400.5 79.94h4.44v1h-4.44zM400.5 89.91h4.44v1h-4.44zM400.5 101.87h4.44v1h-4.44zM400.5 104.87h4.44v1h-4.44zM400.5 106.86h4.44v1h-4.44zM400.5 110.85h4.44v1h-4.44zM400.5 117.83h4.44v1h-4.44zM400.5 122.81h4.44v1h-4.44zM400.5 138.76h4.44v1h-4.44zM400.5 146.74h4.44v1h-4.44zM400.5 153.72h4.44v1h-4.44zM404.94 33.08h4.44v1h-4.44zM404.94 57.01h4.44v1h-4.44zM404.94 61.99h4.44v1h-4.44zM404.94 79.94h4.44v1h-4.44zM404.94 86.92h4.44v1h-4.44zM404.94 103.87h4.44v1h-4.44zM404.94 107.86h4.44v1h-4.44zM404.94 110.85h4.44v1h-4.44zM404.94 112.84h4.44v1h-4.44zM404.94 126.8h4.44v1h-4.44zM404.94 139.76h4.44v1h-4.44zM404.94 140.76h4.44v1h-4.44zM404.94 145.74h4.44v1h-4.44zM404.94 149.73h4.44v1h-4.44zM404.94 154.72h4.44v1h-4.44zM409.38 39.06h4.44v1h-4.44zM409.38 40.06h4.44v1h-4.44zM409.38 41.06h4.44v1h-4.44zM409.38 51.03h4.44v1h-4.44zM409.38 62.99h4.44v1h-4.44zM409.38 70.97h4.44v1h-4.44zM409.38 75.95h4.44v1h-4.44zM409.38 80.94h4.44v1h-4.44zM409.38 85.92h4.44v1h-4.44zM409.38 100.88h4.44v1h-4.44zM409.38 103.87h4.44v1h-4.44zM409.38 108.85h4.44v1h-4.44zM409.38 116.83h4.44v1h-4.44zM409.38 131.78h4.44v1h-4.44zM409.38 134.78h4.44v1h-4.44zM409.38 136.77h4.44v1h-4.44zM409.38 150.73h4.44v1h-4.44zM409.38 152.72h4.44v1h-4.44zM409.38 158.7h4.44v1h-4.44zM413.83 40.06h4.44v1h-4.44zM413.83 41.06h4.44v1h-4.44zM413.83 44.05h4.44v1h-4.44zM413.83 61h4.44v1h-4.44zM413.83 65.98h4.44v1h-4.44zM413.83 68.97h4.44v1h-4.44zM413.83 70.97h4.44v1h-4.44zM413.83 95.89h4.44v1h-4.44zM413.83 106.86h4.44v1h-4.44zM413.83 115.83h4.44v1h-4.44zM413.83 118.82h4.44v1h-4.44zM413.83 126.8h4.44v1h-4.44zM413.83 134.78h4.44v1h-4.44zM413.83 135.77h4.44v1h-4.44zM413.83 142.75h4.44v1h-4.44zM427.16 35.08h4.44v1h-4.44zM427.16 75.95h4.44v1h-4.44zM427.16 76.95h4.44v1h-4.44zM427.16 79.94h4.44v1h-4.44zM427.16 80.94h4.44v1h-4.44zM427.16 85.92h4.44v1h-4.44zM427.16 99.88h4.44v1h-4.44zM427.16 123.81h4.44v1h-4.44zM436.04 52.02h4.44v1h-4.44zM436.04 60h4.44v1h-4.44zM436.04 134.78h4.44v1h-4.44zM440.49 47.04h4.44v1h-4.44zM440.49 131.78h4.44v1h-4.44zM467.15 77.95h4.44v1h-4.44zM471.59 77.95h4.44v1h-4.44zM476.04 77.95h4.44v1h-4.44zM493.81 77.95h4.44v1h-4.44zM502.7 77.95h4.44v1h-4.44z"/>
<path fill="rgb(201,113,50)" fill-opacity="0.571" d="M338.28 29.09h4.44v1h-4.44zM338.28 52.02h4.44v1h-4.44zM338.28 61h4.44v1h-4.44zM338.28 63.99h4.44v1h-4.44zM338.28 78.94h4.44v1h-4.44zM338.28 84.93h4.44v1h-4.44zM338.28 89.91h4.44v1h-4.44zM338.28 90.91h4.44v1h-4.44zM338.28 97.89h4.44v1h-4.44zM338.28 120.82h4.44v1h-4.44zM338.28 124.81h4.44v1h-4.44zM338.28 138.76h4.44v1h-4.44zM338.28 139.76h4.44v1h-4.44zM338.28 140.76h4.44v1h-4.44zM338.28 146.74h4.44v1h-4.44zM338.28 150.73h4.44v1h-4.44zM338.28 151.72h4.44v1h-4.44zM347.17 27.1h4.44v1h-4.44zM347.17 28.1h4.44v1h-4.44zM347.17 35.08h4.44v1h-4.44zM347.17 40.06h4.44v1h-4.44zM347.17 43.05h4.44v1h-4.44zM347.17 48.04h4.44v1h-4.44zM347.17 65.98h4.44v1h-4.44zM347.17 82.93h4.44v1h-4.44zM347.17 84.93h4.44v1h-4.44zM347.17 89.91h4.44v1h-4.44zM347.17 90.91h4.44v1h-4.44zM347.17 91.9h4.44v1h-4.44zM347.17 96.89h4.44v1h-4.44zM347.17 97.89h4.44v1h-4.44zM347.17 99.88h4.44v1h-4.44zM347.17 104.87h4.44v1h-4.44zM347.17 109.85h4.44v1h-4.44zM347.17 111.84h4.44v1h-4.44zM347.17 115.83h4.44v1h-4.44zM347.17 122.81h4.44v1h-4.44zM347.17 125.8h4.44v1h-4.44zM347.17 126.8h4.44v1h-4.44zM347.17 128.79h4.44v1h-4.44zM347.17 130.79h4.44v1h-4.44zM351.61 27.1h4.44v1h-4.44zM351.61 43.05h4.44v1h-4.44zM351.61 53.02h4.44v1h-4.44zM351.61 61h4.44v1h-4.44zM351.61 65.98h4.44v1h-4.44zM351.61 93.9h4.44v1h-4.44zM351.61 95.89h4.44v1h-4.44zM351.61 100.88h4.44v1h-4.44zM351.61 109.85h4.44v1h-4.44zM351.61 116.83h4.44v1h-4.44zM351.61 138.76h4.44v1h-4.44zM351.61 139.76h4.44v1h-4.44zM351.61 144.75h4.44v1h-4.44zM351.61 152.72h4.44v1h-4.44zM351.61 158.7h4.44v1h-4.44zM356.06 28.1h4.44v1h-4.44zM356.06 29.09h4.44v1h-4.44zM356.06 32.08h4.44v1h-4.44zM356.06 35.08h4.44v1h-4.44zM356.06 42.05h4.44v1h-4.44zM356.06 53.02h4.44v1h-4.44zM356.06 65.98h4.44v1h-4.44zM356.06 72.96h4.44v1h-4.44zM356.06 81.93h4.44v1h-4.44zM356.06 85.92h4.44v1h-4.44zM356.06 90.91h4.44v1h-4.44zM356.06 91.9h4.44v1h-4.44zM356.06 93.9h4.44v1h-4.44zM356.06 99.88h4.44v1h-4.44zM356.06 104.87h4.44v1h-4.44zM356.06 112.84h4.44v1h-4.44zM356.06 114.84h4.44v1h-4.44zM356.06 118.82h4.44v1h-4.44zM356.06 131.78h4.44v1h-4.44zM356.06 132.78h4.44v1h-4.44zM356.06 138.76h4.44v1h-4.44zM356.06 145.74h4.44v1h-4.44zM356.06 152.72h4.44v1h-4.44zM356.06 154.72h4.44v1h-4.44zM360.5 45.05h4.44v1h-4.44zM360.5 65.98h4.44v1h-4.44zM360.5 68.97h4.44v1h-4.44zM360.5 89.91h4.44v1h-4.44zM360.5 101.87h4.44v1h-4.44zM360.5 105.86h4.44v1h-4.44zM360.5 109.85h4.44v1h-4.44zM360.5 126.8h4.44v1h-4.44zM360.5 132.78h4.44v1h-4.44zM360.5 133.78h4.44v1h-4.44zM360.5 138.76h4.44v1h-4.44zM360.5 143.75h4.44v1h-4.44zM360.5 145.74h4.44v1h-4.44zM360.5 152.72h4.44v1h-4.44zM360.5 154.72h4.44v1h-4.44zM369.39 77.95h4.44v1h-4.44zM369.39 108.85h4.44v1h-4.44zM369.39 128.79h4.44v1h-4.44zM369.39 131.78h4.44v1h-4.44zM369.39 138.76h4.44v1h-4.44zM391.61 31.09h4.44v1h-4.44zM391.61 39.06h4.44v1h-4.44zM391.61 49.03h4.44v1h-4.44zM391.61 50.03h4.44v1h-4.44zM391.61 56.01h4.44v1h-4.44zM391.61 64.99h4.44v1h-4.44zM391.61 82.93h4.44v1h-4.44zM391.61 84.93h4.44v1h-4.44zM391.61 106.86h4.44v1h-4.44zM391.61 108.85h4.44v1h-4.44zM391.61 112.84h4.44v1h-4.44zM391.61 118.82h4.44v1h-4.44zM391.61 126.8h4.44v1h-4.44zM391.61 127.8h4.44v1h-4.44zM391.61 136.77h4.44v1h-4.44zM391.61 137.77h4.44v1h-4.44zM391.61 142.75h4.44v1h-4.44zM391.61 147.74h4.44v1h-4.44zM391.61 153.72h4.44v1h-4.44zM396.05 27.1h4.44v1h-4.44zM396.05 42.05h4.44v1h-4.44zM396.05 51.03h4.44v1h-4.44zM396.05 56.01h4.44v1h-4.44zM396.05 61.99h4.44v1h-4.44zM396.05 64.99h4.44v1h-4.44zM396.05 71.96h4.44v1h-4.44zM396.05 74.96h4.44v1h-4.44zM396.05 85.92h4.44v1h-4.44zM396.05 92.9h4.44v1h-4.44zM396.05 100.88h4.44v1h-4.44zM396.05 106.86h4.44v1h-4.44zM396.05 121.81h4.44v1h-4.44zM396.05 124.81h4.44v1h-4.44zM396.05 133.78h4.44v1h-4.44zM396.05 134.78h4.44v1h-4.44zM396.05 150.73h4.44v1h-4.44zM396.05 151.72h4.44v1h-4.44zM400.5 32.08h4.44v1h-4.44zM400.5 35.08h4.44v1h-4.44zM400.5 45.05h4.44v1h-4.44zM400.5 46.04h4.44v1h-4.44zM400.5 47.04h4.44v1h-4.44zM400.5 64.99h4.44v1h-4.44zM400.5 73.96h4.44v1h-4.44zM400.5 74.96h4.44v1h-4.44zM400.5 84.93h4.44v1h-4.44zM400.5 85.92h4.44v1h-4.44zM400.5 86.92h4.44v1h-4.44zM400.5 88.91h4.44v1h-4.44zM400.5 91.9h4.44v1h-4.44zM400.5 103.87h4.44v1h-4.44zM400.5 111.84h4.44v1h-4.44zM400.5 112.84h4.44v1h-4.44zM400.5 121.81h4.44v1h-4.44zM400.5 125.8h4.44v1h-4.44zM400.5 126.8h4.44v1h-4.44zM400.5 136.77h4.44v1h-4.44zM400.5 143.75h4.44v1h-4.44zM400.5 149.73h4.44v1h-4.44zM400.5 155.71h4.44v1h-4.44zM404.94 30.09h4.44v1h-4.44zM404.94 32.08h4.44v1h-4.44zM404.94 35.08h4.44v1h-4.44zM404.94 45.05h4.44v1h-4.44zM404.94 48.04h4.44v1h-4.44zM404.94 50.03h4.44v1h-4.44zM404.94 53.02h4.44v1h-4.44zM404.94 73.96h4.44v1h-4.44zM404.94 75.95h4.44v1h-4.44zM404.94 82.93h4.44v1h-4.44zM404.94 88.91h4.44v1h-4.44zM404.94 97.89h4.44v1h-4.44zM404.94 101.87h4.44v1h-4.44zM404.94 104.87h4.44v1h-4.44zM404.94 108.85h4.44v1h-4.44zM404.94 111.84h4.44v1h-4.44zM404.94 117.83h4.44v1h-4.44zM404.94 119.82h4.44v1h-4.44zM404.94 122.81h4.44v1h-4.44zM404.94 133.78h4.44v1h-4.44zM404.94 136.77h4.44v1h-4.44zM404.94 137.77h4.44v1h-4.44zM404.94 153.72h4.44v1h-4.44zM409.38 28.1h4.44v1h-4.44zM409.38 29.09h4.44v1h-4.44zM409.38 42.05h4.44v1h-4.44zM409.38 43.05h4.44v1h-4.44zM409.38 44.05h4.44v1h-4.44zM409.38 47.04h4.44v1h-4.44zM409.38 52.02h4.44v1h-4.44zM409.38 60h4.44v1h-4.44zM409.38 61h4.44v1h-4.44zM409.38 83.93h4.44v1h-4.44zM409.38 87.92h4.44v1h-4.44zM409.38 92.9h4.44v1h-4.44zM409.38 120.82h4.44v1h-4.44zM409.38 124.81h4.44v1h-4.44zM409.38 132.78h4.44v1h-4.44zM409.38 142.75h4.44v1h-4.44zM409.38 154.72h4.44v1h-4.44zM413.83 28.1h4.44v1h-4.44zM413.83 34.08h4.44v1h-4.44zM413.83 49.03h4.44v1h-4.44zM413.83 51.03h4.44v1h-4.44zM413.83 58.01h4.44v1h-4.44zM413.83 60h4.44v1h-4.44zM413.83 62.99h4.44v1h-4.44zM413.83 120.82h4.44v1h-4.44zM413.83 151.72h4.44v1h-4.44zM427.16 32.08h4.44v1h-4.44zM427.16 34.08h4.44v1h-4.44zM427.16 36.07h4.44v1h-4.44zM427.16 72.96h4.44v1h-4.44zM427.16 81.93h4.44v1h-4.44zM427.16 87.92h4.44v1h-4.44zM427.16 104.87h4.44v1h-4.44zM427.16 105.86h4.44v1h-4.44zM427.16 114.84h4.44v1h-4.44zM427.16 126.8h4.44v1h-4.44zM440.49 57.01h4.44v1h-4.44zM440.49 74.96h4.44v1h-4.44zM440.49 134.78h4.44v1h-4.44z"/>
<path fill="rgb(201,113,50)" fill-opacity="0.643" d="M338.28 39.06h4.44v1h-4.44zM338.28 40.06h4.44v1h-4.44zM338.28 88.91h4.44v1h-4.44zM338.28 104.87h4.44v1h-4.44zM338.28 153.72h4.44v1h-4.44zM338.28 154.72h4.44v1h-4.44zM347.17 31.09h4.44v1h-4.44zM347.17 36.07h4.44v1h-4.44zM347.17 45.05h4.44v1h-4.44zM347.17 53.02h4.44v1h-4.44zM347.17 73.96h4.44v1h-4.44zM347.17 85.92h4.44v1h-4.44zM347.17 88.91h4.44v1h-4.44zM347.17 93.9h4.44v1h-4.44zM347.17 105.86h4.44v1h-4.44zM347.17 118.82h4.44v1h-4.44zM347.17 131.78h4.44v1h-4.44zM347.17 144.75h4.44v1h-4.44zM347.17 155.71h4.44v1h-4.44zM351.61 84.93h4.44v1h-4.44zM351.61 96.89h4.44v1h-4.44zM351.61 97.89h4.44v1h-4.44zM351.61 104.87h4.44v1h-4.44zM351.61 108.85h4.44v1h-4.44zM351.61 110.85h4.44v1h-4.44zM351.61 115.83h4.44v1h-4.44zM351.61 121.81h4.44v1h-4.44zM351.61 126.8h4.44v1h-4.44zM351.61 132.78h4.44v1h-4.44zM351.61 133.78h4.44v1h-4.44zM351.61 136.77h4.44v1h-4.44zM351.61 142.75h4.44v1h-4.44zM356.06 31.09h4.44v1h-4.44zM356.06 36.07h4.44v1h-4.44zM356.06 38.07h4.44v1h-4.44zM356.06 45.05h4.44v1h-4.44zM356.06 70.97h4.44v1h-4.44zM356.06 94.9h4.44v1h-4.44zM356.06 105.86h4.44v1h-4.44zM356.06 115.83h4.44v1h-4.44zM356.06 122.81h4.44v1h-4.44zM356.06 126.8h4.44v1h-4.44zM356.06 144.75h4.44v1h-4.44zM356.06 153.72h4.44v1h-4.44zM356.06 155.71h4.44v1h-4.44zM360.5 27.1h4.44v1h-4.44zM360.5 32.08h4.44v1h-4.44zM360.5 61h4.44v1h-4.44zM360.5 85.92h4.44v1h-4.44zM360.5 93.9h4.44v1h-4.44zM360.5 99.88h4.44v1h-4.44zM360.5 104.87h4.44v1h-4.44zM360.5 110.85h4.44v1h-4.44zM360.5 116.83h4.44v1h-4.44zM360.5 118.82h4.44v1h-4.44zM360.5 119.82h4.44v1h-4.44zM360.5 120.82h4.44v1h-4.44zM360.5 125.8h4.44v1h-4.44zM360.5 136.77h4.44v1h-4.44zM360.5 139.76h4.44v1h-4.44zM360.5 140.76h4.44v1h-4.44zM360.5 142.75h4.44v1h-4.44zM360.5 153.72h4.44v1h-4.44zM369.39 29.09h4.44v1h-4.44zM369.39 32.08h4.44v1h-4.44zM373.83 29.09h4.44v1h-4.44zM391.61 38.07h4.44v1h-4.44zM391.61 47.04h4.44v1h-4.44zM391.61 51.03h4.44v1h-4.44zM391.61 52.02h4.44v1h-4.44zM391.61 55.02h4.44v1h-4.44zM391.61 61.99h4.44v1h-4.44zM391.61 74.96h4.44v1h-4.44zM391.61 78.94h4.44v1h-4.44zM391.61 97.89h4.44v1h-4.44zM391.61 98.88h4.44v1h-4.44zM391.61 103.87h4.44v1h-4.44zM391.61 116.83h4.44v1h-4.44zM391.61 122.81h4.44v1h-4.44zM391.61 131.78h4.44v1h-4.44zM391.61 133.78h4.44v1h-4.44zM391.61 135.77h4.44v1h-4.44zM391.61 139.76h4.44v1h-4.44zM391.61 151.72h4.44v1h-4.44zM391.61 156.71h4.44v1h-4.44zM396.05 28.1h4.44v1h-4.44zM396.05 52.02h4.44v1h-4.44zM396.05 58.01h4.44v1h-4.44zM396.05 60h4.44v1h-4.44zM396.05 61h4.44v1h-4.44zM396.05 76.95h4.44v1h-4.44zM396.05 80.94h4.44v1h-4.44zM396.05 94.9h4.44v1h-4.44zM396.05 99.88h4.44v1h-4.44zM396.05 105.86h4.44v1h-4.44zM396.05 115.83h4.44v1h-4.44zM396.05 131.78h4.44v1h-4.44zM396.05 132.78h4.44v1h-4.44zM396.05 137.77h4.44v1h-4.44zM396.05 141.75h4.44v1h-4.44zM396.05 147.74h4.44v1h-4.44zM400.5 27.1h4.44v1h-4.44zM400.5 29.09h4.44v1h-4.44zM400.5 31.09h4.44v1h-4.44zM400.5 33.08h4.44v1h-4.44zM400.5 36.07h4.44v1h-4.44zM400.5 41.06h4.44v1h-4.44zM400.5 50.03h4.44v1h-4.44zM400.5 55.02h4.44v1h-4.44zM400.5 62.99h4.44v1h-4.44zM400.5 78.94h4.44v1h-4.44zM400.5 87.92h4.44v1h-4.44zM400.5 97.89h4.44v1h-4.44zM400.5 99.88h4.44v1h-4.44zM400.5 108.85h4.44v1h-4.44zM400.5 113.84h4.44v1h-4.44zM400.5 131.78h4.44v1h-4.44zM400.5 145.74h4.44v1h-4.44zM400.5 154.72h4.44v1h-4.44zM404.94 31.09h4.44v1h-4.44zM404.94 36.07h4.44v1h-4.44zM404.94 39.06h4.44v1h-4.44zM404.94 42.05h4.44v1h-4.44zM404.94 46.04h4.44v1h-4.44zM404.94 55.02h4.44v1h-4.44zM404.94 65.98h4.44v1h-4.44zM404.94 76.95h4.44v1h-4.44zM404.94 83.93h4.44v1h-4.44zM404.94 102.87h4.44v1h-4.44zM404.94 113.84h4.44v1h-4.44zM404.94 116.83h4.44v1h-4.44zM404.94 121.81h4.44v1h-4.44zM404.94 147.74h4.44v1h-4.44zM404.94 157.71h4.44v1h-4.44zM409.38 101.87h4.44v1h-4.44zM409.38 105.86h4.44v1h-4.44zM409.38 115.83h4.44v1h-4.44zM409.38 135.77h4.44v1h-4.44zM409.38 151.72h4.44v1h-4.44zM413.83 109.85h4.44v1h-4.44zM427.16 41.06h4.44v1h-4.44zM427.16 42.05h4.44v1h-4.44zM427.16 88.91h4.44v1h-4.44zM427.16 102.87h4.44v1h-4.44zM427.16 127.8h4.44v1h-4.44zM427.16 136.77h4.44v1h-4.44z"/>
<path fill="rgb(201,113,50)" fill-opacity="0.714" d="M338.28 50.03h4.44v1h-4.44zM338.28 96.89h4.44v1h-4.44zM338.28 130.79h4.44v1h-4.44zM347.17 39.06h4.44v1h-4.44zM347.17 47.04h4.44v1h-4.44zM347.17 54.02h4.44v1h-4.44zM347.17 55.02h4.44v1h-4.44zM347.17 81.93h4.44v1h-4.44zM347.17 94.9h4.44v1h-4.44zM347.17 101.87h4.44v1h-4.44zM347.17 117.83h4.44v1h-4.44zM347.17 121.81h4.44v1h-4.44zM347.17 139.76h4.44v1h-4.44zM347.17 140.76h4.44v1h-4.44zM347.17 157.71h4.44v1h-4.44zM347.17 158.7h4.44v1h-4.44zM351.61 39.06h4.44v1h-4.44zM351.61 47.04h4.44v1h-4.44zM351.61 120.82h4.44v1h-4.44zM351.61 137.77h4.44v1h-4.44zM351.61 140.76h4.44v1h-4.44zM356.06 27.1h4.44v1h-4.44zM356.06 46.04h4.44v1h-4.44zM356.06 54.02h4.44v1h-4.44zM356.06 58.01h4.44v1h-4.44zM356.06 76.95h4.44v1h-4.44zM356.06 84.93h4.44v1h-4.44zM356.06 96.89h4.44v1h-4.44zM356.06 97.89h4.44v1h-4.44zM356.06 110.85h4.44v1h-4.44zM356.06 116.83h4.44v1h-4.44zM356.06 117.83h4.44v1h-4.44zM356.06 121.81h4.44v1h-4.44zM356.06 139.76h4.44v1h-4.44zM356.06 142.75h4.44v1h-4.44zM360.5 28.1h4.44v1h-4.44zM360.5 30.09h4.44v1h-4.44zM360.5 35.08h4.44v1h-4.44zM360.5 43.05h4.44v1h-4.44zM360.5 71.96h4.44v1h-4.44zM360.5 96.89h4.44v1h-4.44zM360.5 106.86h4.44v1h-4.44zM360.5 108.85h4.44v1h-4.44zM360.5 144.75h4.44v1h-4.44zM360.5 157.71h4.44v1h-4.44zM360.5 158.7h4.44v1h-4.44zM391.61 29.09h4.44v1h-4.44zM391.61 32.08h4.44v1h-4.44zM391.61 40.06h4.44v1h-4.44zM391.61 65.98h4.44v1h-4.44zM391.61 68.97h4.44v1h-4.44zM391.61 71.96h4.44v1h-4.44zM391.61 75.95h4.44v1h-4.44zM391.61 83.93h4.44v1h-4.44zM391.61 85.92h4.44v1h-4.44zM391.61 87.92h4.44v1h-4.44zM391.61 88.91h4.44v1h-4.44zM391.61 93.9h4.44v1h-4.44zM391.61 94.9h4.44v1h-4.44zM391.61 99.88h4.44v1h-4.44zM391.61 101.87h4.44v1h-4.44zM391.61 102.87h4.44v1h-4.44zM391.61 115.83h4.44v1h-4.44zM391.61 123.81h4.44v1h-4.44zM391.61 124.81h4.44v1h-4.44zM391.61 130.79h4.44v1h-4.44zM391.61 134.78h4.44v1h-4.44zM391.61 141.75h4.44v1h-4.44zM391.61 154.72h4.44v1h-4.44zM396.05 40.06h4.44v1h-4.44zM396.05 41.06h4.44v1h-4.44zM396.05 47.04h4.44v1h-4.44zM396.05 70.97h4.44v1h-4.44zM396.05 95.89h4.44v1h-4.44zM396.05 118.82h4.44v1h-4.44zM396.05 144.75h4.44v1h-4.44zM396.05 156.71h4.44v1h-4.44zM400.5 39.06h4.44v1h-4.44zM400.5 49.03h4.44v1h-4.44zM400.5 51.03h4.44v1h-4.44zM400.5 56.01h4.44v1h-4.44zM400.5 58.01h4.44v1h-4.44zM400.5 76.95h4.44v1h-4.44zM400.5 82.93h4.44v1h-4.44zM400.5 94.9h4.44v1h-4.44zM400.5 98.88h4.44v1h-4.44zM400.5 102.87h4.44v1h-4.44zM400.5 119.82h4.44v1h-4.44zM400.5 120.82h4.44v1h-4.44zM400.5 124.81h4.44v1h-4.44zM400.5 130.79h4.44v1h-4.44zM400.5 133.78h4.44v1h-4.44zM400.5 141.75h4.44v1h-4.44zM400.5 157.71h4.44v1h-4.44zM404.94 29.09h4.44v1h-4.44zM404.94 34.08h4.44v1h-4.44zM404.94 56.01h4.44v1h-4.44zM404.94 62.99h4.44v1h-4.44zM404.94 64.99h4.44v1h-4.44zM404.94 69.97h4.44v1h-4.44zM404.94 71.96h4.44v1h-4.44zM404.94 78.94h4.44v1h-4.44zM404.94 84.93h4.44v1h-4.44zM404.94 87.92h4.44v1h-4.44zM404.94 93.9h4.44v1h-4.44zM404.94 94.9h4.44v1h-4.44zM404.94 96.89h4.44v1h-4.44zM404.94 98.88h4.44v1h-4.44zM404.94 99.88h4.44v1h-4.44zM404.94 106.86h4.44v1h-4.44zM404.94 123.81h4.44v1h-4.44zM404.94 124.81h4.44v1h-4.44zM404.94 125.8h4.44v1h-4.44zM404.94 127.8h4.44v1h-4.44zM404.94 130.79h4.44v1h-4.44zM404.94 131.78h4.44v1h-4.44zM404.94 142.75h4.44v1h-4.44zM404.94 143.75h4.44v1h-4.44zM404.94 146.74h4.44v1h-4.44zM404.94 156.71h4.44v1h-4.44zM409.38 34.08h4.44v1h-4.44zM413.83 105.86h4.44v1h-4.44zM427.16 144.75h4.44v1h-4.44z"/>
<path fill="rgb(201,113,50)" fill-opacity="0.786" d="M338.28 81.93h4.44v1h-4.44zM338.28 152.72h4.44v1h-4.44zM347.17 51.03h4.44v1h-4.44zM347.17 71.96h4.44v1h-4.44zM347.17 75.95h4.44v1h-4.44zM347.17 108.85h4.44v1h-4.44zM347.17 132.78h4.44v1h-4.44zM347.17 137.77h4.44v1h-4.44zM347.17 142.75h4.44v1h-4.44zM351.61 46.04h4.44v1h-4.44zM351.61 51.03h4.44v1h-4.44zM351.61 61.99h4.44v1h-4.44zM351.61 75.95h4.44v1h-4.44zM351.61 117.83h4.44v1h-4.44zM351.61 157.71h4.44v1h-4.44zM356.06 39.06h4.44v1h-4.44zM356.06 43.05h4.44v1h-4.44zM356.06 47.04h4.44v1h-4.44zM356.06 51.03h4.44v1h-4.44zM356.06 67.98h4.44v1h-4.44zM356.06 103.87h4.44v1h-4.44zM356.06 106.86h4.44v1h-4.44zM356.06 130.79h4.44v1h-4.44zM356.06 137.77h4.44v1h-4.44zM356.06 150.73h4.44v1h-4.44zM360.5 37.07h4.44v1h-4.44zM360.5 75.95h4.44v1h-4.44zM360.5 81.93h4.44v1h-4.44zM360.5 95.89h4.44v1h-4.44zM360.5 102.87h4.44v1h-4.44zM360.5 103.87h4.44v1h-4.44zM391.61 58.01h4.44v1h-4.44zM391.61 60h4.44v1h-4.44zM391.61 62.99h4.44v1h-4.44zM391.61 80.94h4.44v1h-4.44zM391.61 92.9h4.44v1h-4.44zM391.61 95.89h4.44v1h-4.44zM391.61 100.88h4.44v1h-4.44zM391.61 105.86h4.44v1h-4.44zM391.61 120.82h4.44v1h-4.44zM391.61 121.81h4.44v1h-4.44zM391.61 132.78h4.44v1h-4.44zM391.61 143.75h4.44v1h-4.44zM391.61 157.71h4.44v1h-4.44zM391.61 158.7h4.44v1h-4.44zM396.05 34.08h4.44v1h-4.44zM396.05 109.85h4.44v1h-4.44zM396.05 120.82h4.44v1h-4.44zM396.05 152.72h4.44v1h-4.44zM396.05 158.7h4.44v1h-4.44zM400.5 38.07h4.44v1h-4.44zM400.5 43.05h4.44v1h-4.44zM400.5 61.99h4.44v1h-4.44zM400.5 75.95h4.44v1h-4.44zM400.5 83.93h4.44v1h-4.44zM400.5 96.89h4.44v1h-4.44zM400.5 123.81h4.44v1h-4.44zM400.5 127.8h4.44v1h-4.44zM400.5 139.76h4.44v1h-4.44zM400.5 151.72h4.44v1h-4.44zM400.5 156.71h4.44v1h-4.44zM404.94 28.1h4.44v1h-4.44zM404.94 38.07h4.44v1h-4.44zM404.94 40.06h4.44v1h-4.44zM404.94 41.06h4.44v1h-4.44zM404.94 43.05h4.44v1h-4.44zM404.94 47.04h4.44v1h-4.44zM404.94 51.03h4.44v1h-4.44zM404.94 74.96h4.44v1h-4.44zM404.94 80.94h4.44v1h-4.44zM404.94 85.92h4.44v1h-4.44zM404.94 118.82h4.44v1h-4.44zM404.94 141.75h4.44v1h-4.44zM404.94 151.72h4.44v1h-4.44zM409.38 109.85h4.44v1h-4.44zM427.16 48.04h4.44v1h-4.44z"/>
<path fill="rgb(201,113,50)" fill-opacity="0.857" d="M338.28 114.84h4.44v1h-4.44zM338.28 119.82h4.44v1h-4.44zM347.17 30.09h4.44v1h-4.44zM347.17 61h4.44v1h-4.44zM347.17 67.98h4.44v1h-4.44zM347.17 103.87h4.44v1h-4.44zM347.17 138.76h4.44v1h-4.44zM347.17 150.73h4.44v1h-4.44zM351.61 37.07h4.44v1h-4.44zM351.61 81.93h4.44v1h-4.44zM356.06 30.09h4.44v1h-4.44zM356.06 61h4.44v1h-4.44zM356.06 71.96h4.44v1h-4.44zM356.06 75.95h4.44v1h-4.44zM356.06 108.85h4.44v1h-4.44zM356.06 136.77h4.44v1h-4.44zM356.06 140.76h4.44v1h-4.44zM356.06 157.71h4.44v1h-4.44zM356.06 158.7h4.44v1h-4.44zM360.5 46.04h4.44v1h-4.44zM360.5 67.98h4.44v1h-4.44zM360.5 76.95h4.44v1h-4.44zM360.5 84.93h4.44v1h-4.44zM360.5 117.83h4.44v1h-4.44zM360.5 137.77h4.44v1h-4.44zM391.61 61h4.44v1h-4.44zM391.61 69.97h4.44v1h-4.44zM391.61 70.97h4.44v1h-4.44zM391.61 109.85h4.44v1h-4.44zM391.61 144.75h4.44v1h-4.44zM391.61 150.73h4.44v1h-4.44zM396.05 44.05h4.44v1h-4.44zM400.5 40.06h4.44v1h-4.44zM400.5 60h4.44v1h-4.44zM400.5 65.98h4.44v1h-4.44zM400.5 71.96h4.44v1h-4.44zM400.5 80.94h4.44v1h-4.44zM400.5 92.9h4.44v1h-4.44zM400.5 93.9h4.44v1h-4.44zM400.5 100.88h4.44v1h-4.44zM400.5 115.83h4.44v1h-4.44zM400.5 132.78h4.44v1h-4.44zM400.5 142.75h4.44v1h-4.44zM400.5 150.73h4.44v1h-4.44zM400.5 152.72h4.44v1h-4.44zM400.5 158.7h4.44v1h-4.44zM404.94 49.03h4.44v1h-4.44zM404.94 58.01h4.44v1h-4.44zM404.94 70.97h4.44v1h-4.44zM404.94 100.88h4.44v1h-4.44zM404.94 105.86h4.44v1h-4.44zM404.94 115.83h4.44v1h-4.44zM404.94 120.82h4.44v1h-4.44zM404.94 150.73h4.44v1h-4.44zM404.94 152.72h4.44v1h-4.44z"/>
<path fill="rgb(201,113,50)" fill-opacity="0.929" d="M347.17 37.07h4.44v1h-4.44zM347.17 61.99h4.44v1h-4.44zM347.17 102.87h4.44v1h-4.44zM347.17 136.77h4.44v1h-4.44zM356.06 37.07h4.44v1h-4.44zM356.06 102.87h4.44v1h-4.44zM356.06 133.78h4.44v1h-4.44zM360.5 51.03h4.44v1h-4.44zM391.61 28.1h4.44v1h-4.44zM391.61 34.08h4.44v1h-4.44zM391.61 41.06h4.44v1h-4.44zM391.61 44.05h4.44v1h-4.44zM396.05 68.97h4.44v1h-4.44zM400.5 28.1h4.44v1h-4.44zM400.5 44.05h4.44v1h-4.44zM400.5 52.02h4.44v1h-4.44zM400.5 61h4.44v1h-4.44zM400.5 70.97h4.44v1h-4.44zM400.5 109.85h4.44v1h-4.44zM400.5 118.82h4.44v1h-4.44zM400.5 134.78h4.44v1h-4.44zM400.5 135.77h4.44v1h-4.44zM400.5 144.75h4.44v1h-4.44zM404.94 27.1h4.44v1h-4.44zM404.94 44.05h4.44v1h-4.44zM404.94 52.02h4.44v1h-4.44zM404.94 92.9h4.44v1h-4.44zM404.94 95.89h4.44v1h-4.44zM404.94 132.78h4.44v1h-4.44zM404.94 158.7h4.44v1h-4.44z"/>
<path fill="rgb(201,113,50)" fill-opacity="1.000" d="M338.28 38.07h4.44v1h-4.44zM347.17 46.04h4.44v1h-4.44zM351.61 67.98h4.44v1h-4.44zM351.61 71.96h4.44v1h-4.44zM351.61 102.87h4.44v1h-4.44zM356.06 61.99h4.44v1h-4.44zM360.5 61.99h4.44v1h-4.44zM400.5 34.08h4.44v1h-4.44zM400.5 95.89h4.44v1h-4.44zM400.5 105.86h4.44v1h-4.44zM400.5 116.83h4.44v1h-4.44zM404.94 60h4.44v1h-4.44zM404.94 109.85h4.44v1h-4.44zM404.94 134.78h4.44v1h-4.44zM404.94 135.77h4.44v1h-4.44zM404.94 144.75h4.44v1h-4.44z"/></g>
<path fill="rgb(205,100,30)" fill-opacity="0.45" d="M298.1 27.8h9.08v1h-9.08z M298.1 158.8h9.08v0.9h-9.08z"/>
<path fill="rgb(205,100,30)" fill-opacity="0.27" d="M298.1 27.1h0.8v132.6h-0.8z M306.38 27.1h0.8v132.6h-0.8z"/>
<path fill="rgb(205,100,30)" fill-opacity="0.45" d="M320.51 27.8h17.77v1h-17.77z M320.51 158.8h17.77v0.9h-17.77z"/>
<path fill="rgb(205,100,30)" fill-opacity="0.27" d="M320.51 27.1h0.8v132.6h-0.8z M337.48 27.1h0.8v132.6h-0.8z"/>
<path fill="rgb(205,100,30)" fill-opacity="0.45" d="M364.95 27.8h4.44v1h-4.44z M364.95 158.8h4.44v0.9h-4.44z"/>
<path fill="rgb(205,100,30)" fill-opacity="0.27" d="M364.95 27.1h0.8v132.6h-0.8z M368.59 27.1h0.8v132.6h-0.8z"/>
<path fill="#fff" fill-opacity="0.071" d="M320.5 90.5h5.8v1h-5.8zM334.3 115.5h4v1h-4z"/>
<path fill="#fff" fill-opacity="0.143" d="M320.5 78.5h17.8v1h-17.8zM298.3 97.5h8.9v1h-8.9zM320.5 127.5h17.8v1h-17.8zM320.5 137.5h17.8v1h-17.8z"/>
<path fill="#223" fill-opacity="0.15" d="M302.23 27.1h1v132.6h-1zM324.45 27.1h1v132.6h-1zM328.9 27.1h1v132.6h-1zM333.34 27.1h1v132.6h-1z"/>
<path fill="#fff" fill-opacity="0.1" d="M337.88 27.1h0.8v132.6h-0.8zM351.21 27.1h0.8v132.6h-0.8zM355.66 27.1h0.8v132.6h-0.8zM360.1 27.1h0.8v132.6h-0.8zM364.55 27.1h0.8v132.6h-0.8zM368.99 27.1h0.8v132.6h-0.8zM373.43 27.1h0.8v132.6h-0.8zM395.65 27.1h0.8v132.6h-0.8zM400.1 27.1h0.8v132.6h-0.8zM404.54 27.1h0.8v132.6h-0.8zM408.98 27.1h0.8v132.6h-0.8zM413.43 27.1h0.8v132.6h-0.8z"/>
<path fill="#888" fill-opacity="0.42" d="M306.78 27.1h0.8v132.6h-0.8zM311.22 27.1h0.8v132.6h-0.8zM315.66 27.1h0.8v132.6h-0.8zM320.11 27.1h0.8v132.6h-0.8zM342.33 27.1h0.8v132.6h-0.8zM346.77 27.1h0.8v132.6h-0.8zM377.88 27.1h0.8v132.6h-0.8zM382.32 27.1h0.8v132.6h-0.8zM386.76 27.1h0.8v132.6h-0.8zM391.21 27.1h0.8v132.6h-0.8zM417.87 27.1h0.8v132.6h-0.8zM422.31 27.1h0.8v132.6h-0.8zM426.76 27.1h0.8v132.6h-0.8zM431.2 27.1h0.8v132.6h-0.8zM435.64 27.1h0.8v132.6h-0.8zM440.09 27.1h0.8v132.6h-0.8zM444.53 27.1h0.8v132.6h-0.8zM448.98 27.1h0.8v132.6h-0.8zM453.42 27.1h0.8v132.6h-0.8zM457.86 27.1h0.8v132.6h-0.8zM462.31 27.1h0.8v132.6h-0.8zM466.75 27.1h0.8v132.6h-0.8zM471.19 27.1h0.8v132.6h-0.8zM475.64 27.1h0.8v132.6h-0.8zM480.08 27.1h0.8v132.6h-0.8zM484.53 27.1h0.8v132.6h-0.8zM488.97 27.1h0.8v132.6h-0.8zM493.41 27.1h0.8v132.6h-0.8zM497.86 27.1h0.8v132.6h-0.8zM502.3 27.1h0.8v132.6h-0.8zM506.74 27.1h0.8v132.6h-0.8zM511.2 27.1h0.8v132.6h-0.8z"/>
<g>
<text transform="translate(302.12 163.3) rotate(-90)" class="xl">ABO</text>
<text transform="translate(306.66 163.3) rotate(-90)" class="xl">D</text>
<text transform="translate(311.1 163.3) rotate(-90)" class="xl">V</text>
<text transform="translate(315.54 163.3) rotate(-90)" class="xl">VS</text>
<text transform="translate(319.99 163.3) rotate(-90)" class="xl">hrS</text>
<text transform="translate(324.43 163.3) rotate(-90)" class="xl">C</text>
<text transform="translate(328.87 163.3) rotate(-90)" class="xl">c</text>
<text transform="translate(333.32 163.3) rotate(-90)" class="xl">E</text>
<text transform="translate(337.76 163.3) rotate(-90)" class="xl">e</text>
<text transform="translate(342.21 163.3) rotate(-90)" class="xl">Cw</text>
<text transform="translate(346.65 163.3) rotate(-90)" class="xl">Cx</text>
<text transform="translate(351.09 163.3) rotate(-90)" class="xl">M</text>
<text transform="translate(355.54 163.3) rotate(-90)" class="xl">N</text>
<text transform="translate(359.98 163.3) rotate(-90)" class="xl">S</text>
<text transform="translate(364.42 163.3) rotate(-90)" class="xl">s</text>
<text transform="translate(368.87 163.3) rotate(-90)" class="xl">K</text>
<text transform="translate(373.31 163.3) rotate(-90)" class="xl">k</text>
<text transform="translate(377.75 163.3) rotate(-90)" class="xl">Kpa</text>
<text transform="translate(382.2 163.3) rotate(-90)" class="xl">Kpb</text>
<text transform="translate(386.64 163.3) rotate(-90)" class="xl">Jsa</text>
<text transform="translate(391.09 163.3) rotate(-90)" class="xl">Jsb</text>
<text transform="translate(395.53 163.3) rotate(-90)" class="xl">Fya</text>
<text transform="translate(399.97 163.3) rotate(-90)" class="xl">Fyb</text>
<text transform="translate(404.42 163.3) rotate(-90)" class="xl">Jka</text>
<text transform="translate(408.86 163.3) rotate(-90)" class="xl">Jkb</text>
<text transform="translate(413.3 163.3) rotate(-90)" class="xl">Lua</text>
<text transform="translate(417.75 163.3) rotate(-90)" class="xl">Lub</text>
<text transform="translate(422.19 163.3) rotate(-90)" class="xl">Dia</text>
<text transform="translate(426.64 163.3) rotate(-90)" class="xl">Dib</text>
<text transform="translate(431.08 163.3) rotate(-90)" class="xl">Wra</text>
<text transform="translate(435.52 163.3) rotate(-90)" class="xl">Yta</text>
<text transform="translate(439.97 163.3) rotate(-90)" class="xl">Ytb</text>
<text transform="translate(444.41 163.3) rotate(-90)" class="xl">Coa</text>
<text transform="translate(448.85 163.3) rotate(-90)" class="xl">Cob</text>
<text transform="translate(453.3 163.3) rotate(-90)" class="xl">Doa</text>
<text transform="translate(457.74 163.3) rotate(-90)" class="xl">Vel</text>
<text transform="translate(462.19 163.3) rotate(-90)" class="xl">Lan</text>
<text transform="translate(466.63 163.3) rotate(-90)" class="xl">HPA-1a</text>
<text transform="translate(471.07 163.3) rotate(-90)" class="xl">HPA-1b</text>
<text transform="translate(475.52 163.3) rotate(-90)" class="xl">HPA-2a</text>
<text transform="translate(479.96 163.3) rotate(-90)" class="xl">HPA-2b</text>
<text transform="translate(484.4 163.3) rotate(-90)" class="xl">HPA-3a</text>
<text transform="translate(488.85 163.3) rotate(-90)" class="xl">HPA-3b</text>
<text transform="translate(493.29 163.3) rotate(-90)" class="xl">HPA-5a</text>
<text transform="translate(497.73 163.3) rotate(-90)" class="xl">HPA-5b*</text>
<text transform="translate(502.18 163.3) rotate(-90)" class="xl">HPA-6b*</text>
<text transform="translate(506.62 163.3) rotate(-90)" class="xl">HPA-15a</text>
<text transform="translate(511.27 163.3) rotate(-90)" class="xl">HPA-15b</text>
</g>
<text x="19.9" y="194" class="pl">C</text>
<text x="19.8" y="207" class="num" textLength="14.6" lengthAdjust="spacingAndGlyphs">4791</text>
<path d="M31.7 336.3L33 334.9V339" fill="none" stroke="#333" stroke-width="0.9"/>
<path d="M38 204.6H41.1V336.7H38" class="ax"/>
<rect x="43.8" y="204.2" width="213.9" height="132.6" fill="rgb(72,94,168)"/>
<g filter="url(#bl)"></g>
<path fill="rgb(40,60,160)" fill-opacity="0.6" d="M43.8 204.9h213.9v1h-213.9z M43.8 335.9h213.9v0.9h-213.9z"/>
<path fill="rgb(40,60,160)" fill-opacity="0.36" d="M43.8 204.2h0.8v132.6h-0.8z M256.9 204.2h0.8v132.6h-0.8z"/>
<path fill="#fff" fill-opacity="0.214" d="M66 217.9h9v1h-9zM93 217.9h8v1h-8zM93 219.9h8v1h-8zM93 231.1h8v1h-8zM66 245.1h9v1h-9zM93 243.1h8v1h-8zM44 255.1h4.5v1h-4.5zM93 255.9h8v1h-8zM111 255.5h8v1h-8zM93 261.5h8v1h-8zM93 267.5h8v1h-8zM93 273.5h8v1h-8zM156 243.4h8v1h-8zM147 257.2h8v1h-8zM249.7 245h8.1v1h-8.1zM209 273.9h8v1h-8zM236 266.7h8.5v2.2h-8.5zM236 289.5h8.5v1h-8.5zM93 272.5h8v1h-8zM93 282.5h8v1h-8zM66 284.1h9v1h-9zM44 293.5h4.5v1h-4.5zM66 299.1h9v1h-9zM75 310.9h9v1h-9zM93 302.5h8v1h-8zM93 312.9h8v1h-8zM93 334.9h8v1h-8z"/>
<path fill="#fff" fill-opacity="0.286" d="M93 253.5h8v1h-8z"/>
<path fill="#fff" fill-opacity="0.357" d="M111 243.2h8v2.2h-8z"/>
<path fill="#fff" fill-opacity="0.429" d="M44 219.5h4.5v1h-4.5z"/>
<path fill="#223" fill-opacity="0.15" d="M47.93 204.2h1v132.6h-1zM52.38 204.2h1v132.6h-1zM56.82 204.2h1v132.6h-1zM61.26 204.2h1v132.6h-1zM65.71 204.2h1v132.6h-1zM70.15 204.2h1v132.6h-1zM74.6 204.2h1v132.6h-1zM79.04 204.2h1v132.6h-1zM83.48 204.2h1v132.6h-1zM87.93 204.2h1v132.6h-1zM92.37 204.2h1v132.6h-1zM96.81 204.2h1v132.6h-1zM101.26 204.2h1v132.6h-1zM105.7 204.2h1v132.6h-1zM110.15 204.2h1v132.6h-1zM114.59 204.2h1v132.6h-1zM119.03 204.2h1v132.6h-1zM123.48 204.2h1v132.6h-1zM127.92 204.2h1v132.6h-1zM132.36 204.2h1v132.6h-1zM136.81 204.2h1v132.6h-1zM141.25 204.2h1v132.6h-1zM145.7 204.2h1v132.6h-1zM150.14 204.2h1v132.6h-1zM154.58 204.2h1v132.6h-1zM159.03 204.2h1v132.6h-1zM163.47 204.2h1v132.6h-1zM167.91 204.2h1v132.6h-1zM172.36 204.2h1v132.6h-1zM176.8 204.2h1v132.6h-1zM181.24 204.2h1v132.6h-1zM185.69 204.2h1v132.6h-1zM190.13 204.2h1v132.6h-1zM194.58 204.2h1v132.6h-1zM199.02 204.2h1v132.6h-1zM203.46 204.2h1v132.6h-1zM207.91 204.2h1v132.6h-1zM212.35 204.2h1v132.6h-1zM216.79 204.2h1v132.6h-1zM221.24 204.2h1v132.6h-1zM225.68 204.2h1v132.6h-1zM230.13 204.2h1v132.6h-1zM234.57 204.2h1v132.6h-1zM239.01 204.2h1v132.6h-1zM243.46 204.2h1v132.6h-1zM247.9 204.2h1v132.6h-1zM252.34 204.2h1v132.6h-1z"/>
<path fill="#888" fill-opacity="0.42" d="M256.9 204.2h0.8v132.6h-0.8z"/>
<g>
<text transform="translate(47.82 340.4) rotate(-90)" class="xl">ABO</text>
<text transform="translate(52.36 340.4) rotate(-90)" class="xl">D</text>
<text transform="translate(56.8 340.4) rotate(-90)" class="xl">V</text>
<text transform="translate(61.24 340.4) rotate(-90)" class="xl">VS</text>
<text transform="translate(65.69 340.4) rotate(-90)" class="xl">hrS</text>
<text transform="translate(70.13 340.4) rotate(-90)" class="xl">C</text>
<text transform="translate(74.57 340.4) rotate(-90)" class="xl">c</text>
<text transform="translate(79.02 340.4) rotate(-90)" class="xl">E</text>
<text transform="translate(83.46 340.4) rotate(-90)" class="xl">e</text>
<text transform="translate(87.91 340.4) rotate(-90)" class="xl">Cw</text>
<text transform="translate(92.35 340.4) rotate(-90)" class="xl">Cx</text>
<text transform="translate(96.79 340.4) rotate(-90)" class="xl">M</text>
<text transform="translate(101.24 340.4) rotate(-90)" class="xl">N</text>
<text transform="translate(105.68 340.4) rotate(-90)" class="xl">S</text>
<text transform="translate(110.12 340.4) rotate(-90)" class="xl">s</text>
<text transform="translate(114.57 340.4) rotate(-90)" class="xl">K</text>
<text transform="translate(119.01 340.4) rotate(-90)" class="xl">k</text>
<text transform="translate(123.45 340.4) rotate(-90)" class="xl">Kpa</text>
<text transform="translate(127.9 340.4) rotate(-90)" class="xl">Kpb</text>
<text transform="translate(132.34 340.4) rotate(-90)" class="xl">Jsa</text>
<text transform="translate(136.79 340.4) rotate(-90)" class="xl">Jsb</text>
<text transform="translate(141.23 340.4) rotate(-90)" class="xl">Fya</text>
<text transform="translate(145.67 340.4) rotate(-90)" class="xl">Fyb</text>
<text transform="translate(150.12 340.4) rotate(-90)" class="xl">Jka</text>
<text transform="translate(154.56 340.4) rotate(-90)" class="xl">Jkb</text>
<text transform="translate(159 340.4) rotate(-90)" class="xl">Lua</text>
<text transform="translate(163.45 340.4) rotate(-90)" class="xl">Lub</text>
<text transform="translate(167.89 340.4) rotate(-90)" class="xl">Dia</text>
<text transform="translate(172.34 340.4) rotate(-90)" class="xl">Dib</text>
<text transform="translate(176.78 340.4) rotate(-90)" class="xl">Wra</text>
<text transform="translate(181.22 340.4) rotate(-90)" class="xl">Yta</text>
<text transform="translate(185.67 340.4) rotate(-90)" class="xl">Ytb</text>
<text transform="translate(190.11 340.4) rotate(-90)" class="xl">Coa</text>
<text transform="translate(194.55 340.4) rotate(-90)" class="xl">Cob</text>
<text transform="translate(199 340.4) rotate(-90)" class="xl">Doa</text>
<text transform="translate(203.44 340.4) rotate(-90)" class="xl">Vel</text>
<text transform="translate(207.89 340.4) rotate(-90)" class="xl">Lan</text>
<text transform="translate(212.33 340.4) rotate(-90)" class="xl">HPA-1a</text>
<text transform="translate(216.77 340.4) rotate(-90)" class="xl">HPA-1b</text>
<text transform="translate(221.22 340.4) rotate(-90)" class="xl">HPA-2a</text>
<text transform="translate(225.66 340.4) rotate(-90)" class="xl">HPA-2b</text>
<text transform="translate(230.1 340.4) rotate(-90)" class="xl">HPA-3a</text>
<text transform="translate(234.55 340.4) rotate(-90)" class="xl">HPA-3b</text>
<text transform="translate(238.99 340.4) rotate(-90)" class="xl">HPA-5a</text>
<text transform="translate(243.43 340.4) rotate(-90)" class="xl">HPA-5b*</text>
<text transform="translate(247.88 340.4) rotate(-90)" class="xl">HPA-6b*</text>
<text transform="translate(252.32 340.4) rotate(-90)" class="xl">HPA-15a</text>
<text transform="translate(256.97 340.4) rotate(-90)" class="xl">HPA-15b</text>
</g>
<text x="273.6" y="194" class="pl">D</text>
<text x="273.6" y="207" class="num" textLength="14.6" lengthAdjust="spacingAndGlyphs">2682</text>
<path d="M286 336.3L287.3 334.9V339" fill="none" stroke="#333" stroke-width="0.9"/>
<path d="M292.3 204.6H295.4V336.7H292.3" class="ax"/>
<rect x="298.1" y="204.2" width="213.9" height="132.6" fill="rgb(201,113,50)"/>
<g filter="url(#bl)"></g>
<path fill="rgb(205,100,30)" fill-opacity="0.45" d="M298.1 204.9h213.9v1h-213.9z M298.1 335.9h213.9v0.9h-213.9z"/>
<path fill="rgb(205,100,30)" fill-opacity="0.27" d="M298.1 204.2h0.8v132.6h-0.8z M511.2 204.2h0.8v132.6h-0.8z"/>
<path fill="#fff" fill-opacity="0.143" d="M463.5 245.2h8.5v1h-8.5z"/>
<path fill="#fff" fill-opacity="0.214" d="M298.6 241.8h3.4v1h-3.4zM307.4 243.4h8.6v1h-8.6zM307.4 253.8h8.6v1h-8.6zM298.6 260h3.4v1h-3.4zM320.6 243.8h8v1h-8zM320.6 264.9h8v1h-8zM347.6 266h7.4v1h-7.4zM356.4 224.9h8v1h-8zM401.4 257.7h8.1v1h-8.1zM409.5 216.1h9v1h-9zM414 223.1h4.5v1h-4.5zM454 235.3h5v1h-5zM463.5 216.8h8.5v1h-8.5zM463.5 222.5h8.5v1h-8.5zM472 223.7h8.8v1h-8.8zM490 226.1h8.8v1h-8.8zM498.8 207.8h4.7v1h-4.7zM498.8 253.1h4.7v1h-4.7zM400 257.7h9v1h-9zM490 259.5h8.8v1h-8.8zM347.6 295.8h7.4v1h-7.4zM347.6 306.1h7.4v1h-7.4zM347.6 316.8h7.4v1h-7.4zM409.7 288.4h8.8v1h-8.8zM409.7 310.8h8.8v1h-8.8zM414 323h4.5v1h-4.5zM463.5 301.8h8.5v1h-8.5zM490 295.3h8.8v1h-8.8zM490 301.1h8.8v1h-8.8zM490 308h8.8v1h-8.8zM320.6 264.6h8v1h-8zM498.8 253.5h4.5v1h-4.5zM503.3 207.5h4.4v1h-4.4z"/>
<path fill="#fff" fill-opacity="0.286" d="M490 223.3h8.8v1h-8.8zM490 269.5h8.8v1h-8.8z"/>
<path fill="#fff" fill-opacity="0.357" d="M490 221.9h8.8v1h-8.8zM463.5 264.9h8.5v1h-8.5zM490 268h8.8v1h-8.8z"/>
<path fill="#223" fill-opacity="0.15" d="M302.23 204.2h1v132.6h-1zM306.68 204.2h1v132.6h-1zM311.12 204.2h1v132.6h-1zM315.56 204.2h1v132.6h-1zM320.01 204.2h1v132.6h-1zM324.45 204.2h1v132.6h-1zM328.9 204.2h1v132.6h-1zM333.34 204.2h1v132.6h-1zM337.78 204.2h1v132.6h-1zM342.23 204.2h1v132.6h-1zM346.67 204.2h1v132.6h-1zM351.11 204.2h1v132.6h-1zM355.56 204.2h1v132.6h-1zM360 204.2h1v132.6h-1zM364.45 204.2h1v132.6h-1zM368.89 204.2h1v132.6h-1zM373.33 204.2h1v132.6h-1zM377.78 204.2h1v132.6h-1zM382.22 204.2h1v132.6h-1zM386.66 204.2h1v132.6h-1zM391.11 204.2h1v132.6h-1zM395.55 204.2h1v132.6h-1zM400 204.2h1v132.6h-1zM404.44 204.2h1v132.6h-1zM408.88 204.2h1v132.6h-1zM413.33 204.2h1v132.6h-1zM417.77 204.2h1v132.6h-1zM422.21 204.2h1v132.6h-1zM426.66 204.2h1v132.6h-1zM431.1 204.2h1v132.6h-1zM435.54 204.2h1v132.6h-1zM439.99 204.2h1v132.6h-1zM444.43 204.2h1v132.6h-1zM448.88 204.2h1v132.6h-1zM453.32 204.2h1v132.6h-1zM457.76 204.2h1v132.6h-1zM462.21 204.2h1v132.6h-1zM466.65 204.2h1v132.6h-1zM471.09 204.2h1v132.6h-1zM475.54 204.2h1v132.6h-1zM479.98 204.2h1v132.6h-1zM484.43 204.2h1v132.6h-1zM488.87 204.2h1v132.6h-1zM493.31 204.2h1v132.6h-1zM497.76 204.2h1v132.6h-1zM502.2 204.2h1v132.6h-1zM506.64 204.2h1v132.6h-1z"/>
<path fill="#888" fill-opacity="0.42" d="M511.2 204.2h0.8v132.6h-0.8z"/>
<g>
<text transform="translate(302.12 340.4) rotate(-90)" class="xl">ABO</text>
<text transform="translate(306.66 340.4) rotate(-90)" class="xl">D</text>
<text transform="translate(311.1 340.4) rotate(-90)" class="xl">V</text>
<text transform="translate(315.54 340.4) rotate(-90)" class="xl">VS</text>
<text transform="translate(319.99 340.4) rotate(-90)" class="xl">hrS</text>
<text transform="translate(324.43 340.4) rotate(-90)" class="xl">C</text>
<text transform="translate(328.87 340.4) rotate(-90)" class="xl">c</text>
<text transform="translate(333.32 340.4) rotate(-90)" class="xl">E</text>
<text transform="translate(337.76 340.4) rotate(-90)" class="xl">e</text>
<text transform="translate(342.21 340.4) rotate(-90)" class="xl">Cw</text>
<text transform="translate(346.65 340.4) rotate(-90)" class="xl">Cx</text>
<text transform="translate(351.09 340.4) rotate(-90)" class="xl">M</text>
<text transform="translate(355.54 340.4) rotate(-90)" class="xl">N</text>
<text transform="translate(359.98 340.4) rotate(-90)" class="xl">S</text>
<text transform="translate(364.42 340.4) rotate(-90)" class="xl">s</text>
<text transform="translate(368.87 340.4) rotate(-90)" class="xl">K</text>
<text transform="translate(373.31 340.4) rotate(-90)" class="xl">k</text>
<text transform="translate(377.75 340.4) rotate(-90)" class="xl">Kpa</text>
<text transform="translate(382.2 340.4) rotate(-90)" class="xl">Kpb</text>
<text transform="translate(386.64 340.4) rotate(-90)" class="xl">Jsa</text>
<text transform="translate(391.09 340.4) rotate(-90)" class="xl">Jsb</text>
<text transform="translate(395.53 340.4) rotate(-90)" class="xl">Fya</text>
<text transform="translate(399.97 340.4) rotate(-90)" class="xl">Fyb</text>
<text transform="translate(404.42 340.4) rotate(-90)" class="xl">Jka</text>
<text transform="translate(408.86 340.4) rotate(-90)" class="xl">Jkb</text>
<text transform="translate(413.3 340.4) rotate(-90)" class="xl">Lua</text>
<text transform="translate(417.75 340.4) rotate(-90)" class="xl">Lub</text>
<text transform="translate(422.19 340.4) rotate(-90)" class="xl">Dia</text>
<text transform="translate(426.64 340.4) rotate(-90)" class="xl">Dib</text>
<text transform="translate(431.08 340.4) rotate(-90)" class="xl">Wra</text>
<text transform="translate(435.52 340.4) rotate(-90)" class="xl">Yta</text>
<text transform="translate(439.97 340.4) rotate(-90)" class="xl">Ytb</text>
<text transform="translate(444.41 340.4) rotate(-90)" class="xl">Coa</text>
<text transform="translate(448.85 340.4) rotate(-90)" class="xl">Cob</text>
<text transform="translate(453.3 340.4) rotate(-90)" class="xl">Doa</text>
<text transform="translate(457.74 340.4) rotate(-90)" class="xl">Vel</text>
<text transform="translate(462.19 340.4) rotate(-90)" class="xl">Lan</text>
<text transform="translate(466.63 340.4) rotate(-90)" class="xl">HPA-1a</text>
<text transform="translate(471.07 340.4) rotate(-90)" class="xl">HPA-1b</text>
<text transform="translate(475.52 340.4) rotate(-90)" class="xl">HPA-2a</text>
<text transform="translate(479.96 340.4) rotate(-90)" class="xl">HPA-2b</text>
<text transform="translate(484.4 340.4) rotate(-90)" class="xl">HPA-3a</text>
<text transform="translate(488.85 340.4) rotate(-90)" class="xl">HPA-3b</text>
<text transform="translate(493.29 340.4) rotate(-90)" class="xl">HPA-5a</text>
<text transform="translate(497.73 340.4) rotate(-90)" class="xl">HPA-5b*</text>
<text transform="translate(502.18 340.4) rotate(-90)" class="xl">HPA-6b*</text>
<text transform="translate(506.62 340.4) rotate(-90)" class="xl">HPA-15a</text>
<text transform="translate(511.27 340.4) rotate(-90)" class="xl">HPA-15b</text>
</g>
<text transform="translate(15.3 182.3) rotate(-90)" class="tt" style="font-size:9.3px" text-anchor="middle" textLength="15.5" lengthAdjust="spacingAndGlyphs">Donor</text>
<text x="268.1" y="369" class="tt" textLength="19.9" lengthAdjust="spacingAndGlyphs">Antigen</text>
</g></svg></body></html>
